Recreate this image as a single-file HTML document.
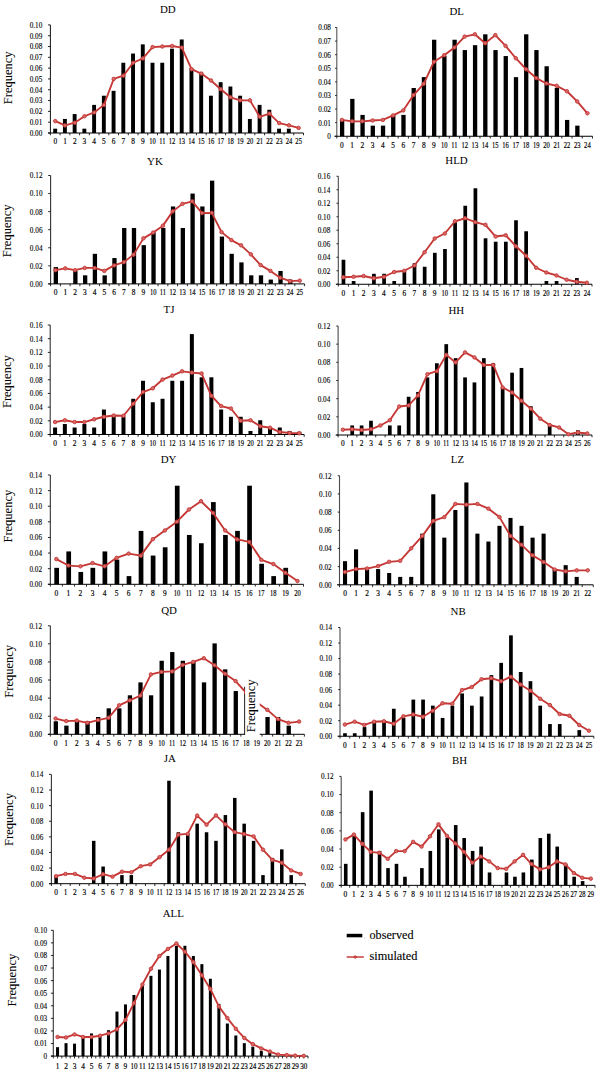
<!DOCTYPE html>
<html><head><meta charset="utf-8"><title>Frequency distributions</title>
<style>
html,body{margin:0;padding:0;background:#fff;}
body{width:600px;height:1074px;overflow:hidden;font-family:"Liberation Serif",serif;}
svg{display:block;font-family:"Liberation Serif",serif;}
</style></head><body>
<svg width="600" height="1074" viewBox="0 0 600 1074">
<rect width="600" height="1074" fill="#fff"/>
<text x="167.75" y="13.2" text-anchor="middle" font-size="10.9" fill="#000">DD</text>
<rect x="53.22" y="128.68" width="3.90" height="4.32" fill="#000"/>
<rect x="62.95" y="118.95" width="3.90" height="14.05" fill="#000"/>
<rect x="72.69" y="114.08" width="3.90" height="18.92" fill="#000"/>
<rect x="82.42" y="128.68" width="3.90" height="4.32" fill="#000"/>
<rect x="92.16" y="104.89" width="3.90" height="28.11" fill="#000"/>
<rect x="101.89" y="95.71" width="3.90" height="37.29" fill="#000"/>
<rect x="111.62" y="90.84" width="3.90" height="42.16" fill="#000"/>
<rect x="121.36" y="62.74" width="3.90" height="70.26" fill="#000"/>
<rect x="131.09" y="53.55" width="3.90" height="79.45" fill="#000"/>
<rect x="140.83" y="44.36" width="3.90" height="88.64" fill="#000"/>
<rect x="150.56" y="62.74" width="3.90" height="70.26" fill="#000"/>
<rect x="160.30" y="62.74" width="3.90" height="70.26" fill="#000"/>
<rect x="170.03" y="48.68" width="3.90" height="84.32" fill="#000"/>
<rect x="179.77" y="39.49" width="3.90" height="93.51" fill="#000"/>
<rect x="189.50" y="68.14" width="3.90" height="64.86" fill="#000"/>
<rect x="199.24" y="72.46" width="3.90" height="60.54" fill="#000"/>
<rect x="208.97" y="95.71" width="3.90" height="37.29" fill="#000"/>
<rect x="218.71" y="82.19" width="3.90" height="50.81" fill="#000"/>
<rect x="228.44" y="86.52" width="3.90" height="46.48" fill="#000"/>
<rect x="238.18" y="95.71" width="3.90" height="37.29" fill="#000"/>
<rect x="247.91" y="118.95" width="3.90" height="14.05" fill="#000"/>
<rect x="257.64" y="104.89" width="3.90" height="28.11" fill="#000"/>
<rect x="267.38" y="109.76" width="3.90" height="23.24" fill="#000"/>
<rect x="277.11" y="128.68" width="3.90" height="4.32" fill="#000"/>
<rect x="286.85" y="128.68" width="3.90" height="4.32" fill="#000"/>
<path d="M50.4 24.9V133" fill="none" stroke="#111" stroke-width="1"/>
<path d="M48.0 133H303.5" fill="none" stroke="#000" stroke-width="1"/>
<path d="M48.0 133.00H50.4" stroke="#111" stroke-width="0.9"/>
<text transform="translate(42.30,135.90) scale(0.88,1)" text-anchor="end" font-size="8.2" fill="#000" stroke="#000" stroke-width="0.12">0.00</text>
<path d="M48.0 122.19H50.4" stroke="#111" stroke-width="0.9"/>
<text transform="translate(42.30,125.09) scale(0.88,1)" text-anchor="end" font-size="8.2" fill="#000" stroke="#000" stroke-width="0.12">0.01</text>
<path d="M48.0 111.38H50.4" stroke="#111" stroke-width="0.9"/>
<text transform="translate(42.30,114.28) scale(0.88,1)" text-anchor="end" font-size="8.2" fill="#000" stroke="#000" stroke-width="0.12">0.02</text>
<path d="M48.0 100.57H50.4" stroke="#111" stroke-width="0.9"/>
<text transform="translate(42.30,103.47) scale(0.88,1)" text-anchor="end" font-size="8.2" fill="#000" stroke="#000" stroke-width="0.12">0.03</text>
<path d="M48.0 89.76H50.4" stroke="#111" stroke-width="0.9"/>
<text transform="translate(42.30,92.66) scale(0.88,1)" text-anchor="end" font-size="8.2" fill="#000" stroke="#000" stroke-width="0.12">0.04</text>
<path d="M48.0 78.95H50.4" stroke="#111" stroke-width="0.9"/>
<text transform="translate(42.30,81.85) scale(0.88,1)" text-anchor="end" font-size="8.2" fill="#000" stroke="#000" stroke-width="0.12">0.05</text>
<path d="M48.0 68.14H50.4" stroke="#111" stroke-width="0.9"/>
<text transform="translate(42.30,71.04) scale(0.88,1)" text-anchor="end" font-size="8.2" fill="#000" stroke="#000" stroke-width="0.12">0.06</text>
<path d="M48.0 57.33H50.4" stroke="#111" stroke-width="0.9"/>
<text transform="translate(42.30,60.23) scale(0.88,1)" text-anchor="end" font-size="8.2" fill="#000" stroke="#000" stroke-width="0.12">0.07</text>
<path d="M48.0 46.52H50.4" stroke="#111" stroke-width="0.9"/>
<text transform="translate(42.30,49.42) scale(0.88,1)" text-anchor="end" font-size="8.2" fill="#000" stroke="#000" stroke-width="0.12">0.08</text>
<path d="M48.0 35.71H50.4" stroke="#111" stroke-width="0.9"/>
<text transform="translate(42.30,38.61) scale(0.88,1)" text-anchor="end" font-size="8.2" fill="#000" stroke="#000" stroke-width="0.12">0.09</text>
<path d="M48.0 24.90H50.4" stroke="#111" stroke-width="0.9"/>
<text transform="translate(42.30,27.80) scale(0.88,1)" text-anchor="end" font-size="8.2" fill="#000" stroke="#000" stroke-width="0.12">0.10</text>
<path d="M50.40 133v2.3" stroke="#111" stroke-width="0.9"/>
<path d="M60.13 133v2.3" stroke="#111" stroke-width="0.9"/>
<path d="M69.87 133v2.3" stroke="#111" stroke-width="0.9"/>
<path d="M79.60 133v2.3" stroke="#111" stroke-width="0.9"/>
<path d="M89.34 133v2.3" stroke="#111" stroke-width="0.9"/>
<path d="M99.07 133v2.3" stroke="#111" stroke-width="0.9"/>
<path d="M108.81 133v2.3" stroke="#111" stroke-width="0.9"/>
<path d="M118.54 133v2.3" stroke="#111" stroke-width="0.9"/>
<path d="M128.28 133v2.3" stroke="#111" stroke-width="0.9"/>
<path d="M138.01 133v2.3" stroke="#111" stroke-width="0.9"/>
<path d="M147.75 133v2.3" stroke="#111" stroke-width="0.9"/>
<path d="M157.48 133v2.3" stroke="#111" stroke-width="0.9"/>
<path d="M167.22 133v2.3" stroke="#111" stroke-width="0.9"/>
<path d="M176.95 133v2.3" stroke="#111" stroke-width="0.9"/>
<path d="M186.68 133v2.3" stroke="#111" stroke-width="0.9"/>
<path d="M196.42 133v2.3" stroke="#111" stroke-width="0.9"/>
<path d="M206.15 133v2.3" stroke="#111" stroke-width="0.9"/>
<path d="M215.89 133v2.3" stroke="#111" stroke-width="0.9"/>
<path d="M225.62 133v2.3" stroke="#111" stroke-width="0.9"/>
<path d="M235.36 133v2.3" stroke="#111" stroke-width="0.9"/>
<path d="M245.09 133v2.3" stroke="#111" stroke-width="0.9"/>
<path d="M254.83 133v2.3" stroke="#111" stroke-width="0.9"/>
<path d="M264.56 133v2.3" stroke="#111" stroke-width="0.9"/>
<path d="M274.30 133v2.3" stroke="#111" stroke-width="0.9"/>
<path d="M284.03 133v2.3" stroke="#111" stroke-width="0.9"/>
<path d="M293.77 133v2.3" stroke="#111" stroke-width="0.9"/>
<path d="M303.50 133v2.3" stroke="#111" stroke-width="0.9"/>
<text transform="translate(55.27,144.30) scale(0.9,1)" text-anchor="middle" font-size="8.2" fill="#000" stroke="#000" stroke-width="0.18">0</text>
<text transform="translate(65.00,144.30) scale(0.9,1)" text-anchor="middle" font-size="8.2" fill="#000" stroke="#000" stroke-width="0.18">1</text>
<text transform="translate(74.74,144.30) scale(0.9,1)" text-anchor="middle" font-size="8.2" fill="#000" stroke="#000" stroke-width="0.18">2</text>
<text transform="translate(84.47,144.30) scale(0.9,1)" text-anchor="middle" font-size="8.2" fill="#000" stroke="#000" stroke-width="0.18">3</text>
<text transform="translate(94.21,144.30) scale(0.9,1)" text-anchor="middle" font-size="8.2" fill="#000" stroke="#000" stroke-width="0.18">4</text>
<text transform="translate(103.94,144.30) scale(0.9,1)" text-anchor="middle" font-size="8.2" fill="#000" stroke="#000" stroke-width="0.18">5</text>
<text transform="translate(113.67,144.30) scale(0.9,1)" text-anchor="middle" font-size="8.2" fill="#000" stroke="#000" stroke-width="0.18">6</text>
<text transform="translate(123.41,144.30) scale(0.9,1)" text-anchor="middle" font-size="8.2" fill="#000" stroke="#000" stroke-width="0.18">7</text>
<text transform="translate(133.14,144.30) scale(0.9,1)" text-anchor="middle" font-size="8.2" fill="#000" stroke="#000" stroke-width="0.18">8</text>
<text transform="translate(142.88,144.30) scale(0.9,1)" text-anchor="middle" font-size="8.2" fill="#000" stroke="#000" stroke-width="0.18">9</text>
<text transform="translate(152.61,144.30) scale(0.8,1)" text-anchor="middle" font-size="8.2" fill="#000" stroke="#000" stroke-width="0.18">10</text>
<text transform="translate(162.35,144.30) scale(0.8,1)" text-anchor="middle" font-size="8.2" fill="#000" stroke="#000" stroke-width="0.18">11</text>
<text transform="translate(172.08,144.30) scale(0.8,1)" text-anchor="middle" font-size="8.2" fill="#000" stroke="#000" stroke-width="0.18">12</text>
<text transform="translate(181.82,144.30) scale(0.8,1)" text-anchor="middle" font-size="8.2" fill="#000" stroke="#000" stroke-width="0.18">13</text>
<text transform="translate(191.55,144.30) scale(0.8,1)" text-anchor="middle" font-size="8.2" fill="#000" stroke="#000" stroke-width="0.18">14</text>
<text transform="translate(201.29,144.30) scale(0.8,1)" text-anchor="middle" font-size="8.2" fill="#000" stroke="#000" stroke-width="0.18">15</text>
<text transform="translate(211.02,144.30) scale(0.8,1)" text-anchor="middle" font-size="8.2" fill="#000" stroke="#000" stroke-width="0.18">16</text>
<text transform="translate(220.76,144.30) scale(0.8,1)" text-anchor="middle" font-size="8.2" fill="#000" stroke="#000" stroke-width="0.18">17</text>
<text transform="translate(230.49,144.30) scale(0.8,1)" text-anchor="middle" font-size="8.2" fill="#000" stroke="#000" stroke-width="0.18">18</text>
<text transform="translate(240.22,144.30) scale(0.8,1)" text-anchor="middle" font-size="8.2" fill="#000" stroke="#000" stroke-width="0.18">19</text>
<text transform="translate(249.96,144.30) scale(0.8,1)" text-anchor="middle" font-size="8.2" fill="#000" stroke="#000" stroke-width="0.18">20</text>
<text transform="translate(259.69,144.30) scale(0.8,1)" text-anchor="middle" font-size="8.2" fill="#000" stroke="#000" stroke-width="0.18">21</text>
<text transform="translate(269.43,144.30) scale(0.8,1)" text-anchor="middle" font-size="8.2" fill="#000" stroke="#000" stroke-width="0.18">22</text>
<text transform="translate(279.16,144.30) scale(0.8,1)" text-anchor="middle" font-size="8.2" fill="#000" stroke="#000" stroke-width="0.18">23</text>
<text transform="translate(288.90,144.30) scale(0.8,1)" text-anchor="middle" font-size="8.2" fill="#000" stroke="#000" stroke-width="0.18">24</text>
<text transform="translate(298.63,144.30) scale(0.8,1)" text-anchor="middle" font-size="8.2" fill="#000" stroke="#000" stroke-width="0.18">25</text>
<text transform="translate(12.399999999999999,77.8) rotate(-90)" text-anchor="middle" font-size="12.5" fill="#000" stroke="#000" stroke-width="0.06">Frequency</text>
<path d="M55.27 121.11 L65.00 125.43 L74.74 122.73 L84.47 116.24 L94.21 112.46 L103.94 104.89 L113.67 78.95 L123.41 75.71 L133.14 62.74 L142.88 58.41 L152.61 47.06 L162.35 46.52 L172.08 45.98 L181.82 47.60 L191.55 69.22 L201.29 73.55 L211.02 80.46 L220.76 89.22 L230.49 97.33 L240.22 100.35 L249.96 100.35 L259.69 116.78 L269.43 113.54 L279.16 123.05 L288.90 125.32 L298.63 127.92" fill="none" stroke="#c43735" stroke-width="1.85" stroke-linejoin="round"/>
<circle cx="55.27" cy="121.11" r="1.75" fill="#d96a68" stroke="#c43735" stroke-width="0.9"/>
<circle cx="65.00" cy="125.43" r="1.75" fill="#d96a68" stroke="#c43735" stroke-width="0.9"/>
<circle cx="74.74" cy="122.73" r="1.75" fill="#d96a68" stroke="#c43735" stroke-width="0.9"/>
<circle cx="84.47" cy="116.24" r="1.75" fill="#d96a68" stroke="#c43735" stroke-width="0.9"/>
<circle cx="94.21" cy="112.46" r="1.75" fill="#d96a68" stroke="#c43735" stroke-width="0.9"/>
<circle cx="103.94" cy="104.89" r="1.75" fill="#d96a68" stroke="#c43735" stroke-width="0.9"/>
<circle cx="113.67" cy="78.95" r="1.75" fill="#d96a68" stroke="#c43735" stroke-width="0.9"/>
<circle cx="123.41" cy="75.71" r="1.75" fill="#d96a68" stroke="#c43735" stroke-width="0.9"/>
<circle cx="133.14" cy="62.74" r="1.75" fill="#d96a68" stroke="#c43735" stroke-width="0.9"/>
<circle cx="142.88" cy="58.41" r="1.75" fill="#d96a68" stroke="#c43735" stroke-width="0.9"/>
<circle cx="152.61" cy="47.06" r="1.75" fill="#d96a68" stroke="#c43735" stroke-width="0.9"/>
<circle cx="162.35" cy="46.52" r="1.75" fill="#d96a68" stroke="#c43735" stroke-width="0.9"/>
<circle cx="172.08" cy="45.98" r="1.75" fill="#d96a68" stroke="#c43735" stroke-width="0.9"/>
<circle cx="181.82" cy="47.60" r="1.75" fill="#d96a68" stroke="#c43735" stroke-width="0.9"/>
<circle cx="191.55" cy="69.22" r="1.75" fill="#d96a68" stroke="#c43735" stroke-width="0.9"/>
<circle cx="201.29" cy="73.55" r="1.75" fill="#d96a68" stroke="#c43735" stroke-width="0.9"/>
<circle cx="211.02" cy="80.46" r="1.75" fill="#d96a68" stroke="#c43735" stroke-width="0.9"/>
<circle cx="220.76" cy="89.22" r="1.75" fill="#d96a68" stroke="#c43735" stroke-width="0.9"/>
<circle cx="230.49" cy="97.33" r="1.75" fill="#d96a68" stroke="#c43735" stroke-width="0.9"/>
<circle cx="240.22" cy="100.35" r="1.75" fill="#d96a68" stroke="#c43735" stroke-width="0.9"/>
<circle cx="249.96" cy="100.35" r="1.75" fill="#d96a68" stroke="#c43735" stroke-width="0.9"/>
<circle cx="259.69" cy="116.78" r="1.75" fill="#d96a68" stroke="#c43735" stroke-width="0.9"/>
<circle cx="269.43" cy="113.54" r="1.75" fill="#d96a68" stroke="#c43735" stroke-width="0.9"/>
<circle cx="279.16" cy="123.05" r="1.75" fill="#d96a68" stroke="#c43735" stroke-width="0.9"/>
<circle cx="288.90" cy="125.32" r="1.75" fill="#d96a68" stroke="#c43735" stroke-width="0.9"/>
<circle cx="298.63" cy="127.92" r="1.75" fill="#d96a68" stroke="#c43735" stroke-width="0.9"/>
<text x="456.75" y="15.1" text-anchor="middle" font-size="10.9" fill="#000">DL</text>
<rect x="339.96" y="119.94" width="4.30" height="16.31" fill="#000"/>
<rect x="350.19" y="98.87" width="4.30" height="37.38" fill="#000"/>
<rect x="360.42" y="114.91" width="4.30" height="21.34" fill="#000"/>
<rect x="370.65" y="125.65" width="4.30" height="10.60" fill="#000"/>
<rect x="380.88" y="125.65" width="4.30" height="10.60" fill="#000"/>
<rect x="391.10" y="114.91" width="4.30" height="21.34" fill="#000"/>
<rect x="401.33" y="114.91" width="4.30" height="21.34" fill="#000"/>
<rect x="411.56" y="87.99" width="4.30" height="48.26" fill="#000"/>
<rect x="421.79" y="77.12" width="4.30" height="59.13" fill="#000"/>
<rect x="432.02" y="39.73" width="4.30" height="96.52" fill="#000"/>
<rect x="442.24" y="56.05" width="4.30" height="80.20" fill="#000"/>
<rect x="452.47" y="39.73" width="4.30" height="96.52" fill="#000"/>
<rect x="462.70" y="50.07" width="4.30" height="86.18" fill="#000"/>
<rect x="472.93" y="45.17" width="4.30" height="91.08" fill="#000"/>
<rect x="483.16" y="34.30" width="4.30" height="101.95" fill="#000"/>
<rect x="493.38" y="50.07" width="4.30" height="86.18" fill="#000"/>
<rect x="503.61" y="56.05" width="4.30" height="80.20" fill="#000"/>
<rect x="513.84" y="77.12" width="4.30" height="59.13" fill="#000"/>
<rect x="524.07" y="34.30" width="4.30" height="101.95" fill="#000"/>
<rect x="534.30" y="50.07" width="4.30" height="86.18" fill="#000"/>
<rect x="544.52" y="66.24" width="4.30" height="70.01" fill="#000"/>
<rect x="554.75" y="87.99" width="4.30" height="48.26" fill="#000"/>
<rect x="564.98" y="119.94" width="4.30" height="16.31" fill="#000"/>
<rect x="575.21" y="125.65" width="4.30" height="10.60" fill="#000"/>
<path d="M336.8 27.5V136.25" fill="none" stroke="#555" stroke-width="1.1"/>
<path d="M334.40000000000003 136.25H592.5" fill="none" stroke="#000" stroke-width="1"/>
<path d="M335.1 136.25H336.8" stroke="#111" stroke-width="0.9"/>
<text transform="translate(330.90,139.15) scale(0.88,1)" text-anchor="end" font-size="8.2" fill="#000" stroke="#000" stroke-width="0.12">0</text>
<path d="M335.1 122.66H336.8" stroke="#111" stroke-width="0.9"/>
<text transform="translate(330.90,125.56) scale(0.88,1)" text-anchor="end" font-size="8.2" fill="#000" stroke="#000" stroke-width="0.12">0.01</text>
<path d="M335.1 109.06H336.8" stroke="#111" stroke-width="0.9"/>
<text transform="translate(330.90,111.96) scale(0.88,1)" text-anchor="end" font-size="8.2" fill="#000" stroke="#000" stroke-width="0.12">0.02</text>
<path d="M335.1 95.47H336.8" stroke="#111" stroke-width="0.9"/>
<text transform="translate(330.90,98.37) scale(0.88,1)" text-anchor="end" font-size="8.2" fill="#000" stroke="#000" stroke-width="0.12">0.03</text>
<path d="M335.1 81.88H336.8" stroke="#111" stroke-width="0.9"/>
<text transform="translate(330.90,84.78) scale(0.88,1)" text-anchor="end" font-size="8.2" fill="#000" stroke="#000" stroke-width="0.12">0.04</text>
<path d="M335.1 68.28H336.8" stroke="#111" stroke-width="0.9"/>
<text transform="translate(330.90,71.18) scale(0.88,1)" text-anchor="end" font-size="8.2" fill="#000" stroke="#000" stroke-width="0.12">0.05</text>
<path d="M335.1 54.69H336.8" stroke="#111" stroke-width="0.9"/>
<text transform="translate(330.90,57.59) scale(0.88,1)" text-anchor="end" font-size="8.2" fill="#000" stroke="#000" stroke-width="0.12">0.06</text>
<path d="M335.1 41.09H336.8" stroke="#111" stroke-width="0.9"/>
<text transform="translate(330.90,43.99) scale(0.88,1)" text-anchor="end" font-size="8.2" fill="#000" stroke="#000" stroke-width="0.12">0.07</text>
<path d="M335.1 27.50H336.8" stroke="#111" stroke-width="0.9"/>
<text transform="translate(330.90,30.40) scale(0.88,1)" text-anchor="end" font-size="8.2" fill="#000" stroke="#000" stroke-width="0.12">0.08</text>
<path d="M336.80 136.25v2.3" stroke="#111" stroke-width="0.9"/>
<path d="M347.03 136.25v2.3" stroke="#111" stroke-width="0.9"/>
<path d="M357.26 136.25v2.3" stroke="#111" stroke-width="0.9"/>
<path d="M367.48 136.25v2.3" stroke="#111" stroke-width="0.9"/>
<path d="M377.71 136.25v2.3" stroke="#111" stroke-width="0.9"/>
<path d="M387.94 136.25v2.3" stroke="#111" stroke-width="0.9"/>
<path d="M398.17 136.25v2.3" stroke="#111" stroke-width="0.9"/>
<path d="M408.40 136.25v2.3" stroke="#111" stroke-width="0.9"/>
<path d="M418.62 136.25v2.3" stroke="#111" stroke-width="0.9"/>
<path d="M428.85 136.25v2.3" stroke="#111" stroke-width="0.9"/>
<path d="M439.08 136.25v2.3" stroke="#111" stroke-width="0.9"/>
<path d="M449.31 136.25v2.3" stroke="#111" stroke-width="0.9"/>
<path d="M459.54 136.25v2.3" stroke="#111" stroke-width="0.9"/>
<path d="M469.76 136.25v2.3" stroke="#111" stroke-width="0.9"/>
<path d="M479.99 136.25v2.3" stroke="#111" stroke-width="0.9"/>
<path d="M490.22 136.25v2.3" stroke="#111" stroke-width="0.9"/>
<path d="M500.45 136.25v2.3" stroke="#111" stroke-width="0.9"/>
<path d="M510.68 136.25v2.3" stroke="#111" stroke-width="0.9"/>
<path d="M520.90 136.25v2.3" stroke="#111" stroke-width="0.9"/>
<path d="M531.13 136.25v2.3" stroke="#111" stroke-width="0.9"/>
<path d="M541.36 136.25v2.3" stroke="#111" stroke-width="0.9"/>
<path d="M551.59 136.25v2.3" stroke="#111" stroke-width="0.9"/>
<path d="M561.82 136.25v2.3" stroke="#111" stroke-width="0.9"/>
<path d="M572.04 136.25v2.3" stroke="#111" stroke-width="0.9"/>
<path d="M582.27 136.25v2.3" stroke="#111" stroke-width="0.9"/>
<path d="M592.50 136.25v2.3" stroke="#111" stroke-width="0.9"/>
<text transform="translate(341.91,147.55) scale(0.9,1)" text-anchor="middle" font-size="8.2" fill="#000" stroke="#000" stroke-width="0.18">0</text>
<text transform="translate(352.14,147.55) scale(0.9,1)" text-anchor="middle" font-size="8.2" fill="#000" stroke="#000" stroke-width="0.18">1</text>
<text transform="translate(362.37,147.55) scale(0.9,1)" text-anchor="middle" font-size="8.2" fill="#000" stroke="#000" stroke-width="0.18">2</text>
<text transform="translate(372.60,147.55) scale(0.9,1)" text-anchor="middle" font-size="8.2" fill="#000" stroke="#000" stroke-width="0.18">3</text>
<text transform="translate(382.83,147.55) scale(0.9,1)" text-anchor="middle" font-size="8.2" fill="#000" stroke="#000" stroke-width="0.18">4</text>
<text transform="translate(393.05,147.55) scale(0.9,1)" text-anchor="middle" font-size="8.2" fill="#000" stroke="#000" stroke-width="0.18">5</text>
<text transform="translate(403.28,147.55) scale(0.9,1)" text-anchor="middle" font-size="8.2" fill="#000" stroke="#000" stroke-width="0.18">6</text>
<text transform="translate(413.51,147.55) scale(0.9,1)" text-anchor="middle" font-size="8.2" fill="#000" stroke="#000" stroke-width="0.18">7</text>
<text transform="translate(423.74,147.55) scale(0.9,1)" text-anchor="middle" font-size="8.2" fill="#000" stroke="#000" stroke-width="0.18">8</text>
<text transform="translate(433.97,147.55) scale(0.9,1)" text-anchor="middle" font-size="8.2" fill="#000" stroke="#000" stroke-width="0.18">9</text>
<text transform="translate(444.19,147.55) scale(0.8,1)" text-anchor="middle" font-size="8.2" fill="#000" stroke="#000" stroke-width="0.18">10</text>
<text transform="translate(454.42,147.55) scale(0.8,1)" text-anchor="middle" font-size="8.2" fill="#000" stroke="#000" stroke-width="0.18">11</text>
<text transform="translate(464.65,147.55) scale(0.8,1)" text-anchor="middle" font-size="8.2" fill="#000" stroke="#000" stroke-width="0.18">12</text>
<text transform="translate(474.88,147.55) scale(0.8,1)" text-anchor="middle" font-size="8.2" fill="#000" stroke="#000" stroke-width="0.18">13</text>
<text transform="translate(485.11,147.55) scale(0.8,1)" text-anchor="middle" font-size="8.2" fill="#000" stroke="#000" stroke-width="0.18">14</text>
<text transform="translate(495.33,147.55) scale(0.8,1)" text-anchor="middle" font-size="8.2" fill="#000" stroke="#000" stroke-width="0.18">15</text>
<text transform="translate(505.56,147.55) scale(0.8,1)" text-anchor="middle" font-size="8.2" fill="#000" stroke="#000" stroke-width="0.18">16</text>
<text transform="translate(515.79,147.55) scale(0.8,1)" text-anchor="middle" font-size="8.2" fill="#000" stroke="#000" stroke-width="0.18">17</text>
<text transform="translate(526.02,147.55) scale(0.8,1)" text-anchor="middle" font-size="8.2" fill="#000" stroke="#000" stroke-width="0.18">18</text>
<text transform="translate(536.25,147.55) scale(0.8,1)" text-anchor="middle" font-size="8.2" fill="#000" stroke="#000" stroke-width="0.18">19</text>
<text transform="translate(546.47,147.55) scale(0.8,1)" text-anchor="middle" font-size="8.2" fill="#000" stroke="#000" stroke-width="0.18">20</text>
<text transform="translate(556.70,147.55) scale(0.8,1)" text-anchor="middle" font-size="8.2" fill="#000" stroke="#000" stroke-width="0.18">21</text>
<text transform="translate(566.93,147.55) scale(0.8,1)" text-anchor="middle" font-size="8.2" fill="#000" stroke="#000" stroke-width="0.18">22</text>
<text transform="translate(577.16,147.55) scale(0.8,1)" text-anchor="middle" font-size="8.2" fill="#000" stroke="#000" stroke-width="0.18">23</text>
<text transform="translate(587.39,147.55) scale(0.8,1)" text-anchor="middle" font-size="8.2" fill="#000" stroke="#000" stroke-width="0.18">24</text>
<path d="M341.91 119.94 L352.14 121.30 L362.37 121.30 L372.60 120.48 L382.83 119.94 L393.05 115.45 L403.28 110.42 L413.51 95.06 L423.74 83.78 L433.97 61.76 L444.19 55.23 L454.42 47.48 L464.65 36.61 L474.88 34.30 L485.11 43.27 L495.33 35.11 L505.56 45.85 L515.79 58.22 L526.02 69.23 L536.25 78.07 L546.47 83.51 L556.70 85.82 L566.93 91.25 L577.16 101.45 L587.39 113.28" fill="none" stroke="#c43735" stroke-width="1.85" stroke-linejoin="round"/>
<circle cx="341.91" cy="119.94" r="1.75" fill="#d96a68" stroke="#c43735" stroke-width="0.9"/>
<circle cx="352.14" cy="121.30" r="1.75" fill="#d96a68" stroke="#c43735" stroke-width="0.9"/>
<circle cx="362.37" cy="121.30" r="1.75" fill="#d96a68" stroke="#c43735" stroke-width="0.9"/>
<circle cx="372.60" cy="120.48" r="1.75" fill="#d96a68" stroke="#c43735" stroke-width="0.9"/>
<circle cx="382.83" cy="119.94" r="1.75" fill="#d96a68" stroke="#c43735" stroke-width="0.9"/>
<circle cx="393.05" cy="115.45" r="1.75" fill="#d96a68" stroke="#c43735" stroke-width="0.9"/>
<circle cx="403.28" cy="110.42" r="1.75" fill="#d96a68" stroke="#c43735" stroke-width="0.9"/>
<circle cx="413.51" cy="95.06" r="1.75" fill="#d96a68" stroke="#c43735" stroke-width="0.9"/>
<circle cx="423.74" cy="83.78" r="1.75" fill="#d96a68" stroke="#c43735" stroke-width="0.9"/>
<circle cx="433.97" cy="61.76" r="1.75" fill="#d96a68" stroke="#c43735" stroke-width="0.9"/>
<circle cx="444.19" cy="55.23" r="1.75" fill="#d96a68" stroke="#c43735" stroke-width="0.9"/>
<circle cx="454.42" cy="47.48" r="1.75" fill="#d96a68" stroke="#c43735" stroke-width="0.9"/>
<circle cx="464.65" cy="36.61" r="1.75" fill="#d96a68" stroke="#c43735" stroke-width="0.9"/>
<circle cx="474.88" cy="34.30" r="1.75" fill="#d96a68" stroke="#c43735" stroke-width="0.9"/>
<circle cx="485.11" cy="43.27" r="1.75" fill="#d96a68" stroke="#c43735" stroke-width="0.9"/>
<circle cx="495.33" cy="35.11" r="1.75" fill="#d96a68" stroke="#c43735" stroke-width="0.9"/>
<circle cx="505.56" cy="45.85" r="1.75" fill="#d96a68" stroke="#c43735" stroke-width="0.9"/>
<circle cx="515.79" cy="58.22" r="1.75" fill="#d96a68" stroke="#c43735" stroke-width="0.9"/>
<circle cx="526.02" cy="69.23" r="1.75" fill="#d96a68" stroke="#c43735" stroke-width="0.9"/>
<circle cx="536.25" cy="78.07" r="1.75" fill="#d96a68" stroke="#c43735" stroke-width="0.9"/>
<circle cx="546.47" cy="83.51" r="1.75" fill="#d96a68" stroke="#c43735" stroke-width="0.9"/>
<circle cx="556.70" cy="85.82" r="1.75" fill="#d96a68" stroke="#c43735" stroke-width="0.9"/>
<circle cx="566.93" cy="91.25" r="1.75" fill="#d96a68" stroke="#c43735" stroke-width="0.9"/>
<circle cx="577.16" cy="101.45" r="1.75" fill="#d96a68" stroke="#c43735" stroke-width="0.9"/>
<circle cx="587.39" cy="113.28" r="1.75" fill="#d96a68" stroke="#c43735" stroke-width="0.9"/>
<text x="154.9" y="164.8" text-anchor="middle" font-size="10.9" fill="#000">YK</text>
<rect x="53.68" y="267.10" width="4.30" height="16.80" fill="#000"/>
<rect x="73.22" y="270.98" width="4.30" height="12.92" fill="#000"/>
<rect x="82.99" y="275.32" width="4.30" height="8.58" fill="#000"/>
<rect x="92.76" y="253.82" width="4.30" height="30.08" fill="#000"/>
<rect x="102.53" y="275.32" width="4.30" height="8.58" fill="#000"/>
<rect x="112.30" y="258.06" width="4.30" height="25.84" fill="#000"/>
<rect x="122.07" y="227.98" width="4.30" height="55.92" fill="#000"/>
<rect x="131.84" y="227.98" width="4.30" height="55.92" fill="#000"/>
<rect x="141.61" y="245.15" width="4.30" height="38.75" fill="#000"/>
<rect x="151.38" y="232.32" width="4.30" height="51.58" fill="#000"/>
<rect x="161.15" y="227.98" width="4.30" height="55.92" fill="#000"/>
<rect x="170.92" y="206.48" width="4.30" height="77.42" fill="#000"/>
<rect x="180.68" y="227.98" width="4.30" height="55.92" fill="#000"/>
<rect x="190.45" y="193.57" width="4.30" height="90.33" fill="#000"/>
<rect x="200.22" y="206.48" width="4.30" height="77.42" fill="#000"/>
<rect x="209.99" y="180.65" width="4.30" height="103.25" fill="#000"/>
<rect x="219.76" y="236.57" width="4.30" height="47.33" fill="#000"/>
<rect x="229.53" y="253.82" width="4.30" height="30.08" fill="#000"/>
<rect x="239.30" y="262.40" width="4.30" height="21.50" fill="#000"/>
<rect x="249.07" y="275.32" width="4.30" height="8.58" fill="#000"/>
<rect x="258.84" y="275.32" width="4.30" height="8.58" fill="#000"/>
<rect x="268.61" y="279.56" width="4.30" height="4.34" fill="#000"/>
<rect x="278.38" y="270.98" width="4.30" height="12.92" fill="#000"/>
<rect x="288.15" y="279.56" width="4.30" height="4.34" fill="#000"/>
<path d="M50.6 175.5V283.9" fill="none" stroke="#333" stroke-width="1.1"/>
<path d="M48.2 283.9H304.6" fill="none" stroke="#000" stroke-width="1"/>
<path d="M48.2 283.90H50.6" stroke="#111" stroke-width="0.9"/>
<text transform="translate(42.50,286.80) scale(0.88,1)" text-anchor="end" font-size="8.2" fill="#000" stroke="#000" stroke-width="0.12">0.00</text>
<path d="M48.2 265.83H50.6" stroke="#111" stroke-width="0.9"/>
<text transform="translate(42.50,268.73) scale(0.88,1)" text-anchor="end" font-size="8.2" fill="#000" stroke="#000" stroke-width="0.12">0.02</text>
<path d="M48.2 247.77H50.6" stroke="#111" stroke-width="0.9"/>
<text transform="translate(42.50,250.67) scale(0.88,1)" text-anchor="end" font-size="8.2" fill="#000" stroke="#000" stroke-width="0.12">0.04</text>
<path d="M48.2 229.70H50.6" stroke="#111" stroke-width="0.9"/>
<text transform="translate(42.50,232.60) scale(0.88,1)" text-anchor="end" font-size="8.2" fill="#000" stroke="#000" stroke-width="0.12">0.06</text>
<path d="M48.2 211.63H50.6" stroke="#111" stroke-width="0.9"/>
<text transform="translate(42.50,214.53) scale(0.88,1)" text-anchor="end" font-size="8.2" fill="#000" stroke="#000" stroke-width="0.12">0.08</text>
<path d="M48.2 193.57H50.6" stroke="#111" stroke-width="0.9"/>
<text transform="translate(42.50,196.47) scale(0.88,1)" text-anchor="end" font-size="8.2" fill="#000" stroke="#000" stroke-width="0.12">0.10</text>
<path d="M48.2 175.50H50.6" stroke="#111" stroke-width="0.9"/>
<text transform="translate(42.50,178.40) scale(0.88,1)" text-anchor="end" font-size="8.2" fill="#000" stroke="#000" stroke-width="0.12">0.12</text>
<path d="M50.60 283.9v2.3" stroke="#111" stroke-width="0.9"/>
<path d="M60.37 283.9v2.3" stroke="#111" stroke-width="0.9"/>
<path d="M70.14 283.9v2.3" stroke="#111" stroke-width="0.9"/>
<path d="M79.91 283.9v2.3" stroke="#111" stroke-width="0.9"/>
<path d="M89.68 283.9v2.3" stroke="#111" stroke-width="0.9"/>
<path d="M99.45 283.9v2.3" stroke="#111" stroke-width="0.9"/>
<path d="M109.22 283.9v2.3" stroke="#111" stroke-width="0.9"/>
<path d="M118.98 283.9v2.3" stroke="#111" stroke-width="0.9"/>
<path d="M128.75 283.9v2.3" stroke="#111" stroke-width="0.9"/>
<path d="M138.52 283.9v2.3" stroke="#111" stroke-width="0.9"/>
<path d="M148.29 283.9v2.3" stroke="#111" stroke-width="0.9"/>
<path d="M158.06 283.9v2.3" stroke="#111" stroke-width="0.9"/>
<path d="M167.83 283.9v2.3" stroke="#111" stroke-width="0.9"/>
<path d="M177.60 283.9v2.3" stroke="#111" stroke-width="0.9"/>
<path d="M187.37 283.9v2.3" stroke="#111" stroke-width="0.9"/>
<path d="M197.14 283.9v2.3" stroke="#111" stroke-width="0.9"/>
<path d="M206.91 283.9v2.3" stroke="#111" stroke-width="0.9"/>
<path d="M216.68 283.9v2.3" stroke="#111" stroke-width="0.9"/>
<path d="M226.45 283.9v2.3" stroke="#111" stroke-width="0.9"/>
<path d="M236.22 283.9v2.3" stroke="#111" stroke-width="0.9"/>
<path d="M245.98 283.9v2.3" stroke="#111" stroke-width="0.9"/>
<path d="M255.75 283.9v2.3" stroke="#111" stroke-width="0.9"/>
<path d="M265.52 283.9v2.3" stroke="#111" stroke-width="0.9"/>
<path d="M275.29 283.9v2.3" stroke="#111" stroke-width="0.9"/>
<path d="M285.06 283.9v2.3" stroke="#111" stroke-width="0.9"/>
<path d="M294.83 283.9v2.3" stroke="#111" stroke-width="0.9"/>
<path d="M304.60 283.9v2.3" stroke="#111" stroke-width="0.9"/>
<text transform="translate(55.48,295.20) scale(0.9,1)" text-anchor="middle" font-size="8.2" fill="#000" stroke="#000" stroke-width="0.18">0</text>
<text transform="translate(65.25,295.20) scale(0.9,1)" text-anchor="middle" font-size="8.2" fill="#000" stroke="#000" stroke-width="0.18">1</text>
<text transform="translate(75.02,295.20) scale(0.9,1)" text-anchor="middle" font-size="8.2" fill="#000" stroke="#000" stroke-width="0.18">2</text>
<text transform="translate(84.79,295.20) scale(0.9,1)" text-anchor="middle" font-size="8.2" fill="#000" stroke="#000" stroke-width="0.18">3</text>
<text transform="translate(94.56,295.20) scale(0.9,1)" text-anchor="middle" font-size="8.2" fill="#000" stroke="#000" stroke-width="0.18">4</text>
<text transform="translate(104.33,295.20) scale(0.9,1)" text-anchor="middle" font-size="8.2" fill="#000" stroke="#000" stroke-width="0.18">5</text>
<text transform="translate(114.10,295.20) scale(0.9,1)" text-anchor="middle" font-size="8.2" fill="#000" stroke="#000" stroke-width="0.18">6</text>
<text transform="translate(123.87,295.20) scale(0.9,1)" text-anchor="middle" font-size="8.2" fill="#000" stroke="#000" stroke-width="0.18">7</text>
<text transform="translate(133.64,295.20) scale(0.9,1)" text-anchor="middle" font-size="8.2" fill="#000" stroke="#000" stroke-width="0.18">8</text>
<text transform="translate(143.41,295.20) scale(0.9,1)" text-anchor="middle" font-size="8.2" fill="#000" stroke="#000" stroke-width="0.18">9</text>
<text transform="translate(153.18,295.20) scale(0.8,1)" text-anchor="middle" font-size="8.2" fill="#000" stroke="#000" stroke-width="0.18">10</text>
<text transform="translate(162.95,295.20) scale(0.8,1)" text-anchor="middle" font-size="8.2" fill="#000" stroke="#000" stroke-width="0.18">11</text>
<text transform="translate(172.72,295.20) scale(0.8,1)" text-anchor="middle" font-size="8.2" fill="#000" stroke="#000" stroke-width="0.18">12</text>
<text transform="translate(182.48,295.20) scale(0.8,1)" text-anchor="middle" font-size="8.2" fill="#000" stroke="#000" stroke-width="0.18">13</text>
<text transform="translate(192.25,295.20) scale(0.8,1)" text-anchor="middle" font-size="8.2" fill="#000" stroke="#000" stroke-width="0.18">14</text>
<text transform="translate(202.02,295.20) scale(0.8,1)" text-anchor="middle" font-size="8.2" fill="#000" stroke="#000" stroke-width="0.18">15</text>
<text transform="translate(211.79,295.20) scale(0.8,1)" text-anchor="middle" font-size="8.2" fill="#000" stroke="#000" stroke-width="0.18">16</text>
<text transform="translate(221.56,295.20) scale(0.8,1)" text-anchor="middle" font-size="8.2" fill="#000" stroke="#000" stroke-width="0.18">17</text>
<text transform="translate(231.33,295.20) scale(0.8,1)" text-anchor="middle" font-size="8.2" fill="#000" stroke="#000" stroke-width="0.18">18</text>
<text transform="translate(241.10,295.20) scale(0.8,1)" text-anchor="middle" font-size="8.2" fill="#000" stroke="#000" stroke-width="0.18">19</text>
<text transform="translate(250.87,295.20) scale(0.8,1)" text-anchor="middle" font-size="8.2" fill="#000" stroke="#000" stroke-width="0.18">20</text>
<text transform="translate(260.64,295.20) scale(0.8,1)" text-anchor="middle" font-size="8.2" fill="#000" stroke="#000" stroke-width="0.18">21</text>
<text transform="translate(270.41,295.20) scale(0.8,1)" text-anchor="middle" font-size="8.2" fill="#000" stroke="#000" stroke-width="0.18">22</text>
<text transform="translate(280.18,295.20) scale(0.8,1)" text-anchor="middle" font-size="8.2" fill="#000" stroke="#000" stroke-width="0.18">23</text>
<text transform="translate(289.95,295.20) scale(0.8,1)" text-anchor="middle" font-size="8.2" fill="#000" stroke="#000" stroke-width="0.18">24</text>
<text transform="translate(299.72,295.20) scale(0.8,1)" text-anchor="middle" font-size="8.2" fill="#000" stroke="#000" stroke-width="0.18">25</text>
<text transform="translate(11.1,230.9) rotate(-90)" text-anchor="middle" font-size="12.5" fill="#000" stroke="#000" stroke-width="0.06">Frequency</text>
<path d="M55.48 270.17 L65.25 268.36 L75.02 270.17 L84.79 267.91 L94.56 267.91 L104.33 270.89 L114.10 265.38 L123.87 262.13 L133.64 254.63 L143.41 238.37 L153.18 232.59 L162.95 225.63 L172.72 211.36 L182.48 203.86 L192.25 201.34 L202.02 213.08 L211.79 212.81 L221.56 232.14 L231.33 240.09 L241.10 245.33 L250.87 254.36 L260.64 265.11 L270.41 270.89 L280.18 277.67 L289.95 281.19 L299.72 280.65" fill="none" stroke="#c43735" stroke-width="1.85" stroke-linejoin="round"/>
<circle cx="55.48" cy="270.17" r="1.75" fill="#d96a68" stroke="#c43735" stroke-width="0.9"/>
<circle cx="65.25" cy="268.36" r="1.75" fill="#d96a68" stroke="#c43735" stroke-width="0.9"/>
<circle cx="75.02" cy="270.17" r="1.75" fill="#d96a68" stroke="#c43735" stroke-width="0.9"/>
<circle cx="84.79" cy="267.91" r="1.75" fill="#d96a68" stroke="#c43735" stroke-width="0.9"/>
<circle cx="94.56" cy="267.91" r="1.75" fill="#d96a68" stroke="#c43735" stroke-width="0.9"/>
<circle cx="104.33" cy="270.89" r="1.75" fill="#d96a68" stroke="#c43735" stroke-width="0.9"/>
<circle cx="114.10" cy="265.38" r="1.75" fill="#d96a68" stroke="#c43735" stroke-width="0.9"/>
<circle cx="123.87" cy="262.13" r="1.75" fill="#d96a68" stroke="#c43735" stroke-width="0.9"/>
<circle cx="133.64" cy="254.63" r="1.75" fill="#d96a68" stroke="#c43735" stroke-width="0.9"/>
<circle cx="143.41" cy="238.37" r="1.75" fill="#d96a68" stroke="#c43735" stroke-width="0.9"/>
<circle cx="153.18" cy="232.59" r="1.75" fill="#d96a68" stroke="#c43735" stroke-width="0.9"/>
<circle cx="162.95" cy="225.63" r="1.75" fill="#d96a68" stroke="#c43735" stroke-width="0.9"/>
<circle cx="172.72" cy="211.36" r="1.75" fill="#d96a68" stroke="#c43735" stroke-width="0.9"/>
<circle cx="182.48" cy="203.86" r="1.75" fill="#d96a68" stroke="#c43735" stroke-width="0.9"/>
<circle cx="192.25" cy="201.34" r="1.75" fill="#d96a68" stroke="#c43735" stroke-width="0.9"/>
<circle cx="202.02" cy="213.08" r="1.75" fill="#d96a68" stroke="#c43735" stroke-width="0.9"/>
<circle cx="211.79" cy="212.81" r="1.75" fill="#d96a68" stroke="#c43735" stroke-width="0.9"/>
<circle cx="221.56" cy="232.14" r="1.75" fill="#d96a68" stroke="#c43735" stroke-width="0.9"/>
<circle cx="231.33" cy="240.09" r="1.75" fill="#d96a68" stroke="#c43735" stroke-width="0.9"/>
<circle cx="241.10" cy="245.33" r="1.75" fill="#d96a68" stroke="#c43735" stroke-width="0.9"/>
<circle cx="250.87" cy="254.36" r="1.75" fill="#d96a68" stroke="#c43735" stroke-width="0.9"/>
<circle cx="260.64" cy="265.11" r="1.75" fill="#d96a68" stroke="#c43735" stroke-width="0.9"/>
<circle cx="270.41" cy="270.89" r="1.75" fill="#d96a68" stroke="#c43735" stroke-width="0.9"/>
<circle cx="280.18" cy="277.67" r="1.75" fill="#d96a68" stroke="#c43735" stroke-width="0.9"/>
<circle cx="289.95" cy="281.19" r="1.75" fill="#d96a68" stroke="#c43735" stroke-width="0.9"/>
<circle cx="299.72" cy="280.65" r="1.75" fill="#d96a68" stroke="#c43735" stroke-width="0.9"/>
<text x="456.5" y="163.5" text-anchor="middle" font-size="10.9" fill="#000">HLD</text>
<rect x="341.62" y="259.75" width="3.70" height="24.50" fill="#000"/>
<rect x="351.77" y="281.01" width="3.70" height="3.24" fill="#000"/>
<rect x="372.07" y="273.79" width="3.70" height="10.46" fill="#000"/>
<rect x="382.22" y="273.79" width="3.70" height="10.46" fill="#000"/>
<rect x="392.36" y="281.01" width="3.70" height="3.24" fill="#000"/>
<rect x="402.51" y="271.43" width="3.70" height="12.82" fill="#000"/>
<rect x="412.66" y="263.26" width="3.70" height="20.99" fill="#000"/>
<rect x="422.81" y="266.77" width="3.70" height="17.48" fill="#000"/>
<rect x="432.96" y="252.79" width="3.70" height="31.46" fill="#000"/>
<rect x="443.10" y="249.01" width="3.70" height="35.23" fill="#000"/>
<rect x="453.25" y="222.15" width="3.70" height="62.10" fill="#000"/>
<rect x="463.40" y="205.75" width="3.70" height="78.50" fill="#000"/>
<rect x="473.55" y="188.26" width="3.70" height="95.98" fill="#000"/>
<rect x="483.70" y="238.28" width="3.70" height="45.97" fill="#000"/>
<rect x="493.84" y="241.72" width="3.70" height="42.52" fill="#000"/>
<rect x="503.99" y="241.72" width="3.70" height="42.52" fill="#000"/>
<rect x="514.14" y="220.26" width="3.70" height="63.99" fill="#000"/>
<rect x="524.29" y="231.26" width="3.70" height="52.99" fill="#000"/>
<rect x="544.58" y="281.01" width="3.70" height="3.24" fill="#000"/>
<rect x="554.73" y="281.01" width="3.70" height="3.24" fill="#000"/>
<rect x="575.03" y="278.04" width="3.70" height="6.21" fill="#000"/>
<path d="M338.3 176.25V284.25" fill="none" stroke="#4a4a4a" stroke-width="1.1"/>
<path d="M335.90000000000003 284.25H592" fill="none" stroke="#000" stroke-width="1"/>
<path d="M336.5 284.25H338.3" stroke="#111" stroke-width="0.9"/>
<text transform="translate(330.30,287.15) scale(0.88,1)" text-anchor="end" font-size="8.2" fill="#000" stroke="#000" stroke-width="0.12">0.00</text>
<path d="M336.5 270.75H338.3" stroke="#111" stroke-width="0.9"/>
<text transform="translate(330.30,273.65) scale(0.88,1)" text-anchor="end" font-size="8.2" fill="#000" stroke="#000" stroke-width="0.12">0.02</text>
<path d="M336.5 257.25H338.3" stroke="#111" stroke-width="0.9"/>
<text transform="translate(330.30,260.15) scale(0.88,1)" text-anchor="end" font-size="8.2" fill="#000" stroke="#000" stroke-width="0.12">0.04</text>
<path d="M336.5 243.75H338.3" stroke="#111" stroke-width="0.9"/>
<text transform="translate(330.30,246.65) scale(0.88,1)" text-anchor="end" font-size="8.2" fill="#000" stroke="#000" stroke-width="0.12">0.06</text>
<path d="M336.5 230.25H338.3" stroke="#111" stroke-width="0.9"/>
<text transform="translate(330.30,233.15) scale(0.88,1)" text-anchor="end" font-size="8.2" fill="#000" stroke="#000" stroke-width="0.12">0.08</text>
<path d="M336.5 216.75H338.3" stroke="#111" stroke-width="0.9"/>
<text transform="translate(330.30,219.65) scale(0.88,1)" text-anchor="end" font-size="8.2" fill="#000" stroke="#000" stroke-width="0.12">0.10</text>
<path d="M336.5 203.25H338.3" stroke="#111" stroke-width="0.9"/>
<text transform="translate(330.30,206.15) scale(0.88,1)" text-anchor="end" font-size="8.2" fill="#000" stroke="#000" stroke-width="0.12">0.12</text>
<path d="M336.5 189.75H338.3" stroke="#111" stroke-width="0.9"/>
<text transform="translate(330.30,192.65) scale(0.88,1)" text-anchor="end" font-size="8.2" fill="#000" stroke="#000" stroke-width="0.12">0.14</text>
<path d="M336.5 176.25H338.3" stroke="#111" stroke-width="0.9"/>
<text transform="translate(330.30,179.15) scale(0.88,1)" text-anchor="end" font-size="8.2" fill="#000" stroke="#000" stroke-width="0.12">0.16</text>
<path d="M338.30 284.25v2.3" stroke="#111" stroke-width="0.9"/>
<path d="M348.45 284.25v2.3" stroke="#111" stroke-width="0.9"/>
<path d="M358.60 284.25v2.3" stroke="#111" stroke-width="0.9"/>
<path d="M368.74 284.25v2.3" stroke="#111" stroke-width="0.9"/>
<path d="M378.89 284.25v2.3" stroke="#111" stroke-width="0.9"/>
<path d="M389.04 284.25v2.3" stroke="#111" stroke-width="0.9"/>
<path d="M399.19 284.25v2.3" stroke="#111" stroke-width="0.9"/>
<path d="M409.34 284.25v2.3" stroke="#111" stroke-width="0.9"/>
<path d="M419.48 284.25v2.3" stroke="#111" stroke-width="0.9"/>
<path d="M429.63 284.25v2.3" stroke="#111" stroke-width="0.9"/>
<path d="M439.78 284.25v2.3" stroke="#111" stroke-width="0.9"/>
<path d="M449.93 284.25v2.3" stroke="#111" stroke-width="0.9"/>
<path d="M460.08 284.25v2.3" stroke="#111" stroke-width="0.9"/>
<path d="M470.22 284.25v2.3" stroke="#111" stroke-width="0.9"/>
<path d="M480.37 284.25v2.3" stroke="#111" stroke-width="0.9"/>
<path d="M490.52 284.25v2.3" stroke="#111" stroke-width="0.9"/>
<path d="M500.67 284.25v2.3" stroke="#111" stroke-width="0.9"/>
<path d="M510.82 284.25v2.3" stroke="#111" stroke-width="0.9"/>
<path d="M520.96 284.25v2.3" stroke="#111" stroke-width="0.9"/>
<path d="M531.11 284.25v2.3" stroke="#111" stroke-width="0.9"/>
<path d="M541.26 284.25v2.3" stroke="#111" stroke-width="0.9"/>
<path d="M551.41 284.25v2.3" stroke="#111" stroke-width="0.9"/>
<path d="M561.56 284.25v2.3" stroke="#111" stroke-width="0.9"/>
<path d="M571.70 284.25v2.3" stroke="#111" stroke-width="0.9"/>
<path d="M581.85 284.25v2.3" stroke="#111" stroke-width="0.9"/>
<path d="M592.00 284.25v2.3" stroke="#111" stroke-width="0.9"/>
<text transform="translate(343.37,295.55) scale(0.9,1)" text-anchor="middle" font-size="8.2" fill="#000" stroke="#000" stroke-width="0.18">0</text>
<text transform="translate(353.52,295.55) scale(0.9,1)" text-anchor="middle" font-size="8.2" fill="#000" stroke="#000" stroke-width="0.18">1</text>
<text transform="translate(363.67,295.55) scale(0.9,1)" text-anchor="middle" font-size="8.2" fill="#000" stroke="#000" stroke-width="0.18">2</text>
<text transform="translate(373.82,295.55) scale(0.9,1)" text-anchor="middle" font-size="8.2" fill="#000" stroke="#000" stroke-width="0.18">3</text>
<text transform="translate(383.97,295.55) scale(0.9,1)" text-anchor="middle" font-size="8.2" fill="#000" stroke="#000" stroke-width="0.18">4</text>
<text transform="translate(394.11,295.55) scale(0.9,1)" text-anchor="middle" font-size="8.2" fill="#000" stroke="#000" stroke-width="0.18">5</text>
<text transform="translate(404.26,295.55) scale(0.9,1)" text-anchor="middle" font-size="8.2" fill="#000" stroke="#000" stroke-width="0.18">6</text>
<text transform="translate(414.41,295.55) scale(0.9,1)" text-anchor="middle" font-size="8.2" fill="#000" stroke="#000" stroke-width="0.18">7</text>
<text transform="translate(424.56,295.55) scale(0.9,1)" text-anchor="middle" font-size="8.2" fill="#000" stroke="#000" stroke-width="0.18">8</text>
<text transform="translate(434.71,295.55) scale(0.9,1)" text-anchor="middle" font-size="8.2" fill="#000" stroke="#000" stroke-width="0.18">9</text>
<text transform="translate(444.85,295.55) scale(0.8,1)" text-anchor="middle" font-size="8.2" fill="#000" stroke="#000" stroke-width="0.18">10</text>
<text transform="translate(455.00,295.55) scale(0.8,1)" text-anchor="middle" font-size="8.2" fill="#000" stroke="#000" stroke-width="0.18">11</text>
<text transform="translate(465.15,295.55) scale(0.8,1)" text-anchor="middle" font-size="8.2" fill="#000" stroke="#000" stroke-width="0.18">12</text>
<text transform="translate(475.30,295.55) scale(0.8,1)" text-anchor="middle" font-size="8.2" fill="#000" stroke="#000" stroke-width="0.18">13</text>
<text transform="translate(485.45,295.55) scale(0.8,1)" text-anchor="middle" font-size="8.2" fill="#000" stroke="#000" stroke-width="0.18">14</text>
<text transform="translate(495.59,295.55) scale(0.8,1)" text-anchor="middle" font-size="8.2" fill="#000" stroke="#000" stroke-width="0.18">15</text>
<text transform="translate(505.74,295.55) scale(0.8,1)" text-anchor="middle" font-size="8.2" fill="#000" stroke="#000" stroke-width="0.18">16</text>
<text transform="translate(515.89,295.55) scale(0.8,1)" text-anchor="middle" font-size="8.2" fill="#000" stroke="#000" stroke-width="0.18">17</text>
<text transform="translate(526.04,295.55) scale(0.8,1)" text-anchor="middle" font-size="8.2" fill="#000" stroke="#000" stroke-width="0.18">18</text>
<text transform="translate(536.19,295.55) scale(0.8,1)" text-anchor="middle" font-size="8.2" fill="#000" stroke="#000" stroke-width="0.18">19</text>
<text transform="translate(546.33,295.55) scale(0.8,1)" text-anchor="middle" font-size="8.2" fill="#000" stroke="#000" stroke-width="0.18">20</text>
<text transform="translate(556.48,295.55) scale(0.8,1)" text-anchor="middle" font-size="8.2" fill="#000" stroke="#000" stroke-width="0.18">21</text>
<text transform="translate(566.63,295.55) scale(0.8,1)" text-anchor="middle" font-size="8.2" fill="#000" stroke="#000" stroke-width="0.18">22</text>
<text transform="translate(576.78,295.55) scale(0.8,1)" text-anchor="middle" font-size="8.2" fill="#000" stroke="#000" stroke-width="0.18">23</text>
<text transform="translate(586.93,295.55) scale(0.8,1)" text-anchor="middle" font-size="8.2" fill="#000" stroke="#000" stroke-width="0.18">24</text>
<path d="M343.37 277.23 L353.52 276.76 L363.67 276.01 L373.82 278.24 L383.97 276.76 L394.11 272.03 L404.26 270.75 L414.41 265.49 L424.56 252.25 L434.71 238.49 L444.85 233.49 L455.00 221.27 L465.15 218.24 L475.30 222.22 L485.45 224.78 L495.59 236.53 L505.74 235.25 L515.89 246.25 L526.04 255.76 L536.19 267.78 L546.33 272.50 L556.48 275.48 L566.63 279.73 L576.78 281.75 L586.93 282.76" fill="none" stroke="#c43735" stroke-width="1.85" stroke-linejoin="round"/>
<circle cx="343.37" cy="277.23" r="1.75" fill="#d96a68" stroke="#c43735" stroke-width="0.9"/>
<circle cx="353.52" cy="276.76" r="1.75" fill="#d96a68" stroke="#c43735" stroke-width="0.9"/>
<circle cx="363.67" cy="276.01" r="1.75" fill="#d96a68" stroke="#c43735" stroke-width="0.9"/>
<circle cx="373.82" cy="278.24" r="1.75" fill="#d96a68" stroke="#c43735" stroke-width="0.9"/>
<circle cx="383.97" cy="276.76" r="1.75" fill="#d96a68" stroke="#c43735" stroke-width="0.9"/>
<circle cx="394.11" cy="272.03" r="1.75" fill="#d96a68" stroke="#c43735" stroke-width="0.9"/>
<circle cx="404.26" cy="270.75" r="1.75" fill="#d96a68" stroke="#c43735" stroke-width="0.9"/>
<circle cx="414.41" cy="265.49" r="1.75" fill="#d96a68" stroke="#c43735" stroke-width="0.9"/>
<circle cx="424.56" cy="252.25" r="1.75" fill="#d96a68" stroke="#c43735" stroke-width="0.9"/>
<circle cx="434.71" cy="238.49" r="1.75" fill="#d96a68" stroke="#c43735" stroke-width="0.9"/>
<circle cx="444.85" cy="233.49" r="1.75" fill="#d96a68" stroke="#c43735" stroke-width="0.9"/>
<circle cx="455.00" cy="221.27" r="1.75" fill="#d96a68" stroke="#c43735" stroke-width="0.9"/>
<circle cx="465.15" cy="218.24" r="1.75" fill="#d96a68" stroke="#c43735" stroke-width="0.9"/>
<circle cx="475.30" cy="222.22" r="1.75" fill="#d96a68" stroke="#c43735" stroke-width="0.9"/>
<circle cx="485.45" cy="224.78" r="1.75" fill="#d96a68" stroke="#c43735" stroke-width="0.9"/>
<circle cx="495.59" cy="236.53" r="1.75" fill="#d96a68" stroke="#c43735" stroke-width="0.9"/>
<circle cx="505.74" cy="235.25" r="1.75" fill="#d96a68" stroke="#c43735" stroke-width="0.9"/>
<circle cx="515.89" cy="246.25" r="1.75" fill="#d96a68" stroke="#c43735" stroke-width="0.9"/>
<circle cx="526.04" cy="255.76" r="1.75" fill="#d96a68" stroke="#c43735" stroke-width="0.9"/>
<circle cx="536.19" cy="267.78" r="1.75" fill="#d96a68" stroke="#c43735" stroke-width="0.9"/>
<circle cx="546.33" cy="272.50" r="1.75" fill="#d96a68" stroke="#c43735" stroke-width="0.9"/>
<circle cx="556.48" cy="275.48" r="1.75" fill="#d96a68" stroke="#c43735" stroke-width="0.9"/>
<circle cx="566.63" cy="279.73" r="1.75" fill="#d96a68" stroke="#c43735" stroke-width="0.9"/>
<circle cx="576.78" cy="281.75" r="1.75" fill="#d96a68" stroke="#c43735" stroke-width="0.9"/>
<circle cx="586.93" cy="282.76" r="1.75" fill="#d96a68" stroke="#c43735" stroke-width="0.9"/>
<text x="169" y="313" text-anchor="middle" font-size="10.9" fill="#000">TJ</text>
<rect x="53.08" y="427.52" width="4.00" height="6.98" fill="#000"/>
<rect x="62.85" y="424.03" width="4.00" height="10.47" fill="#000"/>
<rect x="72.62" y="427.52" width="4.00" height="6.98" fill="#000"/>
<rect x="82.39" y="424.03" width="4.00" height="10.47" fill="#000"/>
<rect x="92.16" y="427.52" width="4.00" height="6.98" fill="#000"/>
<rect x="101.93" y="409.52" width="4.00" height="24.98" fill="#000"/>
<rect x="111.70" y="416.77" width="4.00" height="17.73" fill="#000"/>
<rect x="121.47" y="416.77" width="4.00" height="17.73" fill="#000"/>
<rect x="131.24" y="398.78" width="4.00" height="35.72" fill="#000"/>
<rect x="141.01" y="380.78" width="4.00" height="53.72" fill="#000"/>
<rect x="150.78" y="402.27" width="4.00" height="32.23" fill="#000"/>
<rect x="160.55" y="398.78" width="4.00" height="35.72" fill="#000"/>
<rect x="170.32" y="380.78" width="4.00" height="53.72" fill="#000"/>
<rect x="180.08" y="380.78" width="4.00" height="53.72" fill="#000"/>
<rect x="189.85" y="334.10" width="4.00" height="100.40" fill="#000"/>
<rect x="199.62" y="377.29" width="4.00" height="57.21" fill="#000"/>
<rect x="209.39" y="377.29" width="4.00" height="57.21" fill="#000"/>
<rect x="219.16" y="409.52" width="4.00" height="24.98" fill="#000"/>
<rect x="228.93" y="416.77" width="4.00" height="17.73" fill="#000"/>
<rect x="238.70" y="416.77" width="4.00" height="17.73" fill="#000"/>
<rect x="248.47" y="431.01" width="4.00" height="3.49" fill="#000"/>
<rect x="258.24" y="420.26" width="4.00" height="14.23" fill="#000"/>
<rect x="268.01" y="427.52" width="4.00" height="6.98" fill="#000"/>
<rect x="277.78" y="427.52" width="4.00" height="6.98" fill="#000"/>
<rect x="287.55" y="431.01" width="4.00" height="3.49" fill="#000"/>
<rect x="297.32" y="431.76" width="4.00" height="2.74" fill="#000"/>
<path d="M50.2 325V434.5" fill="none" stroke="#333" stroke-width="1.1"/>
<path d="M47.800000000000004 434.5H304.2" fill="none" stroke="#000" stroke-width="1"/>
<path d="M47.800000000000004 434.50H50.2" stroke="#111" stroke-width="0.9"/>
<text transform="translate(42.50,437.40) scale(0.88,1)" text-anchor="end" font-size="8.2" fill="#000" stroke="#000" stroke-width="0.12">0.00</text>
<path d="M47.800000000000004 420.81H50.2" stroke="#111" stroke-width="0.9"/>
<text transform="translate(42.50,423.71) scale(0.88,1)" text-anchor="end" font-size="8.2" fill="#000" stroke="#000" stroke-width="0.12">0.02</text>
<path d="M47.800000000000004 407.12H50.2" stroke="#111" stroke-width="0.9"/>
<text transform="translate(42.50,410.02) scale(0.88,1)" text-anchor="end" font-size="8.2" fill="#000" stroke="#000" stroke-width="0.12">0.04</text>
<path d="M47.800000000000004 393.44H50.2" stroke="#111" stroke-width="0.9"/>
<text transform="translate(42.50,396.34) scale(0.88,1)" text-anchor="end" font-size="8.2" fill="#000" stroke="#000" stroke-width="0.12">0.06</text>
<path d="M47.800000000000004 379.75H50.2" stroke="#111" stroke-width="0.9"/>
<text transform="translate(42.50,382.65) scale(0.88,1)" text-anchor="end" font-size="8.2" fill="#000" stroke="#000" stroke-width="0.12">0.08</text>
<path d="M47.800000000000004 366.06H50.2" stroke="#111" stroke-width="0.9"/>
<text transform="translate(42.50,368.96) scale(0.88,1)" text-anchor="end" font-size="8.2" fill="#000" stroke="#000" stroke-width="0.12">0.10</text>
<path d="M47.800000000000004 352.38H50.2" stroke="#111" stroke-width="0.9"/>
<text transform="translate(42.50,355.27) scale(0.88,1)" text-anchor="end" font-size="8.2" fill="#000" stroke="#000" stroke-width="0.12">0.12</text>
<path d="M47.800000000000004 338.69H50.2" stroke="#111" stroke-width="0.9"/>
<text transform="translate(42.50,341.59) scale(0.88,1)" text-anchor="end" font-size="8.2" fill="#000" stroke="#000" stroke-width="0.12">0.14</text>
<path d="M47.800000000000004 325.00H50.2" stroke="#111" stroke-width="0.9"/>
<text transform="translate(42.50,327.90) scale(0.88,1)" text-anchor="end" font-size="8.2" fill="#000" stroke="#000" stroke-width="0.12">0.16</text>
<path d="M50.20 434.5v2.3" stroke="#111" stroke-width="0.9"/>
<path d="M59.97 434.5v2.3" stroke="#111" stroke-width="0.9"/>
<path d="M69.74 434.5v2.3" stroke="#111" stroke-width="0.9"/>
<path d="M79.51 434.5v2.3" stroke="#111" stroke-width="0.9"/>
<path d="M89.28 434.5v2.3" stroke="#111" stroke-width="0.9"/>
<path d="M99.05 434.5v2.3" stroke="#111" stroke-width="0.9"/>
<path d="M108.82 434.5v2.3" stroke="#111" stroke-width="0.9"/>
<path d="M118.58 434.5v2.3" stroke="#111" stroke-width="0.9"/>
<path d="M128.35 434.5v2.3" stroke="#111" stroke-width="0.9"/>
<path d="M138.12 434.5v2.3" stroke="#111" stroke-width="0.9"/>
<path d="M147.89 434.5v2.3" stroke="#111" stroke-width="0.9"/>
<path d="M157.66 434.5v2.3" stroke="#111" stroke-width="0.9"/>
<path d="M167.43 434.5v2.3" stroke="#111" stroke-width="0.9"/>
<path d="M177.20 434.5v2.3" stroke="#111" stroke-width="0.9"/>
<path d="M186.97 434.5v2.3" stroke="#111" stroke-width="0.9"/>
<path d="M196.74 434.5v2.3" stroke="#111" stroke-width="0.9"/>
<path d="M206.51 434.5v2.3" stroke="#111" stroke-width="0.9"/>
<path d="M216.28 434.5v2.3" stroke="#111" stroke-width="0.9"/>
<path d="M226.05 434.5v2.3" stroke="#111" stroke-width="0.9"/>
<path d="M235.82 434.5v2.3" stroke="#111" stroke-width="0.9"/>
<path d="M245.58 434.5v2.3" stroke="#111" stroke-width="0.9"/>
<path d="M255.35 434.5v2.3" stroke="#111" stroke-width="0.9"/>
<path d="M265.12 434.5v2.3" stroke="#111" stroke-width="0.9"/>
<path d="M274.89 434.5v2.3" stroke="#111" stroke-width="0.9"/>
<path d="M284.66 434.5v2.3" stroke="#111" stroke-width="0.9"/>
<path d="M294.43 434.5v2.3" stroke="#111" stroke-width="0.9"/>
<path d="M304.20 434.5v2.3" stroke="#111" stroke-width="0.9"/>
<text transform="translate(55.08,445.80) scale(0.9,1)" text-anchor="middle" font-size="8.2" fill="#000" stroke="#000" stroke-width="0.18">0</text>
<text transform="translate(64.85,445.80) scale(0.9,1)" text-anchor="middle" font-size="8.2" fill="#000" stroke="#000" stroke-width="0.18">1</text>
<text transform="translate(74.62,445.80) scale(0.9,1)" text-anchor="middle" font-size="8.2" fill="#000" stroke="#000" stroke-width="0.18">2</text>
<text transform="translate(84.39,445.80) scale(0.9,1)" text-anchor="middle" font-size="8.2" fill="#000" stroke="#000" stroke-width="0.18">3</text>
<text transform="translate(94.16,445.80) scale(0.9,1)" text-anchor="middle" font-size="8.2" fill="#000" stroke="#000" stroke-width="0.18">4</text>
<text transform="translate(103.93,445.80) scale(0.9,1)" text-anchor="middle" font-size="8.2" fill="#000" stroke="#000" stroke-width="0.18">5</text>
<text transform="translate(113.70,445.80) scale(0.9,1)" text-anchor="middle" font-size="8.2" fill="#000" stroke="#000" stroke-width="0.18">6</text>
<text transform="translate(123.47,445.80) scale(0.9,1)" text-anchor="middle" font-size="8.2" fill="#000" stroke="#000" stroke-width="0.18">7</text>
<text transform="translate(133.24,445.80) scale(0.9,1)" text-anchor="middle" font-size="8.2" fill="#000" stroke="#000" stroke-width="0.18">8</text>
<text transform="translate(143.01,445.80) scale(0.9,1)" text-anchor="middle" font-size="8.2" fill="#000" stroke="#000" stroke-width="0.18">9</text>
<text transform="translate(152.78,445.80) scale(0.8,1)" text-anchor="middle" font-size="8.2" fill="#000" stroke="#000" stroke-width="0.18">10</text>
<text transform="translate(162.55,445.80) scale(0.8,1)" text-anchor="middle" font-size="8.2" fill="#000" stroke="#000" stroke-width="0.18">11</text>
<text transform="translate(172.32,445.80) scale(0.8,1)" text-anchor="middle" font-size="8.2" fill="#000" stroke="#000" stroke-width="0.18">12</text>
<text transform="translate(182.08,445.80) scale(0.8,1)" text-anchor="middle" font-size="8.2" fill="#000" stroke="#000" stroke-width="0.18">13</text>
<text transform="translate(191.85,445.80) scale(0.8,1)" text-anchor="middle" font-size="8.2" fill="#000" stroke="#000" stroke-width="0.18">14</text>
<text transform="translate(201.62,445.80) scale(0.8,1)" text-anchor="middle" font-size="8.2" fill="#000" stroke="#000" stroke-width="0.18">15</text>
<text transform="translate(211.39,445.80) scale(0.8,1)" text-anchor="middle" font-size="8.2" fill="#000" stroke="#000" stroke-width="0.18">16</text>
<text transform="translate(221.16,445.80) scale(0.8,1)" text-anchor="middle" font-size="8.2" fill="#000" stroke="#000" stroke-width="0.18">17</text>
<text transform="translate(230.93,445.80) scale(0.8,1)" text-anchor="middle" font-size="8.2" fill="#000" stroke="#000" stroke-width="0.18">18</text>
<text transform="translate(240.70,445.80) scale(0.8,1)" text-anchor="middle" font-size="8.2" fill="#000" stroke="#000" stroke-width="0.18">19</text>
<text transform="translate(250.47,445.80) scale(0.8,1)" text-anchor="middle" font-size="8.2" fill="#000" stroke="#000" stroke-width="0.18">20</text>
<text transform="translate(260.24,445.80) scale(0.8,1)" text-anchor="middle" font-size="8.2" fill="#000" stroke="#000" stroke-width="0.18">21</text>
<text transform="translate(270.01,445.80) scale(0.8,1)" text-anchor="middle" font-size="8.2" fill="#000" stroke="#000" stroke-width="0.18">22</text>
<text transform="translate(279.78,445.80) scale(0.8,1)" text-anchor="middle" font-size="8.2" fill="#000" stroke="#000" stroke-width="0.18">23</text>
<text transform="translate(289.55,445.80) scale(0.8,1)" text-anchor="middle" font-size="8.2" fill="#000" stroke="#000" stroke-width="0.18">24</text>
<text transform="translate(299.32,445.80) scale(0.8,1)" text-anchor="middle" font-size="8.2" fill="#000" stroke="#000" stroke-width="0.18">25</text>
<text transform="translate(11.1,381.7) rotate(-90)" text-anchor="middle" font-size="12.5" fill="#000" stroke="#000" stroke-width="0.06">Frequency</text>
<path d="M55.08 422.04 L64.85 420.26 L74.62 422.04 L84.39 422.04 L94.16 419.24 L103.93 416.77 L113.70 415.54 L123.47 415.75 L133.24 403.77 L143.01 392.07 L152.78 388.30 L162.55 379.54 L172.32 375.58 L182.08 371.33 L191.85 372.56 L201.62 373.52 L211.39 395.76 L221.16 406.03 L230.93 408.49 L240.70 420.74 L250.47 420.26 L260.24 426.29 L270.01 427.72 L279.78 432.04 L289.55 432.99 L299.32 433.27" fill="none" stroke="#c43735" stroke-width="1.85" stroke-linejoin="round"/>
<circle cx="55.08" cy="422.04" r="1.75" fill="#d96a68" stroke="#c43735" stroke-width="0.9"/>
<circle cx="64.85" cy="420.26" r="1.75" fill="#d96a68" stroke="#c43735" stroke-width="0.9"/>
<circle cx="74.62" cy="422.04" r="1.75" fill="#d96a68" stroke="#c43735" stroke-width="0.9"/>
<circle cx="84.39" cy="422.04" r="1.75" fill="#d96a68" stroke="#c43735" stroke-width="0.9"/>
<circle cx="94.16" cy="419.24" r="1.75" fill="#d96a68" stroke="#c43735" stroke-width="0.9"/>
<circle cx="103.93" cy="416.77" r="1.75" fill="#d96a68" stroke="#c43735" stroke-width="0.9"/>
<circle cx="113.70" cy="415.54" r="1.75" fill="#d96a68" stroke="#c43735" stroke-width="0.9"/>
<circle cx="123.47" cy="415.75" r="1.75" fill="#d96a68" stroke="#c43735" stroke-width="0.9"/>
<circle cx="133.24" cy="403.77" r="1.75" fill="#d96a68" stroke="#c43735" stroke-width="0.9"/>
<circle cx="143.01" cy="392.07" r="1.75" fill="#d96a68" stroke="#c43735" stroke-width="0.9"/>
<circle cx="152.78" cy="388.30" r="1.75" fill="#d96a68" stroke="#c43735" stroke-width="0.9"/>
<circle cx="162.55" cy="379.54" r="1.75" fill="#d96a68" stroke="#c43735" stroke-width="0.9"/>
<circle cx="172.32" cy="375.58" r="1.75" fill="#d96a68" stroke="#c43735" stroke-width="0.9"/>
<circle cx="182.08" cy="371.33" r="1.75" fill="#d96a68" stroke="#c43735" stroke-width="0.9"/>
<circle cx="191.85" cy="372.56" r="1.75" fill="#d96a68" stroke="#c43735" stroke-width="0.9"/>
<circle cx="201.62" cy="373.52" r="1.75" fill="#d96a68" stroke="#c43735" stroke-width="0.9"/>
<circle cx="211.39" cy="395.76" r="1.75" fill="#d96a68" stroke="#c43735" stroke-width="0.9"/>
<circle cx="221.16" cy="406.03" r="1.75" fill="#d96a68" stroke="#c43735" stroke-width="0.9"/>
<circle cx="230.93" cy="408.49" r="1.75" fill="#d96a68" stroke="#c43735" stroke-width="0.9"/>
<circle cx="240.70" cy="420.74" r="1.75" fill="#d96a68" stroke="#c43735" stroke-width="0.9"/>
<circle cx="250.47" cy="420.26" r="1.75" fill="#d96a68" stroke="#c43735" stroke-width="0.9"/>
<circle cx="260.24" cy="426.29" r="1.75" fill="#d96a68" stroke="#c43735" stroke-width="0.9"/>
<circle cx="270.01" cy="427.72" r="1.75" fill="#d96a68" stroke="#c43735" stroke-width="0.9"/>
<circle cx="279.78" cy="432.04" r="1.75" fill="#d96a68" stroke="#c43735" stroke-width="0.9"/>
<circle cx="289.55" cy="432.99" r="1.75" fill="#d96a68" stroke="#c43735" stroke-width="0.9"/>
<circle cx="299.32" cy="433.27" r="1.75" fill="#d96a68" stroke="#c43735" stroke-width="0.9"/>
<text x="456.25" y="313.5" text-anchor="middle" font-size="10.9" fill="#000">HH</text>
<rect x="350.36" y="425.46" width="3.70" height="9.54" fill="#000"/>
<rect x="359.76" y="425.46" width="3.70" height="9.54" fill="#000"/>
<rect x="369.16" y="420.74" width="3.70" height="14.26" fill="#000"/>
<rect x="387.97" y="425.46" width="3.70" height="9.54" fill="#000"/>
<rect x="397.37" y="425.46" width="3.70" height="9.54" fill="#000"/>
<rect x="406.78" y="396.76" width="3.70" height="38.24" fill="#000"/>
<rect x="416.18" y="391.94" width="3.70" height="43.05" fill="#000"/>
<rect x="425.59" y="377.41" width="3.70" height="57.59" fill="#000"/>
<rect x="434.99" y="363.24" width="3.70" height="71.76" fill="#000"/>
<rect x="444.39" y="344.17" width="3.70" height="90.83" fill="#000"/>
<rect x="453.80" y="358.15" width="3.70" height="76.84" fill="#000"/>
<rect x="463.20" y="377.41" width="3.70" height="57.59" fill="#000"/>
<rect x="472.60" y="382.41" width="3.70" height="52.59" fill="#000"/>
<rect x="482.01" y="358.15" width="3.70" height="76.84" fill="#000"/>
<rect x="491.41" y="363.24" width="3.70" height="71.76" fill="#000"/>
<rect x="500.81" y="387.49" width="3.70" height="47.51" fill="#000"/>
<rect x="510.22" y="372.69" width="3.70" height="62.31" fill="#000"/>
<rect x="519.62" y="367.96" width="3.70" height="67.04" fill="#000"/>
<rect x="529.03" y="406.21" width="3.70" height="28.79" fill="#000"/>
<rect x="547.83" y="425.46" width="3.70" height="9.54" fill="#000"/>
<rect x="576.04" y="430.28" width="3.70" height="4.72" fill="#000"/>
<path d="M338.1 326V435" fill="none" stroke="#4a4a4a" stroke-width="1.1"/>
<path d="M335.70000000000005 435H592" fill="none" stroke="#000" stroke-width="1"/>
<path d="M336.3 435.00H338.1" stroke="#111" stroke-width="0.9"/>
<text transform="translate(330.30,437.90) scale(0.88,1)" text-anchor="end" font-size="8.2" fill="#000" stroke="#000" stroke-width="0.12">0.00</text>
<path d="M336.3 416.83H338.1" stroke="#111" stroke-width="0.9"/>
<text transform="translate(330.30,419.73) scale(0.88,1)" text-anchor="end" font-size="8.2" fill="#000" stroke="#000" stroke-width="0.12">0.02</text>
<path d="M336.3 398.67H338.1" stroke="#111" stroke-width="0.9"/>
<text transform="translate(330.30,401.57) scale(0.88,1)" text-anchor="end" font-size="8.2" fill="#000" stroke="#000" stroke-width="0.12">0.04</text>
<path d="M336.3 380.50H338.1" stroke="#111" stroke-width="0.9"/>
<text transform="translate(330.30,383.40) scale(0.88,1)" text-anchor="end" font-size="8.2" fill="#000" stroke="#000" stroke-width="0.12">0.06</text>
<path d="M336.3 362.33H338.1" stroke="#111" stroke-width="0.9"/>
<text transform="translate(330.30,365.23) scale(0.88,1)" text-anchor="end" font-size="8.2" fill="#000" stroke="#000" stroke-width="0.12">0.08</text>
<path d="M336.3 344.17H338.1" stroke="#111" stroke-width="0.9"/>
<text transform="translate(330.30,347.07) scale(0.88,1)" text-anchor="end" font-size="8.2" fill="#000" stroke="#000" stroke-width="0.12">0.10</text>
<path d="M336.3 326.00H338.1" stroke="#111" stroke-width="0.9"/>
<text transform="translate(330.30,328.90) scale(0.88,1)" text-anchor="end" font-size="8.2" fill="#000" stroke="#000" stroke-width="0.12">0.12</text>
<path d="M338.10 435v2.3" stroke="#111" stroke-width="0.9"/>
<path d="M347.50 435v2.3" stroke="#111" stroke-width="0.9"/>
<path d="M356.91 435v2.3" stroke="#111" stroke-width="0.9"/>
<path d="M366.31 435v2.3" stroke="#111" stroke-width="0.9"/>
<path d="M375.71 435v2.3" stroke="#111" stroke-width="0.9"/>
<path d="M385.12 435v2.3" stroke="#111" stroke-width="0.9"/>
<path d="M394.52 435v2.3" stroke="#111" stroke-width="0.9"/>
<path d="M403.93 435v2.3" stroke="#111" stroke-width="0.9"/>
<path d="M413.33 435v2.3" stroke="#111" stroke-width="0.9"/>
<path d="M422.73 435v2.3" stroke="#111" stroke-width="0.9"/>
<path d="M432.14 435v2.3" stroke="#111" stroke-width="0.9"/>
<path d="M441.54 435v2.3" stroke="#111" stroke-width="0.9"/>
<path d="M450.94 435v2.3" stroke="#111" stroke-width="0.9"/>
<path d="M460.35 435v2.3" stroke="#111" stroke-width="0.9"/>
<path d="M469.75 435v2.3" stroke="#111" stroke-width="0.9"/>
<path d="M479.16 435v2.3" stroke="#111" stroke-width="0.9"/>
<path d="M488.56 435v2.3" stroke="#111" stroke-width="0.9"/>
<path d="M497.96 435v2.3" stroke="#111" stroke-width="0.9"/>
<path d="M507.37 435v2.3" stroke="#111" stroke-width="0.9"/>
<path d="M516.77 435v2.3" stroke="#111" stroke-width="0.9"/>
<path d="M526.17 435v2.3" stroke="#111" stroke-width="0.9"/>
<path d="M535.58 435v2.3" stroke="#111" stroke-width="0.9"/>
<path d="M544.98 435v2.3" stroke="#111" stroke-width="0.9"/>
<path d="M554.39 435v2.3" stroke="#111" stroke-width="0.9"/>
<path d="M563.79 435v2.3" stroke="#111" stroke-width="0.9"/>
<path d="M573.19 435v2.3" stroke="#111" stroke-width="0.9"/>
<path d="M582.60 435v2.3" stroke="#111" stroke-width="0.9"/>
<path d="M592.00 435v2.3" stroke="#111" stroke-width="0.9"/>
<text transform="translate(342.80,446.30) scale(0.9,1)" text-anchor="middle" font-size="8.2" fill="#000" stroke="#000" stroke-width="0.18">0</text>
<text transform="translate(352.21,446.30) scale(0.9,1)" text-anchor="middle" font-size="8.2" fill="#000" stroke="#000" stroke-width="0.18">1</text>
<text transform="translate(361.61,446.30) scale(0.9,1)" text-anchor="middle" font-size="8.2" fill="#000" stroke="#000" stroke-width="0.18">2</text>
<text transform="translate(371.01,446.30) scale(0.9,1)" text-anchor="middle" font-size="8.2" fill="#000" stroke="#000" stroke-width="0.18">3</text>
<text transform="translate(380.42,446.30) scale(0.9,1)" text-anchor="middle" font-size="8.2" fill="#000" stroke="#000" stroke-width="0.18">4</text>
<text transform="translate(389.82,446.30) scale(0.9,1)" text-anchor="middle" font-size="8.2" fill="#000" stroke="#000" stroke-width="0.18">5</text>
<text transform="translate(399.22,446.30) scale(0.9,1)" text-anchor="middle" font-size="8.2" fill="#000" stroke="#000" stroke-width="0.18">6</text>
<text transform="translate(408.63,446.30) scale(0.9,1)" text-anchor="middle" font-size="8.2" fill="#000" stroke="#000" stroke-width="0.18">7</text>
<text transform="translate(418.03,446.30) scale(0.9,1)" text-anchor="middle" font-size="8.2" fill="#000" stroke="#000" stroke-width="0.18">8</text>
<text transform="translate(427.44,446.30) scale(0.9,1)" text-anchor="middle" font-size="8.2" fill="#000" stroke="#000" stroke-width="0.18">9</text>
<text transform="translate(436.84,446.30) scale(0.8,1)" text-anchor="middle" font-size="8.2" fill="#000" stroke="#000" stroke-width="0.18">10</text>
<text transform="translate(446.24,446.30) scale(0.8,1)" text-anchor="middle" font-size="8.2" fill="#000" stroke="#000" stroke-width="0.18">11</text>
<text transform="translate(455.65,446.30) scale(0.8,1)" text-anchor="middle" font-size="8.2" fill="#000" stroke="#000" stroke-width="0.18">12</text>
<text transform="translate(465.05,446.30) scale(0.8,1)" text-anchor="middle" font-size="8.2" fill="#000" stroke="#000" stroke-width="0.18">13</text>
<text transform="translate(474.45,446.30) scale(0.8,1)" text-anchor="middle" font-size="8.2" fill="#000" stroke="#000" stroke-width="0.18">14</text>
<text transform="translate(483.86,446.30) scale(0.8,1)" text-anchor="middle" font-size="8.2" fill="#000" stroke="#000" stroke-width="0.18">15</text>
<text transform="translate(493.26,446.30) scale(0.8,1)" text-anchor="middle" font-size="8.2" fill="#000" stroke="#000" stroke-width="0.18">16</text>
<text transform="translate(502.66,446.30) scale(0.8,1)" text-anchor="middle" font-size="8.2" fill="#000" stroke="#000" stroke-width="0.18">17</text>
<text transform="translate(512.07,446.30) scale(0.8,1)" text-anchor="middle" font-size="8.2" fill="#000" stroke="#000" stroke-width="0.18">18</text>
<text transform="translate(521.47,446.30) scale(0.8,1)" text-anchor="middle" font-size="8.2" fill="#000" stroke="#000" stroke-width="0.18">19</text>
<text transform="translate(530.88,446.30) scale(0.8,1)" text-anchor="middle" font-size="8.2" fill="#000" stroke="#000" stroke-width="0.18">20</text>
<text transform="translate(540.28,446.30) scale(0.8,1)" text-anchor="middle" font-size="8.2" fill="#000" stroke="#000" stroke-width="0.18">21</text>
<text transform="translate(549.68,446.30) scale(0.8,1)" text-anchor="middle" font-size="8.2" fill="#000" stroke="#000" stroke-width="0.18">22</text>
<text transform="translate(559.09,446.30) scale(0.8,1)" text-anchor="middle" font-size="8.2" fill="#000" stroke="#000" stroke-width="0.18">23</text>
<text transform="translate(568.49,446.30) scale(0.8,1)" text-anchor="middle" font-size="8.2" fill="#000" stroke="#000" stroke-width="0.18">24</text>
<text transform="translate(577.89,446.30) scale(0.8,1)" text-anchor="middle" font-size="8.2" fill="#000" stroke="#000" stroke-width="0.18">25</text>
<text transform="translate(587.30,446.30) scale(0.8,1)" text-anchor="middle" font-size="8.2" fill="#000" stroke="#000" stroke-width="0.18">26</text>
<path d="M342.80 429.73 L352.21 429.28 L361.61 430.00 L371.01 429.28 L380.42 425.46 L389.82 420.19 L399.22 406.48 L408.63 405.48 L418.03 395.49 L427.44 374.23 L436.84 371.24 L446.24 354.88 L455.65 362.42 L465.05 352.43 L474.45 357.43 L483.86 364.97 L493.26 364.97 L502.66 387.49 L512.07 392.49 L521.47 400.76 L530.88 408.75 L540.28 418.74 L549.68 425.01 L559.09 427.46 L568.49 434.27 L577.89 432.46 L587.30 433.46" fill="none" stroke="#c43735" stroke-width="1.85" stroke-linejoin="round"/>
<circle cx="342.80" cy="429.73" r="1.75" fill="#d96a68" stroke="#c43735" stroke-width="0.9"/>
<circle cx="352.21" cy="429.28" r="1.75" fill="#d96a68" stroke="#c43735" stroke-width="0.9"/>
<circle cx="361.61" cy="430.00" r="1.75" fill="#d96a68" stroke="#c43735" stroke-width="0.9"/>
<circle cx="371.01" cy="429.28" r="1.75" fill="#d96a68" stroke="#c43735" stroke-width="0.9"/>
<circle cx="380.42" cy="425.46" r="1.75" fill="#d96a68" stroke="#c43735" stroke-width="0.9"/>
<circle cx="389.82" cy="420.19" r="1.75" fill="#d96a68" stroke="#c43735" stroke-width="0.9"/>
<circle cx="399.22" cy="406.48" r="1.75" fill="#d96a68" stroke="#c43735" stroke-width="0.9"/>
<circle cx="408.63" cy="405.48" r="1.75" fill="#d96a68" stroke="#c43735" stroke-width="0.9"/>
<circle cx="418.03" cy="395.49" r="1.75" fill="#d96a68" stroke="#c43735" stroke-width="0.9"/>
<circle cx="427.44" cy="374.23" r="1.75" fill="#d96a68" stroke="#c43735" stroke-width="0.9"/>
<circle cx="436.84" cy="371.24" r="1.75" fill="#d96a68" stroke="#c43735" stroke-width="0.9"/>
<circle cx="446.24" cy="354.88" r="1.75" fill="#d96a68" stroke="#c43735" stroke-width="0.9"/>
<circle cx="455.65" cy="362.42" r="1.75" fill="#d96a68" stroke="#c43735" stroke-width="0.9"/>
<circle cx="465.05" cy="352.43" r="1.75" fill="#d96a68" stroke="#c43735" stroke-width="0.9"/>
<circle cx="474.45" cy="357.43" r="1.75" fill="#d96a68" stroke="#c43735" stroke-width="0.9"/>
<circle cx="483.86" cy="364.97" r="1.75" fill="#d96a68" stroke="#c43735" stroke-width="0.9"/>
<circle cx="493.26" cy="364.97" r="1.75" fill="#d96a68" stroke="#c43735" stroke-width="0.9"/>
<circle cx="502.66" cy="387.49" r="1.75" fill="#d96a68" stroke="#c43735" stroke-width="0.9"/>
<circle cx="512.07" cy="392.49" r="1.75" fill="#d96a68" stroke="#c43735" stroke-width="0.9"/>
<circle cx="521.47" cy="400.76" r="1.75" fill="#d96a68" stroke="#c43735" stroke-width="0.9"/>
<circle cx="530.88" cy="408.75" r="1.75" fill="#d96a68" stroke="#c43735" stroke-width="0.9"/>
<circle cx="540.28" cy="418.74" r="1.75" fill="#d96a68" stroke="#c43735" stroke-width="0.9"/>
<circle cx="549.68" cy="425.01" r="1.75" fill="#d96a68" stroke="#c43735" stroke-width="0.9"/>
<circle cx="559.09" cy="427.46" r="1.75" fill="#d96a68" stroke="#c43735" stroke-width="0.9"/>
<circle cx="568.49" cy="434.27" r="1.75" fill="#d96a68" stroke="#c43735" stroke-width="0.9"/>
<circle cx="577.89" cy="432.46" r="1.75" fill="#d96a68" stroke="#c43735" stroke-width="0.9"/>
<circle cx="587.30" cy="433.46" r="1.75" fill="#d96a68" stroke="#c43735" stroke-width="0.9"/>
<text x="168.5" y="462.8" text-anchor="middle" font-size="10.9" fill="#000">DY</text>
<rect x="54.31" y="567.83" width="4.70" height="16.47" fill="#000"/>
<rect x="66.36" y="551.43" width="4.70" height="32.87" fill="#000"/>
<rect x="78.42" y="571.96" width="4.70" height="12.34" fill="#000"/>
<rect x="90.48" y="567.83" width="4.70" height="16.47" fill="#000"/>
<rect x="102.53" y="551.43" width="4.70" height="32.87" fill="#000"/>
<rect x="114.59" y="559.63" width="4.70" height="24.67" fill="#000"/>
<rect x="126.64" y="576.10" width="4.70" height="8.20" fill="#000"/>
<rect x="138.70" y="530.90" width="4.70" height="53.40" fill="#000"/>
<rect x="150.75" y="555.57" width="4.70" height="28.73" fill="#000"/>
<rect x="162.81" y="547.29" width="4.70" height="37.01" fill="#000"/>
<rect x="174.87" y="485.70" width="4.70" height="98.60" fill="#000"/>
<rect x="186.92" y="534.96" width="4.70" height="49.34" fill="#000"/>
<rect x="198.98" y="543.23" width="4.70" height="41.07" fill="#000"/>
<rect x="211.03" y="502.09" width="4.70" height="82.21" fill="#000"/>
<rect x="223.09" y="534.96" width="4.70" height="49.34" fill="#000"/>
<rect x="235.14" y="530.90" width="4.70" height="53.40" fill="#000"/>
<rect x="247.20" y="485.70" width="4.70" height="98.60" fill="#000"/>
<rect x="259.25" y="563.77" width="4.70" height="20.53" fill="#000"/>
<rect x="271.31" y="576.10" width="4.70" height="8.20" fill="#000"/>
<rect x="283.37" y="567.83" width="4.70" height="16.47" fill="#000"/>
<path d="M50.33 475V584.3" fill="none" stroke="#333" stroke-width="1.1"/>
<path d="M47.93 584.3H303.5" fill="none" stroke="#000" stroke-width="1"/>
<path d="M47.93 584.30H50.33" stroke="#111" stroke-width="0.9"/>
<text transform="translate(42.03,587.20) scale(0.88,1)" text-anchor="end" font-size="8.2" fill="#000" stroke="#000" stroke-width="0.12">0.00</text>
<path d="M47.93 568.69H50.33" stroke="#111" stroke-width="0.9"/>
<text transform="translate(42.03,571.59) scale(0.88,1)" text-anchor="end" font-size="8.2" fill="#000" stroke="#000" stroke-width="0.12">0.02</text>
<path d="M47.93 553.07H50.33" stroke="#111" stroke-width="0.9"/>
<text transform="translate(42.03,555.97) scale(0.88,1)" text-anchor="end" font-size="8.2" fill="#000" stroke="#000" stroke-width="0.12">0.04</text>
<path d="M47.93 537.46H50.33" stroke="#111" stroke-width="0.9"/>
<text transform="translate(42.03,540.36) scale(0.88,1)" text-anchor="end" font-size="8.2" fill="#000" stroke="#000" stroke-width="0.12">0.06</text>
<path d="M47.93 521.84H50.33" stroke="#111" stroke-width="0.9"/>
<text transform="translate(42.03,524.74) scale(0.88,1)" text-anchor="end" font-size="8.2" fill="#000" stroke="#000" stroke-width="0.12">0.08</text>
<path d="M47.93 506.23H50.33" stroke="#111" stroke-width="0.9"/>
<text transform="translate(42.03,509.13) scale(0.88,1)" text-anchor="end" font-size="8.2" fill="#000" stroke="#000" stroke-width="0.12">0.10</text>
<path d="M47.93 490.61H50.33" stroke="#111" stroke-width="0.9"/>
<text transform="translate(42.03,493.51) scale(0.88,1)" text-anchor="end" font-size="8.2" fill="#000" stroke="#000" stroke-width="0.12">0.12</text>
<path d="M47.93 475.00H50.33" stroke="#111" stroke-width="0.9"/>
<text transform="translate(42.03,477.90) scale(0.88,1)" text-anchor="end" font-size="8.2" fill="#000" stroke="#000" stroke-width="0.12">0.14</text>
<path d="M50.33 584.3v2.3" stroke="#111" stroke-width="0.9"/>
<path d="M62.39 584.3v2.3" stroke="#111" stroke-width="0.9"/>
<path d="M74.44 584.3v2.3" stroke="#111" stroke-width="0.9"/>
<path d="M86.50 584.3v2.3" stroke="#111" stroke-width="0.9"/>
<path d="M98.55 584.3v2.3" stroke="#111" stroke-width="0.9"/>
<path d="M110.61 584.3v2.3" stroke="#111" stroke-width="0.9"/>
<path d="M122.66 584.3v2.3" stroke="#111" stroke-width="0.9"/>
<path d="M134.72 584.3v2.3" stroke="#111" stroke-width="0.9"/>
<path d="M146.78 584.3v2.3" stroke="#111" stroke-width="0.9"/>
<path d="M158.83 584.3v2.3" stroke="#111" stroke-width="0.9"/>
<path d="M170.89 584.3v2.3" stroke="#111" stroke-width="0.9"/>
<path d="M182.94 584.3v2.3" stroke="#111" stroke-width="0.9"/>
<path d="M195.00 584.3v2.3" stroke="#111" stroke-width="0.9"/>
<path d="M207.05 584.3v2.3" stroke="#111" stroke-width="0.9"/>
<path d="M219.11 584.3v2.3" stroke="#111" stroke-width="0.9"/>
<path d="M231.17 584.3v2.3" stroke="#111" stroke-width="0.9"/>
<path d="M243.22 584.3v2.3" stroke="#111" stroke-width="0.9"/>
<path d="M255.28 584.3v2.3" stroke="#111" stroke-width="0.9"/>
<path d="M267.33 584.3v2.3" stroke="#111" stroke-width="0.9"/>
<path d="M279.39 584.3v2.3" stroke="#111" stroke-width="0.9"/>
<path d="M291.44 584.3v2.3" stroke="#111" stroke-width="0.9"/>
<path d="M303.50 584.3v2.3" stroke="#111" stroke-width="0.9"/>
<text transform="translate(56.36,595.60) scale(0.9,1)" text-anchor="middle" font-size="8.2" fill="#000" stroke="#000" stroke-width="0.18">0</text>
<text transform="translate(68.41,595.60) scale(0.9,1)" text-anchor="middle" font-size="8.2" fill="#000" stroke="#000" stroke-width="0.18">1</text>
<text transform="translate(80.47,595.60) scale(0.9,1)" text-anchor="middle" font-size="8.2" fill="#000" stroke="#000" stroke-width="0.18">2</text>
<text transform="translate(92.53,595.60) scale(0.9,1)" text-anchor="middle" font-size="8.2" fill="#000" stroke="#000" stroke-width="0.18">3</text>
<text transform="translate(104.58,595.60) scale(0.9,1)" text-anchor="middle" font-size="8.2" fill="#000" stroke="#000" stroke-width="0.18">4</text>
<text transform="translate(116.64,595.60) scale(0.9,1)" text-anchor="middle" font-size="8.2" fill="#000" stroke="#000" stroke-width="0.18">5</text>
<text transform="translate(128.69,595.60) scale(0.9,1)" text-anchor="middle" font-size="8.2" fill="#000" stroke="#000" stroke-width="0.18">6</text>
<text transform="translate(140.75,595.60) scale(0.9,1)" text-anchor="middle" font-size="8.2" fill="#000" stroke="#000" stroke-width="0.18">7</text>
<text transform="translate(152.80,595.60) scale(0.9,1)" text-anchor="middle" font-size="8.2" fill="#000" stroke="#000" stroke-width="0.18">8</text>
<text transform="translate(164.86,595.60) scale(0.9,1)" text-anchor="middle" font-size="8.2" fill="#000" stroke="#000" stroke-width="0.18">9</text>
<text transform="translate(176.92,595.60) scale(0.8,1)" text-anchor="middle" font-size="8.2" fill="#000" stroke="#000" stroke-width="0.18">10</text>
<text transform="translate(188.97,595.60) scale(0.8,1)" text-anchor="middle" font-size="8.2" fill="#000" stroke="#000" stroke-width="0.18">11</text>
<text transform="translate(201.03,595.60) scale(0.8,1)" text-anchor="middle" font-size="8.2" fill="#000" stroke="#000" stroke-width="0.18">12</text>
<text transform="translate(213.08,595.60) scale(0.8,1)" text-anchor="middle" font-size="8.2" fill="#000" stroke="#000" stroke-width="0.18">13</text>
<text transform="translate(225.14,595.60) scale(0.8,1)" text-anchor="middle" font-size="8.2" fill="#000" stroke="#000" stroke-width="0.18">14</text>
<text transform="translate(237.19,595.60) scale(0.8,1)" text-anchor="middle" font-size="8.2" fill="#000" stroke="#000" stroke-width="0.18">15</text>
<text transform="translate(249.25,595.60) scale(0.8,1)" text-anchor="middle" font-size="8.2" fill="#000" stroke="#000" stroke-width="0.18">16</text>
<text transform="translate(261.31,595.60) scale(0.8,1)" text-anchor="middle" font-size="8.2" fill="#000" stroke="#000" stroke-width="0.18">17</text>
<text transform="translate(273.36,595.60) scale(0.8,1)" text-anchor="middle" font-size="8.2" fill="#000" stroke="#000" stroke-width="0.18">18</text>
<text transform="translate(285.42,595.60) scale(0.8,1)" text-anchor="middle" font-size="8.2" fill="#000" stroke="#000" stroke-width="0.18">19</text>
<text transform="translate(297.47,595.60) scale(0.8,1)" text-anchor="middle" font-size="8.2" fill="#000" stroke="#000" stroke-width="0.18">20</text>
<text transform="translate(12.0,516.2) rotate(-90)" text-anchor="middle" font-size="12.5" fill="#000" stroke="#000" stroke-width="0.06">Frequency</text>
<path d="M56.36 559.08 L68.41 565.56 L80.47 566.34 L92.53 563.06 L104.58 566.34 L116.64 557.83 L128.69 553.62 L140.75 555.65 L152.80 539.17 L164.86 530.43 L176.92 521.69 L188.97 509.51 L201.03 501.23 L213.08 512.94 L225.14 530.43 L237.19 539.41 L249.25 541.91 L261.31 559.86 L273.36 564.08 L285.42 572.82 L297.47 581.02" fill="none" stroke="#c43735" stroke-width="1.85" stroke-linejoin="round"/>
<circle cx="56.36" cy="559.08" r="1.75" fill="#d96a68" stroke="#c43735" stroke-width="0.9"/>
<circle cx="68.41" cy="565.56" r="1.75" fill="#d96a68" stroke="#c43735" stroke-width="0.9"/>
<circle cx="80.47" cy="566.34" r="1.75" fill="#d96a68" stroke="#c43735" stroke-width="0.9"/>
<circle cx="92.53" cy="563.06" r="1.75" fill="#d96a68" stroke="#c43735" stroke-width="0.9"/>
<circle cx="104.58" cy="566.34" r="1.75" fill="#d96a68" stroke="#c43735" stroke-width="0.9"/>
<circle cx="116.64" cy="557.83" r="1.75" fill="#d96a68" stroke="#c43735" stroke-width="0.9"/>
<circle cx="128.69" cy="553.62" r="1.75" fill="#d96a68" stroke="#c43735" stroke-width="0.9"/>
<circle cx="140.75" cy="555.65" r="1.75" fill="#d96a68" stroke="#c43735" stroke-width="0.9"/>
<circle cx="152.80" cy="539.17" r="1.75" fill="#d96a68" stroke="#c43735" stroke-width="0.9"/>
<circle cx="164.86" cy="530.43" r="1.75" fill="#d96a68" stroke="#c43735" stroke-width="0.9"/>
<circle cx="176.92" cy="521.69" r="1.75" fill="#d96a68" stroke="#c43735" stroke-width="0.9"/>
<circle cx="188.97" cy="509.51" r="1.75" fill="#d96a68" stroke="#c43735" stroke-width="0.9"/>
<circle cx="201.03" cy="501.23" r="1.75" fill="#d96a68" stroke="#c43735" stroke-width="0.9"/>
<circle cx="213.08" cy="512.94" r="1.75" fill="#d96a68" stroke="#c43735" stroke-width="0.9"/>
<circle cx="225.14" cy="530.43" r="1.75" fill="#d96a68" stroke="#c43735" stroke-width="0.9"/>
<circle cx="237.19" cy="539.41" r="1.75" fill="#d96a68" stroke="#c43735" stroke-width="0.9"/>
<circle cx="249.25" cy="541.91" r="1.75" fill="#d96a68" stroke="#c43735" stroke-width="0.9"/>
<circle cx="261.31" cy="559.86" r="1.75" fill="#d96a68" stroke="#c43735" stroke-width="0.9"/>
<circle cx="273.36" cy="564.08" r="1.75" fill="#d96a68" stroke="#c43735" stroke-width="0.9"/>
<circle cx="285.42" cy="572.82" r="1.75" fill="#d96a68" stroke="#c43735" stroke-width="0.9"/>
<circle cx="297.47" cy="581.02" r="1.75" fill="#d96a68" stroke="#c43735" stroke-width="0.9"/>
<text x="457.5" y="463.2" text-anchor="middle" font-size="10.9" fill="#000">LZ</text>
<rect x="342.97" y="561.17" width="4.10" height="23.63" fill="#000"/>
<rect x="354.00" y="549.36" width="4.10" height="35.44" fill="#000"/>
<rect x="365.03" y="569.08" width="4.10" height="15.72" fill="#000"/>
<rect x="376.06" y="569.08" width="4.10" height="15.72" fill="#000"/>
<rect x="387.10" y="572.99" width="4.10" height="11.81" fill="#000"/>
<rect x="398.13" y="576.89" width="4.10" height="7.91" fill="#000"/>
<rect x="409.16" y="576.89" width="4.10" height="7.91" fill="#000"/>
<rect x="420.19" y="533.64" width="4.10" height="51.16" fill="#000"/>
<rect x="431.23" y="494.29" width="4.10" height="90.51" fill="#000"/>
<rect x="442.26" y="537.64" width="4.10" height="47.16" fill="#000"/>
<rect x="453.29" y="510.01" width="4.10" height="74.79" fill="#000"/>
<rect x="464.32" y="482.47" width="4.10" height="102.33" fill="#000"/>
<rect x="475.36" y="533.64" width="4.10" height="51.16" fill="#000"/>
<rect x="486.39" y="541.54" width="4.10" height="43.26" fill="#000"/>
<rect x="497.42" y="525.82" width="4.10" height="58.98" fill="#000"/>
<rect x="508.46" y="517.92" width="4.10" height="66.88" fill="#000"/>
<rect x="519.49" y="525.82" width="4.10" height="58.98" fill="#000"/>
<rect x="530.52" y="537.64" width="4.10" height="47.16" fill="#000"/>
<rect x="541.55" y="533.64" width="4.10" height="51.16" fill="#000"/>
<rect x="552.59" y="569.08" width="4.10" height="15.72" fill="#000"/>
<rect x="563.62" y="565.17" width="4.10" height="19.63" fill="#000"/>
<rect x="574.65" y="576.89" width="4.10" height="7.91" fill="#000"/>
<path d="M339.5 475.75V584.8" fill="none" stroke="#4a4a4a" stroke-width="1.1"/>
<path d="M337.1 584.8H593.25" fill="none" stroke="#000" stroke-width="1"/>
<path d="M337.7 584.80H339.5" stroke="#111" stroke-width="0.9"/>
<text transform="translate(331.70,587.70) scale(0.88,1)" text-anchor="end" font-size="8.2" fill="#000" stroke="#000" stroke-width="0.12">0.00</text>
<path d="M337.7 566.62H339.5" stroke="#111" stroke-width="0.9"/>
<text transform="translate(331.70,569.52) scale(0.88,1)" text-anchor="end" font-size="8.2" fill="#000" stroke="#000" stroke-width="0.12">0.02</text>
<path d="M337.7 548.45H339.5" stroke="#111" stroke-width="0.9"/>
<text transform="translate(331.70,551.35) scale(0.88,1)" text-anchor="end" font-size="8.2" fill="#000" stroke="#000" stroke-width="0.12">0.04</text>
<path d="M337.7 530.27H339.5" stroke="#111" stroke-width="0.9"/>
<text transform="translate(331.70,533.17) scale(0.88,1)" text-anchor="end" font-size="8.2" fill="#000" stroke="#000" stroke-width="0.12">0.06</text>
<path d="M337.7 512.10H339.5" stroke="#111" stroke-width="0.9"/>
<text transform="translate(331.70,515.00) scale(0.88,1)" text-anchor="end" font-size="8.2" fill="#000" stroke="#000" stroke-width="0.12">0.08</text>
<path d="M337.7 493.92H339.5" stroke="#111" stroke-width="0.9"/>
<text transform="translate(331.70,496.82) scale(0.88,1)" text-anchor="end" font-size="8.2" fill="#000" stroke="#000" stroke-width="0.12">0.10</text>
<path d="M337.7 475.75H339.5" stroke="#111" stroke-width="0.9"/>
<text transform="translate(331.70,478.65) scale(0.88,1)" text-anchor="end" font-size="8.2" fill="#000" stroke="#000" stroke-width="0.12">0.12</text>
<path d="M339.50 584.8v2.3" stroke="#111" stroke-width="0.9"/>
<path d="M350.53 584.8v2.3" stroke="#111" stroke-width="0.9"/>
<path d="M361.57 584.8v2.3" stroke="#111" stroke-width="0.9"/>
<path d="M372.60 584.8v2.3" stroke="#111" stroke-width="0.9"/>
<path d="M383.63 584.8v2.3" stroke="#111" stroke-width="0.9"/>
<path d="M394.66 584.8v2.3" stroke="#111" stroke-width="0.9"/>
<path d="M405.70 584.8v2.3" stroke="#111" stroke-width="0.9"/>
<path d="M416.73 584.8v2.3" stroke="#111" stroke-width="0.9"/>
<path d="M427.76 584.8v2.3" stroke="#111" stroke-width="0.9"/>
<path d="M438.79 584.8v2.3" stroke="#111" stroke-width="0.9"/>
<path d="M449.83 584.8v2.3" stroke="#111" stroke-width="0.9"/>
<path d="M460.86 584.8v2.3" stroke="#111" stroke-width="0.9"/>
<path d="M471.89 584.8v2.3" stroke="#111" stroke-width="0.9"/>
<path d="M482.92 584.8v2.3" stroke="#111" stroke-width="0.9"/>
<path d="M493.96 584.8v2.3" stroke="#111" stroke-width="0.9"/>
<path d="M504.99 584.8v2.3" stroke="#111" stroke-width="0.9"/>
<path d="M516.02 584.8v2.3" stroke="#111" stroke-width="0.9"/>
<path d="M527.05 584.8v2.3" stroke="#111" stroke-width="0.9"/>
<path d="M538.09 584.8v2.3" stroke="#111" stroke-width="0.9"/>
<path d="M549.12 584.8v2.3" stroke="#111" stroke-width="0.9"/>
<path d="M560.15 584.8v2.3" stroke="#111" stroke-width="0.9"/>
<path d="M571.18 584.8v2.3" stroke="#111" stroke-width="0.9"/>
<path d="M582.22 584.8v2.3" stroke="#111" stroke-width="0.9"/>
<path d="M593.25 584.8v2.3" stroke="#111" stroke-width="0.9"/>
<text transform="translate(345.02,596.10) scale(0.9,1)" text-anchor="middle" font-size="8.2" fill="#000" stroke="#000" stroke-width="0.18">0</text>
<text transform="translate(356.05,596.10) scale(0.9,1)" text-anchor="middle" font-size="8.2" fill="#000" stroke="#000" stroke-width="0.18">1</text>
<text transform="translate(367.08,596.10) scale(0.9,1)" text-anchor="middle" font-size="8.2" fill="#000" stroke="#000" stroke-width="0.18">2</text>
<text transform="translate(378.11,596.10) scale(0.9,1)" text-anchor="middle" font-size="8.2" fill="#000" stroke="#000" stroke-width="0.18">3</text>
<text transform="translate(389.15,596.10) scale(0.9,1)" text-anchor="middle" font-size="8.2" fill="#000" stroke="#000" stroke-width="0.18">4</text>
<text transform="translate(400.18,596.10) scale(0.9,1)" text-anchor="middle" font-size="8.2" fill="#000" stroke="#000" stroke-width="0.18">5</text>
<text transform="translate(411.21,596.10) scale(0.9,1)" text-anchor="middle" font-size="8.2" fill="#000" stroke="#000" stroke-width="0.18">6</text>
<text transform="translate(422.24,596.10) scale(0.9,1)" text-anchor="middle" font-size="8.2" fill="#000" stroke="#000" stroke-width="0.18">7</text>
<text transform="translate(433.28,596.10) scale(0.9,1)" text-anchor="middle" font-size="8.2" fill="#000" stroke="#000" stroke-width="0.18">8</text>
<text transform="translate(444.31,596.10) scale(0.9,1)" text-anchor="middle" font-size="8.2" fill="#000" stroke="#000" stroke-width="0.18">9</text>
<text transform="translate(455.34,596.10) scale(0.8,1)" text-anchor="middle" font-size="8.2" fill="#000" stroke="#000" stroke-width="0.18">10</text>
<text transform="translate(466.38,596.10) scale(0.8,1)" text-anchor="middle" font-size="8.2" fill="#000" stroke="#000" stroke-width="0.18">11</text>
<text transform="translate(477.41,596.10) scale(0.8,1)" text-anchor="middle" font-size="8.2" fill="#000" stroke="#000" stroke-width="0.18">12</text>
<text transform="translate(488.44,596.10) scale(0.8,1)" text-anchor="middle" font-size="8.2" fill="#000" stroke="#000" stroke-width="0.18">13</text>
<text transform="translate(499.47,596.10) scale(0.8,1)" text-anchor="middle" font-size="8.2" fill="#000" stroke="#000" stroke-width="0.18">14</text>
<text transform="translate(510.51,596.10) scale(0.8,1)" text-anchor="middle" font-size="8.2" fill="#000" stroke="#000" stroke-width="0.18">15</text>
<text transform="translate(521.54,596.10) scale(0.8,1)" text-anchor="middle" font-size="8.2" fill="#000" stroke="#000" stroke-width="0.18">16</text>
<text transform="translate(532.57,596.10) scale(0.8,1)" text-anchor="middle" font-size="8.2" fill="#000" stroke="#000" stroke-width="0.18">17</text>
<text transform="translate(543.60,596.10) scale(0.8,1)" text-anchor="middle" font-size="8.2" fill="#000" stroke="#000" stroke-width="0.18">18</text>
<text transform="translate(554.64,596.10) scale(0.8,1)" text-anchor="middle" font-size="8.2" fill="#000" stroke="#000" stroke-width="0.18">19</text>
<text transform="translate(565.67,596.10) scale(0.8,1)" text-anchor="middle" font-size="8.2" fill="#000" stroke="#000" stroke-width="0.18">20</text>
<text transform="translate(576.70,596.10) scale(0.8,1)" text-anchor="middle" font-size="8.2" fill="#000" stroke="#000" stroke-width="0.18">21</text>
<text transform="translate(587.73,596.10) scale(0.8,1)" text-anchor="middle" font-size="8.2" fill="#000" stroke="#000" stroke-width="0.18">22</text>
<path d="M345.02 572.08 L356.05 569.08 L367.08 568.53 L378.11 566.08 L389.15 561.81 L400.18 560.81 L411.21 548.36 L422.24 536.09 L433.28 520.91 L444.31 517.10 L455.34 503.92 L466.38 504.65 L477.41 503.92 L488.44 508.65 L499.47 517.10 L510.51 536.09 L521.54 544.81 L532.57 555.36 L543.60 562.08 L554.64 569.53 L565.67 571.35 L576.70 570.35 L587.73 570.35" fill="none" stroke="#c43735" stroke-width="1.85" stroke-linejoin="round"/>
<circle cx="345.02" cy="572.08" r="1.75" fill="#d96a68" stroke="#c43735" stroke-width="0.9"/>
<circle cx="356.05" cy="569.08" r="1.75" fill="#d96a68" stroke="#c43735" stroke-width="0.9"/>
<circle cx="367.08" cy="568.53" r="1.75" fill="#d96a68" stroke="#c43735" stroke-width="0.9"/>
<circle cx="378.11" cy="566.08" r="1.75" fill="#d96a68" stroke="#c43735" stroke-width="0.9"/>
<circle cx="389.15" cy="561.81" r="1.75" fill="#d96a68" stroke="#c43735" stroke-width="0.9"/>
<circle cx="400.18" cy="560.81" r="1.75" fill="#d96a68" stroke="#c43735" stroke-width="0.9"/>
<circle cx="411.21" cy="548.36" r="1.75" fill="#d96a68" stroke="#c43735" stroke-width="0.9"/>
<circle cx="422.24" cy="536.09" r="1.75" fill="#d96a68" stroke="#c43735" stroke-width="0.9"/>
<circle cx="433.28" cy="520.91" r="1.75" fill="#d96a68" stroke="#c43735" stroke-width="0.9"/>
<circle cx="444.31" cy="517.10" r="1.75" fill="#d96a68" stroke="#c43735" stroke-width="0.9"/>
<circle cx="455.34" cy="503.92" r="1.75" fill="#d96a68" stroke="#c43735" stroke-width="0.9"/>
<circle cx="466.38" cy="504.65" r="1.75" fill="#d96a68" stroke="#c43735" stroke-width="0.9"/>
<circle cx="477.41" cy="503.92" r="1.75" fill="#d96a68" stroke="#c43735" stroke-width="0.9"/>
<circle cx="488.44" cy="508.65" r="1.75" fill="#d96a68" stroke="#c43735" stroke-width="0.9"/>
<circle cx="499.47" cy="517.10" r="1.75" fill="#d96a68" stroke="#c43735" stroke-width="0.9"/>
<circle cx="510.51" cy="536.09" r="1.75" fill="#d96a68" stroke="#c43735" stroke-width="0.9"/>
<circle cx="521.54" cy="544.81" r="1.75" fill="#d96a68" stroke="#c43735" stroke-width="0.9"/>
<circle cx="532.57" cy="555.36" r="1.75" fill="#d96a68" stroke="#c43735" stroke-width="0.9"/>
<circle cx="543.60" cy="562.08" r="1.75" fill="#d96a68" stroke="#c43735" stroke-width="0.9"/>
<circle cx="554.64" cy="569.53" r="1.75" fill="#d96a68" stroke="#c43735" stroke-width="0.9"/>
<circle cx="565.67" cy="571.35" r="1.75" fill="#d96a68" stroke="#c43735" stroke-width="0.9"/>
<circle cx="576.70" cy="570.35" r="1.75" fill="#d96a68" stroke="#c43735" stroke-width="0.9"/>
<circle cx="587.73" cy="570.35" r="1.75" fill="#d96a68" stroke="#c43735" stroke-width="0.9"/>
<text x="169" y="613.8" text-anchor="middle" font-size="10.9" fill="#000">QD</text>
<rect x="53.67" y="721.27" width="4.30" height="13.03" fill="#000"/>
<rect x="64.26" y="725.62" width="4.30" height="8.68" fill="#000"/>
<rect x="74.85" y="721.27" width="4.30" height="13.03" fill="#000"/>
<rect x="85.43" y="721.27" width="4.30" height="13.03" fill="#000"/>
<rect x="96.02" y="717.02" width="4.30" height="17.28" fill="#000"/>
<rect x="106.60" y="708.34" width="4.30" height="25.96" fill="#000"/>
<rect x="117.19" y="708.34" width="4.30" height="25.96" fill="#000"/>
<rect x="127.78" y="695.31" width="4.30" height="38.99" fill="#000"/>
<rect x="138.36" y="682.38" width="4.30" height="51.92" fill="#000"/>
<rect x="148.95" y="695.31" width="4.30" height="38.99" fill="#000"/>
<rect x="159.54" y="660.76" width="4.30" height="73.54" fill="#000"/>
<rect x="170.12" y="652.07" width="4.30" height="82.23" fill="#000"/>
<rect x="180.71" y="660.76" width="4.30" height="73.54" fill="#000"/>
<rect x="191.29" y="661.93" width="4.30" height="72.37" fill="#000"/>
<rect x="201.88" y="682.38" width="4.30" height="51.92" fill="#000"/>
<rect x="212.47" y="643.39" width="4.30" height="90.91" fill="#000"/>
<rect x="223.05" y="669.35" width="4.30" height="64.95" fill="#000"/>
<rect x="233.64" y="691.06" width="4.30" height="43.24" fill="#000"/>
<rect x="244.23" y="686.72" width="4.30" height="47.58" fill="#000"/>
<rect x="265.40" y="717.02" width="4.30" height="17.28" fill="#000"/>
<rect x="275.98" y="717.02" width="4.30" height="17.28" fill="#000"/>
<rect x="286.57" y="725.62" width="4.30" height="8.68" fill="#000"/>
<path d="M50.33 625.75V734.3" fill="none" stroke="#333" stroke-width="1.1"/>
<path d="M47.93 734.3H304.4" fill="none" stroke="#000" stroke-width="1"/>
<path d="M47.93 734.30H50.33" stroke="#111" stroke-width="0.9"/>
<text transform="translate(42.03,737.20) scale(0.88,1)" text-anchor="end" font-size="8.2" fill="#000" stroke="#000" stroke-width="0.12">0.00</text>
<path d="M47.93 716.21H50.33" stroke="#111" stroke-width="0.9"/>
<text transform="translate(42.03,719.11) scale(0.88,1)" text-anchor="end" font-size="8.2" fill="#000" stroke="#000" stroke-width="0.12">0.02</text>
<path d="M47.93 698.12H50.33" stroke="#111" stroke-width="0.9"/>
<text transform="translate(42.03,701.02) scale(0.88,1)" text-anchor="end" font-size="8.2" fill="#000" stroke="#000" stroke-width="0.12">0.04</text>
<path d="M47.93 680.02H50.33" stroke="#111" stroke-width="0.9"/>
<text transform="translate(42.03,682.92) scale(0.88,1)" text-anchor="end" font-size="8.2" fill="#000" stroke="#000" stroke-width="0.12">0.06</text>
<path d="M47.93 661.93H50.33" stroke="#111" stroke-width="0.9"/>
<text transform="translate(42.03,664.83) scale(0.88,1)" text-anchor="end" font-size="8.2" fill="#000" stroke="#000" stroke-width="0.12">0.08</text>
<path d="M47.93 643.84H50.33" stroke="#111" stroke-width="0.9"/>
<text transform="translate(42.03,646.74) scale(0.88,1)" text-anchor="end" font-size="8.2" fill="#000" stroke="#000" stroke-width="0.12">0.10</text>
<path d="M47.93 625.75H50.33" stroke="#111" stroke-width="0.9"/>
<text transform="translate(42.03,628.65) scale(0.88,1)" text-anchor="end" font-size="8.2" fill="#000" stroke="#000" stroke-width="0.12">0.12</text>
<path d="M50.33 734.3v2.3" stroke="#111" stroke-width="0.9"/>
<path d="M60.92 734.3v2.3" stroke="#111" stroke-width="0.9"/>
<path d="M71.50 734.3v2.3" stroke="#111" stroke-width="0.9"/>
<path d="M82.09 734.3v2.3" stroke="#111" stroke-width="0.9"/>
<path d="M92.67 734.3v2.3" stroke="#111" stroke-width="0.9"/>
<path d="M103.26 734.3v2.3" stroke="#111" stroke-width="0.9"/>
<path d="M113.85 734.3v2.3" stroke="#111" stroke-width="0.9"/>
<path d="M124.43 734.3v2.3" stroke="#111" stroke-width="0.9"/>
<path d="M135.02 734.3v2.3" stroke="#111" stroke-width="0.9"/>
<path d="M145.61 734.3v2.3" stroke="#111" stroke-width="0.9"/>
<path d="M156.19 734.3v2.3" stroke="#111" stroke-width="0.9"/>
<path d="M166.78 734.3v2.3" stroke="#111" stroke-width="0.9"/>
<path d="M177.37 734.3v2.3" stroke="#111" stroke-width="0.9"/>
<path d="M187.95 734.3v2.3" stroke="#111" stroke-width="0.9"/>
<path d="M198.54 734.3v2.3" stroke="#111" stroke-width="0.9"/>
<path d="M209.12 734.3v2.3" stroke="#111" stroke-width="0.9"/>
<path d="M219.71 734.3v2.3" stroke="#111" stroke-width="0.9"/>
<path d="M230.30 734.3v2.3" stroke="#111" stroke-width="0.9"/>
<path d="M240.88 734.3v2.3" stroke="#111" stroke-width="0.9"/>
<path d="M251.47 734.3v2.3" stroke="#111" stroke-width="0.9"/>
<path d="M262.06 734.3v2.3" stroke="#111" stroke-width="0.9"/>
<path d="M272.64 734.3v2.3" stroke="#111" stroke-width="0.9"/>
<path d="M283.23 734.3v2.3" stroke="#111" stroke-width="0.9"/>
<path d="M293.81 734.3v2.3" stroke="#111" stroke-width="0.9"/>
<path d="M304.40 734.3v2.3" stroke="#111" stroke-width="0.9"/>
<text transform="translate(55.62,745.60) scale(0.9,1)" text-anchor="middle" font-size="8.2" fill="#000" stroke="#000" stroke-width="0.18">0</text>
<text transform="translate(66.21,745.60) scale(0.9,1)" text-anchor="middle" font-size="8.2" fill="#000" stroke="#000" stroke-width="0.18">1</text>
<text transform="translate(76.80,745.60) scale(0.9,1)" text-anchor="middle" font-size="8.2" fill="#000" stroke="#000" stroke-width="0.18">2</text>
<text transform="translate(87.38,745.60) scale(0.9,1)" text-anchor="middle" font-size="8.2" fill="#000" stroke="#000" stroke-width="0.18">3</text>
<text transform="translate(97.97,745.60) scale(0.9,1)" text-anchor="middle" font-size="8.2" fill="#000" stroke="#000" stroke-width="0.18">4</text>
<text transform="translate(108.55,745.60) scale(0.9,1)" text-anchor="middle" font-size="8.2" fill="#000" stroke="#000" stroke-width="0.18">5</text>
<text transform="translate(119.14,745.60) scale(0.9,1)" text-anchor="middle" font-size="8.2" fill="#000" stroke="#000" stroke-width="0.18">6</text>
<text transform="translate(129.73,745.60) scale(0.9,1)" text-anchor="middle" font-size="8.2" fill="#000" stroke="#000" stroke-width="0.18">7</text>
<text transform="translate(140.31,745.60) scale(0.9,1)" text-anchor="middle" font-size="8.2" fill="#000" stroke="#000" stroke-width="0.18">8</text>
<text transform="translate(150.90,745.60) scale(0.9,1)" text-anchor="middle" font-size="8.2" fill="#000" stroke="#000" stroke-width="0.18">9</text>
<text transform="translate(161.49,745.60) scale(0.8,1)" text-anchor="middle" font-size="8.2" fill="#000" stroke="#000" stroke-width="0.18">10</text>
<text transform="translate(172.07,745.60) scale(0.8,1)" text-anchor="middle" font-size="8.2" fill="#000" stroke="#000" stroke-width="0.18">11</text>
<text transform="translate(182.66,745.60) scale(0.8,1)" text-anchor="middle" font-size="8.2" fill="#000" stroke="#000" stroke-width="0.18">12</text>
<text transform="translate(193.24,745.60) scale(0.8,1)" text-anchor="middle" font-size="8.2" fill="#000" stroke="#000" stroke-width="0.18">13</text>
<text transform="translate(203.83,745.60) scale(0.8,1)" text-anchor="middle" font-size="8.2" fill="#000" stroke="#000" stroke-width="0.18">14</text>
<text transform="translate(214.42,745.60) scale(0.8,1)" text-anchor="middle" font-size="8.2" fill="#000" stroke="#000" stroke-width="0.18">15</text>
<text transform="translate(225.00,745.60) scale(0.8,1)" text-anchor="middle" font-size="8.2" fill="#000" stroke="#000" stroke-width="0.18">16</text>
<text transform="translate(235.59,745.60) scale(0.8,1)" text-anchor="middle" font-size="8.2" fill="#000" stroke="#000" stroke-width="0.18">17</text>
<text transform="translate(246.18,745.60) scale(0.8,1)" text-anchor="middle" font-size="8.2" fill="#000" stroke="#000" stroke-width="0.18">18</text>
<text transform="translate(256.76,745.60) scale(0.8,1)" text-anchor="middle" font-size="8.2" fill="#000" stroke="#000" stroke-width="0.18">19</text>
<text transform="translate(267.35,745.60) scale(0.8,1)" text-anchor="middle" font-size="8.2" fill="#000" stroke="#000" stroke-width="0.18">20</text>
<text transform="translate(277.93,745.60) scale(0.8,1)" text-anchor="middle" font-size="8.2" fill="#000" stroke="#000" stroke-width="0.18">21</text>
<text transform="translate(288.52,745.60) scale(0.8,1)" text-anchor="middle" font-size="8.2" fill="#000" stroke="#000" stroke-width="0.18">22</text>
<text transform="translate(299.11,745.60) scale(0.8,1)" text-anchor="middle" font-size="8.2" fill="#000" stroke="#000" stroke-width="0.18">23</text>
<text transform="translate(13.3,671.3) rotate(-90)" text-anchor="middle" font-size="12.5" fill="#000" stroke="#000" stroke-width="0.06">Frequency</text>
<path d="M55.62 718.56 L66.21 721.09 L76.80 720.55 L87.38 722.81 L97.97 720.10 L108.55 717.84 L119.14 705.35 L129.73 700.38 L140.31 695.58 L150.90 674.42 L161.49 671.88 L172.07 671.43 L182.66 664.92 L193.24 661.93 L203.83 658.22 L214.42 665.19 L225.00 673.69 L235.59 681.11 L246.18 692.87 L256.76 702.37 L267.35 709.88 L277.93 719.10 L288.52 722.81 L299.11 721.55" fill="none" stroke="#c43735" stroke-width="1.85" stroke-linejoin="round"/>
<circle cx="55.62" cy="718.56" r="1.75" fill="#d96a68" stroke="#c43735" stroke-width="0.9"/>
<circle cx="66.21" cy="721.09" r="1.75" fill="#d96a68" stroke="#c43735" stroke-width="0.9"/>
<circle cx="76.80" cy="720.55" r="1.75" fill="#d96a68" stroke="#c43735" stroke-width="0.9"/>
<circle cx="87.38" cy="722.81" r="1.75" fill="#d96a68" stroke="#c43735" stroke-width="0.9"/>
<circle cx="97.97" cy="720.10" r="1.75" fill="#d96a68" stroke="#c43735" stroke-width="0.9"/>
<circle cx="108.55" cy="717.84" r="1.75" fill="#d96a68" stroke="#c43735" stroke-width="0.9"/>
<circle cx="119.14" cy="705.35" r="1.75" fill="#d96a68" stroke="#c43735" stroke-width="0.9"/>
<circle cx="129.73" cy="700.38" r="1.75" fill="#d96a68" stroke="#c43735" stroke-width="0.9"/>
<circle cx="140.31" cy="695.58" r="1.75" fill="#d96a68" stroke="#c43735" stroke-width="0.9"/>
<circle cx="150.90" cy="674.42" r="1.75" fill="#d96a68" stroke="#c43735" stroke-width="0.9"/>
<circle cx="161.49" cy="671.88" r="1.75" fill="#d96a68" stroke="#c43735" stroke-width="0.9"/>
<circle cx="172.07" cy="671.43" r="1.75" fill="#d96a68" stroke="#c43735" stroke-width="0.9"/>
<circle cx="182.66" cy="664.92" r="1.75" fill="#d96a68" stroke="#c43735" stroke-width="0.9"/>
<circle cx="193.24" cy="661.93" r="1.75" fill="#d96a68" stroke="#c43735" stroke-width="0.9"/>
<circle cx="203.83" cy="658.22" r="1.75" fill="#d96a68" stroke="#c43735" stroke-width="0.9"/>
<circle cx="214.42" cy="665.19" r="1.75" fill="#d96a68" stroke="#c43735" stroke-width="0.9"/>
<circle cx="225.00" cy="673.69" r="1.75" fill="#d96a68" stroke="#c43735" stroke-width="0.9"/>
<circle cx="235.59" cy="681.11" r="1.75" fill="#d96a68" stroke="#c43735" stroke-width="0.9"/>
<circle cx="246.18" cy="692.87" r="1.75" fill="#d96a68" stroke="#c43735" stroke-width="0.9"/>
<circle cx="256.76" cy="702.37" r="1.75" fill="#d96a68" stroke="#c43735" stroke-width="0.9"/>
<circle cx="267.35" cy="709.88" r="1.75" fill="#d96a68" stroke="#c43735" stroke-width="0.9"/>
<circle cx="277.93" cy="719.10" r="1.75" fill="#d96a68" stroke="#c43735" stroke-width="0.9"/>
<circle cx="288.52" cy="722.81" r="1.75" fill="#d96a68" stroke="#c43735" stroke-width="0.9"/>
<circle cx="299.11" cy="721.55" r="1.75" fill="#d96a68" stroke="#c43735" stroke-width="0.9"/>
<text x="458.15" y="615" text-anchor="middle" font-size="10.9" fill="#000">NB</text>
<rect x="343.13" y="733.22" width="3.70" height="3.03" fill="#000"/>
<rect x="352.89" y="733.22" width="3.70" height="3.03" fill="#000"/>
<rect x="362.65" y="727.08" width="3.70" height="9.17" fill="#000"/>
<rect x="372.42" y="720.95" width="3.70" height="15.30" fill="#000"/>
<rect x="382.18" y="720.95" width="3.70" height="15.30" fill="#000"/>
<rect x="391.94" y="708.75" width="3.70" height="27.50" fill="#000"/>
<rect x="401.70" y="717.92" width="3.70" height="18.33" fill="#000"/>
<rect x="411.46" y="699.59" width="3.70" height="36.66" fill="#000"/>
<rect x="421.22" y="699.59" width="3.70" height="36.66" fill="#000"/>
<rect x="430.98" y="705.64" width="3.70" height="30.61" fill="#000"/>
<rect x="440.75" y="717.92" width="3.70" height="18.33" fill="#000"/>
<rect x="450.51" y="705.64" width="3.70" height="30.61" fill="#000"/>
<rect x="460.27" y="693.45" width="3.70" height="42.80" fill="#000"/>
<rect x="470.03" y="705.64" width="3.70" height="30.61" fill="#000"/>
<rect x="479.79" y="696.48" width="3.70" height="39.77" fill="#000"/>
<rect x="489.55" y="675.12" width="3.70" height="61.13" fill="#000"/>
<rect x="499.32" y="662.84" width="3.70" height="73.41" fill="#000"/>
<rect x="509.08" y="635.35" width="3.70" height="100.90" fill="#000"/>
<rect x="518.84" y="672.01" width="3.70" height="64.24" fill="#000"/>
<rect x="528.60" y="681.18" width="3.70" height="55.07" fill="#000"/>
<rect x="538.36" y="705.64" width="3.70" height="30.61" fill="#000"/>
<rect x="548.12" y="724.05" width="3.70" height="12.20" fill="#000"/>
<rect x="557.88" y="724.05" width="3.70" height="12.20" fill="#000"/>
<rect x="577.41" y="730.11" width="3.70" height="6.14" fill="#000"/>
<path d="M340 627.5V736.25" fill="none" stroke="#4a4a4a" stroke-width="1.1"/>
<path d="M337.6 736.25H593.8" fill="none" stroke="#000" stroke-width="1"/>
<path d="M338.2 736.25H340" stroke="#111" stroke-width="0.9"/>
<text transform="translate(332.10,739.15) scale(0.88,1)" text-anchor="end" font-size="8.2" fill="#000" stroke="#000" stroke-width="0.12">0.00</text>
<path d="M338.2 720.71H340" stroke="#111" stroke-width="0.9"/>
<text transform="translate(332.10,723.61) scale(0.88,1)" text-anchor="end" font-size="8.2" fill="#000" stroke="#000" stroke-width="0.12">0.02</text>
<path d="M338.2 705.18H340" stroke="#111" stroke-width="0.9"/>
<text transform="translate(332.10,708.08) scale(0.88,1)" text-anchor="end" font-size="8.2" fill="#000" stroke="#000" stroke-width="0.12">0.04</text>
<path d="M338.2 689.64H340" stroke="#111" stroke-width="0.9"/>
<text transform="translate(332.10,692.54) scale(0.88,1)" text-anchor="end" font-size="8.2" fill="#000" stroke="#000" stroke-width="0.12">0.06</text>
<path d="M338.2 674.11H340" stroke="#111" stroke-width="0.9"/>
<text transform="translate(332.10,677.01) scale(0.88,1)" text-anchor="end" font-size="8.2" fill="#000" stroke="#000" stroke-width="0.12">0.08</text>
<path d="M338.2 658.57H340" stroke="#111" stroke-width="0.9"/>
<text transform="translate(332.10,661.47) scale(0.88,1)" text-anchor="end" font-size="8.2" fill="#000" stroke="#000" stroke-width="0.12">0.10</text>
<path d="M338.2 643.04H340" stroke="#111" stroke-width="0.9"/>
<text transform="translate(332.10,645.94) scale(0.88,1)" text-anchor="end" font-size="8.2" fill="#000" stroke="#000" stroke-width="0.12">0.12</text>
<path d="M338.2 627.50H340" stroke="#111" stroke-width="0.9"/>
<text transform="translate(332.10,630.40) scale(0.88,1)" text-anchor="end" font-size="8.2" fill="#000" stroke="#000" stroke-width="0.12">0.14</text>
<path d="M340.00 736.25v2.3" stroke="#111" stroke-width="0.9"/>
<path d="M349.76 736.25v2.3" stroke="#111" stroke-width="0.9"/>
<path d="M359.52 736.25v2.3" stroke="#111" stroke-width="0.9"/>
<path d="M369.28 736.25v2.3" stroke="#111" stroke-width="0.9"/>
<path d="M379.05 736.25v2.3" stroke="#111" stroke-width="0.9"/>
<path d="M388.81 736.25v2.3" stroke="#111" stroke-width="0.9"/>
<path d="M398.57 736.25v2.3" stroke="#111" stroke-width="0.9"/>
<path d="M408.33 736.25v2.3" stroke="#111" stroke-width="0.9"/>
<path d="M418.09 736.25v2.3" stroke="#111" stroke-width="0.9"/>
<path d="M427.85 736.25v2.3" stroke="#111" stroke-width="0.9"/>
<path d="M437.62 736.25v2.3" stroke="#111" stroke-width="0.9"/>
<path d="M447.38 736.25v2.3" stroke="#111" stroke-width="0.9"/>
<path d="M457.14 736.25v2.3" stroke="#111" stroke-width="0.9"/>
<path d="M466.90 736.25v2.3" stroke="#111" stroke-width="0.9"/>
<path d="M476.66 736.25v2.3" stroke="#111" stroke-width="0.9"/>
<path d="M486.42 736.25v2.3" stroke="#111" stroke-width="0.9"/>
<path d="M496.18 736.25v2.3" stroke="#111" stroke-width="0.9"/>
<path d="M505.95 736.25v2.3" stroke="#111" stroke-width="0.9"/>
<path d="M515.71 736.25v2.3" stroke="#111" stroke-width="0.9"/>
<path d="M525.47 736.25v2.3" stroke="#111" stroke-width="0.9"/>
<path d="M535.23 736.25v2.3" stroke="#111" stroke-width="0.9"/>
<path d="M544.99 736.25v2.3" stroke="#111" stroke-width="0.9"/>
<path d="M554.75 736.25v2.3" stroke="#111" stroke-width="0.9"/>
<path d="M564.52 736.25v2.3" stroke="#111" stroke-width="0.9"/>
<path d="M574.28 736.25v2.3" stroke="#111" stroke-width="0.9"/>
<path d="M584.04 736.25v2.3" stroke="#111" stroke-width="0.9"/>
<path d="M593.80 736.25v2.3" stroke="#111" stroke-width="0.9"/>
<text transform="translate(344.88,747.55) scale(0.9,1)" text-anchor="middle" font-size="8.2" fill="#000" stroke="#000" stroke-width="0.18">0</text>
<text transform="translate(354.64,747.55) scale(0.9,1)" text-anchor="middle" font-size="8.2" fill="#000" stroke="#000" stroke-width="0.18">1</text>
<text transform="translate(364.40,747.55) scale(0.9,1)" text-anchor="middle" font-size="8.2" fill="#000" stroke="#000" stroke-width="0.18">2</text>
<text transform="translate(374.17,747.55) scale(0.9,1)" text-anchor="middle" font-size="8.2" fill="#000" stroke="#000" stroke-width="0.18">3</text>
<text transform="translate(383.93,747.55) scale(0.9,1)" text-anchor="middle" font-size="8.2" fill="#000" stroke="#000" stroke-width="0.18">4</text>
<text transform="translate(393.69,747.55) scale(0.9,1)" text-anchor="middle" font-size="8.2" fill="#000" stroke="#000" stroke-width="0.18">5</text>
<text transform="translate(403.45,747.55) scale(0.9,1)" text-anchor="middle" font-size="8.2" fill="#000" stroke="#000" stroke-width="0.18">6</text>
<text transform="translate(413.21,747.55) scale(0.9,1)" text-anchor="middle" font-size="8.2" fill="#000" stroke="#000" stroke-width="0.18">7</text>
<text transform="translate(422.97,747.55) scale(0.9,1)" text-anchor="middle" font-size="8.2" fill="#000" stroke="#000" stroke-width="0.18">8</text>
<text transform="translate(432.73,747.55) scale(0.9,1)" text-anchor="middle" font-size="8.2" fill="#000" stroke="#000" stroke-width="0.18">9</text>
<text transform="translate(442.50,747.55) scale(0.8,1)" text-anchor="middle" font-size="8.2" fill="#000" stroke="#000" stroke-width="0.18">10</text>
<text transform="translate(452.26,747.55) scale(0.8,1)" text-anchor="middle" font-size="8.2" fill="#000" stroke="#000" stroke-width="0.18">11</text>
<text transform="translate(462.02,747.55) scale(0.8,1)" text-anchor="middle" font-size="8.2" fill="#000" stroke="#000" stroke-width="0.18">12</text>
<text transform="translate(471.78,747.55) scale(0.8,1)" text-anchor="middle" font-size="8.2" fill="#000" stroke="#000" stroke-width="0.18">13</text>
<text transform="translate(481.54,747.55) scale(0.8,1)" text-anchor="middle" font-size="8.2" fill="#000" stroke="#000" stroke-width="0.18">14</text>
<text transform="translate(491.30,747.55) scale(0.8,1)" text-anchor="middle" font-size="8.2" fill="#000" stroke="#000" stroke-width="0.18">15</text>
<text transform="translate(501.07,747.55) scale(0.8,1)" text-anchor="middle" font-size="8.2" fill="#000" stroke="#000" stroke-width="0.18">16</text>
<text transform="translate(510.83,747.55) scale(0.8,1)" text-anchor="middle" font-size="8.2" fill="#000" stroke="#000" stroke-width="0.18">17</text>
<text transform="translate(520.59,747.55) scale(0.8,1)" text-anchor="middle" font-size="8.2" fill="#000" stroke="#000" stroke-width="0.18">18</text>
<text transform="translate(530.35,747.55) scale(0.8,1)" text-anchor="middle" font-size="8.2" fill="#000" stroke="#000" stroke-width="0.18">19</text>
<text transform="translate(540.11,747.55) scale(0.8,1)" text-anchor="middle" font-size="8.2" fill="#000" stroke="#000" stroke-width="0.18">20</text>
<text transform="translate(549.87,747.55) scale(0.8,1)" text-anchor="middle" font-size="8.2" fill="#000" stroke="#000" stroke-width="0.18">21</text>
<text transform="translate(559.63,747.55) scale(0.8,1)" text-anchor="middle" font-size="8.2" fill="#000" stroke="#000" stroke-width="0.18">22</text>
<text transform="translate(569.40,747.55) scale(0.8,1)" text-anchor="middle" font-size="8.2" fill="#000" stroke="#000" stroke-width="0.18">23</text>
<text transform="translate(579.16,747.55) scale(0.8,1)" text-anchor="middle" font-size="8.2" fill="#000" stroke="#000" stroke-width="0.18">24</text>
<text transform="translate(588.92,747.55) scale(0.8,1)" text-anchor="middle" font-size="8.2" fill="#000" stroke="#000" stroke-width="0.18">25</text>
<path d="M344.88 724.52 L354.64 721.72 L364.40 724.99 L374.17 721.72 L383.93 721.26 L393.69 723.74 L403.45 716.29 L413.21 714.50 L422.97 716.75 L432.73 710.77 L442.50 703.24 L452.26 703.78 L462.02 690.03 L471.78 687.00 L481.54 679.23 L491.30 678.22 L501.07 681.25 L510.83 676.75 L520.59 684.52 L530.35 690.73 L540.11 698.73 L549.87 705.02 L559.63 714.03 L569.40 715.74 L579.16 724.99 L588.92 730.73" fill="none" stroke="#c43735" stroke-width="1.85" stroke-linejoin="round"/>
<circle cx="344.88" cy="724.52" r="1.75" fill="#d96a68" stroke="#c43735" stroke-width="0.9"/>
<circle cx="354.64" cy="721.72" r="1.75" fill="#d96a68" stroke="#c43735" stroke-width="0.9"/>
<circle cx="364.40" cy="724.99" r="1.75" fill="#d96a68" stroke="#c43735" stroke-width="0.9"/>
<circle cx="374.17" cy="721.72" r="1.75" fill="#d96a68" stroke="#c43735" stroke-width="0.9"/>
<circle cx="383.93" cy="721.26" r="1.75" fill="#d96a68" stroke="#c43735" stroke-width="0.9"/>
<circle cx="393.69" cy="723.74" r="1.75" fill="#d96a68" stroke="#c43735" stroke-width="0.9"/>
<circle cx="403.45" cy="716.29" r="1.75" fill="#d96a68" stroke="#c43735" stroke-width="0.9"/>
<circle cx="413.21" cy="714.50" r="1.75" fill="#d96a68" stroke="#c43735" stroke-width="0.9"/>
<circle cx="422.97" cy="716.75" r="1.75" fill="#d96a68" stroke="#c43735" stroke-width="0.9"/>
<circle cx="432.73" cy="710.77" r="1.75" fill="#d96a68" stroke="#c43735" stroke-width="0.9"/>
<circle cx="442.50" cy="703.24" r="1.75" fill="#d96a68" stroke="#c43735" stroke-width="0.9"/>
<circle cx="452.26" cy="703.78" r="1.75" fill="#d96a68" stroke="#c43735" stroke-width="0.9"/>
<circle cx="462.02" cy="690.03" r="1.75" fill="#d96a68" stroke="#c43735" stroke-width="0.9"/>
<circle cx="471.78" cy="687.00" r="1.75" fill="#d96a68" stroke="#c43735" stroke-width="0.9"/>
<circle cx="481.54" cy="679.23" r="1.75" fill="#d96a68" stroke="#c43735" stroke-width="0.9"/>
<circle cx="491.30" cy="678.22" r="1.75" fill="#d96a68" stroke="#c43735" stroke-width="0.9"/>
<circle cx="501.07" cy="681.25" r="1.75" fill="#d96a68" stroke="#c43735" stroke-width="0.9"/>
<circle cx="510.83" cy="676.75" r="1.75" fill="#d96a68" stroke="#c43735" stroke-width="0.9"/>
<circle cx="520.59" cy="684.52" r="1.75" fill="#d96a68" stroke="#c43735" stroke-width="0.9"/>
<circle cx="530.35" cy="690.73" r="1.75" fill="#d96a68" stroke="#c43735" stroke-width="0.9"/>
<circle cx="540.11" cy="698.73" r="1.75" fill="#d96a68" stroke="#c43735" stroke-width="0.9"/>
<circle cx="549.87" cy="705.02" r="1.75" fill="#d96a68" stroke="#c43735" stroke-width="0.9"/>
<circle cx="559.63" cy="714.03" r="1.75" fill="#d96a68" stroke="#c43735" stroke-width="0.9"/>
<circle cx="569.40" cy="715.74" r="1.75" fill="#d96a68" stroke="#c43735" stroke-width="0.9"/>
<circle cx="579.16" cy="724.99" r="1.75" fill="#d96a68" stroke="#c43735" stroke-width="0.9"/>
<circle cx="588.92" cy="730.73" r="1.75" fill="#d96a68" stroke="#c43735" stroke-width="0.9"/>
<text x="169.75" y="761.5" text-anchor="middle" font-size="10.9" fill="#000">JA</text>
<rect x="54.35" y="875.11" width="3.50" height="8.59" fill="#000"/>
<rect x="91.97" y="840.84" width="3.50" height="42.86" fill="#000"/>
<rect x="101.37" y="866.52" width="3.50" height="17.18" fill="#000"/>
<rect x="120.18" y="875.11" width="3.50" height="8.59" fill="#000"/>
<rect x="129.58" y="875.11" width="3.50" height="8.59" fill="#000"/>
<rect x="167.20" y="780.72" width="3.50" height="102.98" fill="#000"/>
<rect x="176.60" y="832.25" width="3.50" height="51.45" fill="#000"/>
<rect x="186.00" y="833.73" width="3.50" height="49.97" fill="#000"/>
<rect x="195.41" y="823.66" width="3.50" height="60.04" fill="#000"/>
<rect x="204.81" y="832.25" width="3.50" height="51.45" fill="#000"/>
<rect x="214.21" y="840.84" width="3.50" height="42.86" fill="#000"/>
<rect x="223.62" y="815.08" width="3.50" height="68.62" fill="#000"/>
<rect x="233.02" y="797.90" width="3.50" height="85.80" fill="#000"/>
<rect x="242.43" y="823.66" width="3.50" height="60.04" fill="#000"/>
<rect x="251.83" y="840.84" width="3.50" height="42.86" fill="#000"/>
<rect x="261.23" y="875.11" width="3.50" height="8.59" fill="#000"/>
<rect x="270.64" y="857.94" width="3.50" height="25.76" fill="#000"/>
<rect x="280.04" y="849.35" width="3.50" height="34.35" fill="#000"/>
<rect x="289.44" y="875.11" width="3.50" height="8.59" fill="#000"/>
<path d="M51.4 774.4V883.7" fill="none" stroke="#333" stroke-width="1.1"/>
<path d="M49.0 883.7H305.3" fill="none" stroke="#000" stroke-width="1"/>
<path d="M49.0 883.70H51.4" stroke="#111" stroke-width="0.9"/>
<text transform="translate(43.30,886.60) scale(0.88,1)" text-anchor="end" font-size="8.2" fill="#000" stroke="#000" stroke-width="0.12">0.00</text>
<path d="M49.0 868.09H51.4" stroke="#111" stroke-width="0.9"/>
<text transform="translate(43.30,870.99) scale(0.88,1)" text-anchor="end" font-size="8.2" fill="#000" stroke="#000" stroke-width="0.12">0.02</text>
<path d="M49.0 852.47H51.4" stroke="#111" stroke-width="0.9"/>
<text transform="translate(43.30,855.37) scale(0.88,1)" text-anchor="end" font-size="8.2" fill="#000" stroke="#000" stroke-width="0.12">0.04</text>
<path d="M49.0 836.86H51.4" stroke="#111" stroke-width="0.9"/>
<text transform="translate(43.30,839.76) scale(0.88,1)" text-anchor="end" font-size="8.2" fill="#000" stroke="#000" stroke-width="0.12">0.06</text>
<path d="M49.0 821.24H51.4" stroke="#111" stroke-width="0.9"/>
<text transform="translate(43.30,824.14) scale(0.88,1)" text-anchor="end" font-size="8.2" fill="#000" stroke="#000" stroke-width="0.12">0.08</text>
<path d="M49.0 805.63H51.4" stroke="#111" stroke-width="0.9"/>
<text transform="translate(43.30,808.53) scale(0.88,1)" text-anchor="end" font-size="8.2" fill="#000" stroke="#000" stroke-width="0.12">0.10</text>
<path d="M49.0 790.01H51.4" stroke="#111" stroke-width="0.9"/>
<text transform="translate(43.30,792.91) scale(0.88,1)" text-anchor="end" font-size="8.2" fill="#000" stroke="#000" stroke-width="0.12">0.12</text>
<path d="M49.0 774.40H51.4" stroke="#111" stroke-width="0.9"/>
<text transform="translate(43.30,777.30) scale(0.88,1)" text-anchor="end" font-size="8.2" fill="#000" stroke="#000" stroke-width="0.12">0.14</text>
<path d="M51.40 883.7v2.3" stroke="#111" stroke-width="0.9"/>
<path d="M60.80 883.7v2.3" stroke="#111" stroke-width="0.9"/>
<path d="M70.21 883.7v2.3" stroke="#111" stroke-width="0.9"/>
<path d="M79.61 883.7v2.3" stroke="#111" stroke-width="0.9"/>
<path d="M89.01 883.7v2.3" stroke="#111" stroke-width="0.9"/>
<path d="M98.42 883.7v2.3" stroke="#111" stroke-width="0.9"/>
<path d="M107.82 883.7v2.3" stroke="#111" stroke-width="0.9"/>
<path d="M117.23 883.7v2.3" stroke="#111" stroke-width="0.9"/>
<path d="M126.63 883.7v2.3" stroke="#111" stroke-width="0.9"/>
<path d="M136.03 883.7v2.3" stroke="#111" stroke-width="0.9"/>
<path d="M145.44 883.7v2.3" stroke="#111" stroke-width="0.9"/>
<path d="M154.84 883.7v2.3" stroke="#111" stroke-width="0.9"/>
<path d="M164.24 883.7v2.3" stroke="#111" stroke-width="0.9"/>
<path d="M173.65 883.7v2.3" stroke="#111" stroke-width="0.9"/>
<path d="M183.05 883.7v2.3" stroke="#111" stroke-width="0.9"/>
<path d="M192.46 883.7v2.3" stroke="#111" stroke-width="0.9"/>
<path d="M201.86 883.7v2.3" stroke="#111" stroke-width="0.9"/>
<path d="M211.26 883.7v2.3" stroke="#111" stroke-width="0.9"/>
<path d="M220.67 883.7v2.3" stroke="#111" stroke-width="0.9"/>
<path d="M230.07 883.7v2.3" stroke="#111" stroke-width="0.9"/>
<path d="M239.47 883.7v2.3" stroke="#111" stroke-width="0.9"/>
<path d="M248.88 883.7v2.3" stroke="#111" stroke-width="0.9"/>
<path d="M258.28 883.7v2.3" stroke="#111" stroke-width="0.9"/>
<path d="M267.69 883.7v2.3" stroke="#111" stroke-width="0.9"/>
<path d="M277.09 883.7v2.3" stroke="#111" stroke-width="0.9"/>
<path d="M286.49 883.7v2.3" stroke="#111" stroke-width="0.9"/>
<path d="M295.90 883.7v2.3" stroke="#111" stroke-width="0.9"/>
<path d="M305.30 883.7v2.3" stroke="#111" stroke-width="0.9"/>
<text transform="translate(56.10,895.00) scale(0.9,1)" text-anchor="middle" font-size="8.2" fill="#000" stroke="#000" stroke-width="0.18">0</text>
<text transform="translate(65.51,895.00) scale(0.9,1)" text-anchor="middle" font-size="8.2" fill="#000" stroke="#000" stroke-width="0.18">1</text>
<text transform="translate(74.91,895.00) scale(0.9,1)" text-anchor="middle" font-size="8.2" fill="#000" stroke="#000" stroke-width="0.18">2</text>
<text transform="translate(84.31,895.00) scale(0.9,1)" text-anchor="middle" font-size="8.2" fill="#000" stroke="#000" stroke-width="0.18">3</text>
<text transform="translate(93.72,895.00) scale(0.9,1)" text-anchor="middle" font-size="8.2" fill="#000" stroke="#000" stroke-width="0.18">4</text>
<text transform="translate(103.12,895.00) scale(0.9,1)" text-anchor="middle" font-size="8.2" fill="#000" stroke="#000" stroke-width="0.18">5</text>
<text transform="translate(112.52,895.00) scale(0.9,1)" text-anchor="middle" font-size="8.2" fill="#000" stroke="#000" stroke-width="0.18">6</text>
<text transform="translate(121.93,895.00) scale(0.9,1)" text-anchor="middle" font-size="8.2" fill="#000" stroke="#000" stroke-width="0.18">7</text>
<text transform="translate(131.33,895.00) scale(0.9,1)" text-anchor="middle" font-size="8.2" fill="#000" stroke="#000" stroke-width="0.18">8</text>
<text transform="translate(140.74,895.00) scale(0.9,1)" text-anchor="middle" font-size="8.2" fill="#000" stroke="#000" stroke-width="0.18">9</text>
<text transform="translate(150.14,895.00) scale(0.8,1)" text-anchor="middle" font-size="8.2" fill="#000" stroke="#000" stroke-width="0.18">10</text>
<text transform="translate(159.54,895.00) scale(0.8,1)" text-anchor="middle" font-size="8.2" fill="#000" stroke="#000" stroke-width="0.18">11</text>
<text transform="translate(168.95,895.00) scale(0.8,1)" text-anchor="middle" font-size="8.2" fill="#000" stroke="#000" stroke-width="0.18">12</text>
<text transform="translate(178.35,895.00) scale(0.8,1)" text-anchor="middle" font-size="8.2" fill="#000" stroke="#000" stroke-width="0.18">13</text>
<text transform="translate(187.75,895.00) scale(0.8,1)" text-anchor="middle" font-size="8.2" fill="#000" stroke="#000" stroke-width="0.18">14</text>
<text transform="translate(197.16,895.00) scale(0.8,1)" text-anchor="middle" font-size="8.2" fill="#000" stroke="#000" stroke-width="0.18">15</text>
<text transform="translate(206.56,895.00) scale(0.8,1)" text-anchor="middle" font-size="8.2" fill="#000" stroke="#000" stroke-width="0.18">16</text>
<text transform="translate(215.96,895.00) scale(0.8,1)" text-anchor="middle" font-size="8.2" fill="#000" stroke="#000" stroke-width="0.18">17</text>
<text transform="translate(225.37,895.00) scale(0.8,1)" text-anchor="middle" font-size="8.2" fill="#000" stroke="#000" stroke-width="0.18">18</text>
<text transform="translate(234.77,895.00) scale(0.8,1)" text-anchor="middle" font-size="8.2" fill="#000" stroke="#000" stroke-width="0.18">19</text>
<text transform="translate(244.18,895.00) scale(0.8,1)" text-anchor="middle" font-size="8.2" fill="#000" stroke="#000" stroke-width="0.18">20</text>
<text transform="translate(253.58,895.00) scale(0.8,1)" text-anchor="middle" font-size="8.2" fill="#000" stroke="#000" stroke-width="0.18">21</text>
<text transform="translate(262.98,895.00) scale(0.8,1)" text-anchor="middle" font-size="8.2" fill="#000" stroke="#000" stroke-width="0.18">22</text>
<text transform="translate(272.39,895.00) scale(0.8,1)" text-anchor="middle" font-size="8.2" fill="#000" stroke="#000" stroke-width="0.18">23</text>
<text transform="translate(281.79,895.00) scale(0.8,1)" text-anchor="middle" font-size="8.2" fill="#000" stroke="#000" stroke-width="0.18">24</text>
<text transform="translate(291.19,895.00) scale(0.8,1)" text-anchor="middle" font-size="8.2" fill="#000" stroke="#000" stroke-width="0.18">25</text>
<text transform="translate(300.60,895.00) scale(0.8,1)" text-anchor="middle" font-size="8.2" fill="#000" stroke="#000" stroke-width="0.18">26</text>
<text transform="translate(13.1,819.5) rotate(-90)" text-anchor="middle" font-size="12.5" fill="#000" stroke="#000" stroke-width="0.06">Frequency</text>
<path d="M56.10 876.21 L65.51 873.94 L74.91 873.94 L84.31 877.69 L93.72 878.47 L103.12 874.18 L112.52 876.67 L121.93 871.68 L131.33 872.22 L140.74 866.21 L150.14 864.42 L159.54 857.16 L168.95 849.66 L178.35 834.67 L187.75 833.89 L197.16 815.62 L206.56 824.68 L215.96 815.39 L225.37 824.37 L234.77 832.17 L244.18 834.12 L253.58 836.39 L262.98 849.66 L272.39 859.97 L281.79 862.70 L291.19 870.43 L300.60 873.94" fill="none" stroke="#c43735" stroke-width="1.85" stroke-linejoin="round"/>
<circle cx="56.10" cy="876.21" r="1.75" fill="#d96a68" stroke="#c43735" stroke-width="0.9"/>
<circle cx="65.51" cy="873.94" r="1.75" fill="#d96a68" stroke="#c43735" stroke-width="0.9"/>
<circle cx="74.91" cy="873.94" r="1.75" fill="#d96a68" stroke="#c43735" stroke-width="0.9"/>
<circle cx="84.31" cy="877.69" r="1.75" fill="#d96a68" stroke="#c43735" stroke-width="0.9"/>
<circle cx="93.72" cy="878.47" r="1.75" fill="#d96a68" stroke="#c43735" stroke-width="0.9"/>
<circle cx="103.12" cy="874.18" r="1.75" fill="#d96a68" stroke="#c43735" stroke-width="0.9"/>
<circle cx="112.52" cy="876.67" r="1.75" fill="#d96a68" stroke="#c43735" stroke-width="0.9"/>
<circle cx="121.93" cy="871.68" r="1.75" fill="#d96a68" stroke="#c43735" stroke-width="0.9"/>
<circle cx="131.33" cy="872.22" r="1.75" fill="#d96a68" stroke="#c43735" stroke-width="0.9"/>
<circle cx="140.74" cy="866.21" r="1.75" fill="#d96a68" stroke="#c43735" stroke-width="0.9"/>
<circle cx="150.14" cy="864.42" r="1.75" fill="#d96a68" stroke="#c43735" stroke-width="0.9"/>
<circle cx="159.54" cy="857.16" r="1.75" fill="#d96a68" stroke="#c43735" stroke-width="0.9"/>
<circle cx="168.95" cy="849.66" r="1.75" fill="#d96a68" stroke="#c43735" stroke-width="0.9"/>
<circle cx="178.35" cy="834.67" r="1.75" fill="#d96a68" stroke="#c43735" stroke-width="0.9"/>
<circle cx="187.75" cy="833.89" r="1.75" fill="#d96a68" stroke="#c43735" stroke-width="0.9"/>
<circle cx="197.16" cy="815.62" r="1.75" fill="#d96a68" stroke="#c43735" stroke-width="0.9"/>
<circle cx="206.56" cy="824.68" r="1.75" fill="#d96a68" stroke="#c43735" stroke-width="0.9"/>
<circle cx="215.96" cy="815.39" r="1.75" fill="#d96a68" stroke="#c43735" stroke-width="0.9"/>
<circle cx="225.37" cy="824.37" r="1.75" fill="#d96a68" stroke="#c43735" stroke-width="0.9"/>
<circle cx="234.77" cy="832.17" r="1.75" fill="#d96a68" stroke="#c43735" stroke-width="0.9"/>
<circle cx="244.18" cy="834.12" r="1.75" fill="#d96a68" stroke="#c43735" stroke-width="0.9"/>
<circle cx="253.58" cy="836.39" r="1.75" fill="#d96a68" stroke="#c43735" stroke-width="0.9"/>
<circle cx="262.98" cy="849.66" r="1.75" fill="#d96a68" stroke="#c43735" stroke-width="0.9"/>
<circle cx="272.39" cy="859.97" r="1.75" fill="#d96a68" stroke="#c43735" stroke-width="0.9"/>
<circle cx="281.79" cy="862.70" r="1.75" fill="#d96a68" stroke="#c43735" stroke-width="0.9"/>
<circle cx="291.19" cy="870.43" r="1.75" fill="#d96a68" stroke="#c43735" stroke-width="0.9"/>
<circle cx="300.60" cy="873.94" r="1.75" fill="#d96a68" stroke="#c43735" stroke-width="0.9"/>
<text x="459.5" y="763.5" text-anchor="middle" font-size="10.9" fill="#000">BH</text>
<rect x="343.93" y="863.83" width="3.60" height="21.52" fill="#000"/>
<rect x="352.39" y="835.87" width="3.60" height="49.48" fill="#000"/>
<rect x="360.85" y="812.17" width="3.60" height="73.18" fill="#000"/>
<rect x="369.31" y="790.65" width="3.60" height="94.70" fill="#000"/>
<rect x="377.77" y="850.94" width="3.60" height="34.41" fill="#000"/>
<rect x="386.23" y="868.10" width="3.60" height="17.25" fill="#000"/>
<rect x="394.69" y="863.83" width="3.60" height="21.52" fill="#000"/>
<rect x="403.15" y="876.72" width="3.60" height="8.63" fill="#000"/>
<rect x="420.07" y="868.10" width="3.60" height="17.25" fill="#000"/>
<rect x="428.53" y="850.94" width="3.60" height="34.41" fill="#000"/>
<rect x="436.99" y="829.42" width="3.60" height="55.93" fill="#000"/>
<rect x="445.45" y="838.05" width="3.60" height="47.30" fill="#000"/>
<rect x="453.91" y="825.06" width="3.60" height="60.29" fill="#000"/>
<rect x="462.37" y="838.05" width="3.60" height="47.30" fill="#000"/>
<rect x="470.83" y="850.94" width="3.60" height="34.41" fill="#000"/>
<rect x="479.29" y="846.58" width="3.60" height="38.77" fill="#000"/>
<rect x="487.75" y="872.46" width="3.60" height="12.89" fill="#000"/>
<rect x="504.67" y="872.46" width="3.60" height="12.89" fill="#000"/>
<rect x="513.13" y="876.72" width="3.60" height="8.63" fill="#000"/>
<rect x="521.59" y="872.46" width="3.60" height="12.89" fill="#000"/>
<rect x="530.05" y="859.57" width="3.60" height="25.78" fill="#000"/>
<rect x="538.51" y="838.05" width="3.60" height="47.30" fill="#000"/>
<rect x="546.97" y="833.69" width="3.60" height="51.66" fill="#000"/>
<rect x="555.43" y="846.58" width="3.60" height="38.77" fill="#000"/>
<rect x="563.89" y="863.83" width="3.60" height="21.52" fill="#000"/>
<rect x="572.35" y="876.72" width="3.60" height="8.63" fill="#000"/>
<rect x="580.81" y="881.08" width="3.60" height="4.27" fill="#000"/>
<path d="M341.2 776.4V885.35" fill="none" stroke="#4a4a4a" stroke-width="1.1"/>
<path d="M338.8 885.35H595" fill="none" stroke="#000" stroke-width="1"/>
<path d="M339.4 885.35H341.2" stroke="#111" stroke-width="0.9"/>
<text transform="translate(333.70,888.25) scale(0.88,1)" text-anchor="end" font-size="8.2" fill="#000" stroke="#000" stroke-width="0.12">0.00</text>
<path d="M339.4 867.19H341.2" stroke="#111" stroke-width="0.9"/>
<text transform="translate(333.70,870.09) scale(0.88,1)" text-anchor="end" font-size="8.2" fill="#000" stroke="#000" stroke-width="0.12">0.02</text>
<path d="M339.4 849.03H341.2" stroke="#111" stroke-width="0.9"/>
<text transform="translate(333.70,851.93) scale(0.88,1)" text-anchor="end" font-size="8.2" fill="#000" stroke="#000" stroke-width="0.12">0.04</text>
<path d="M339.4 830.88H341.2" stroke="#111" stroke-width="0.9"/>
<text transform="translate(333.70,833.77) scale(0.88,1)" text-anchor="end" font-size="8.2" fill="#000" stroke="#000" stroke-width="0.12">0.06</text>
<path d="M339.4 812.72H341.2" stroke="#111" stroke-width="0.9"/>
<text transform="translate(333.70,815.62) scale(0.88,1)" text-anchor="end" font-size="8.2" fill="#000" stroke="#000" stroke-width="0.12">0.08</text>
<path d="M339.4 794.56H341.2" stroke="#111" stroke-width="0.9"/>
<text transform="translate(333.70,797.46) scale(0.88,1)" text-anchor="end" font-size="8.2" fill="#000" stroke="#000" stroke-width="0.12">0.10</text>
<path d="M339.4 776.40H341.2" stroke="#111" stroke-width="0.9"/>
<text transform="translate(333.70,779.30) scale(0.88,1)" text-anchor="end" font-size="8.2" fill="#000" stroke="#000" stroke-width="0.12">0.12</text>
<path d="M341.20 885.35v2.3" stroke="#111" stroke-width="0.9"/>
<path d="M349.66 885.35v2.3" stroke="#111" stroke-width="0.9"/>
<path d="M358.12 885.35v2.3" stroke="#111" stroke-width="0.9"/>
<path d="M366.58 885.35v2.3" stroke="#111" stroke-width="0.9"/>
<path d="M375.04 885.35v2.3" stroke="#111" stroke-width="0.9"/>
<path d="M383.50 885.35v2.3" stroke="#111" stroke-width="0.9"/>
<path d="M391.96 885.35v2.3" stroke="#111" stroke-width="0.9"/>
<path d="M400.42 885.35v2.3" stroke="#111" stroke-width="0.9"/>
<path d="M408.88 885.35v2.3" stroke="#111" stroke-width="0.9"/>
<path d="M417.34 885.35v2.3" stroke="#111" stroke-width="0.9"/>
<path d="M425.80 885.35v2.3" stroke="#111" stroke-width="0.9"/>
<path d="M434.26 885.35v2.3" stroke="#111" stroke-width="0.9"/>
<path d="M442.72 885.35v2.3" stroke="#111" stroke-width="0.9"/>
<path d="M451.18 885.35v2.3" stroke="#111" stroke-width="0.9"/>
<path d="M459.64 885.35v2.3" stroke="#111" stroke-width="0.9"/>
<path d="M468.10 885.35v2.3" stroke="#111" stroke-width="0.9"/>
<path d="M476.56 885.35v2.3" stroke="#111" stroke-width="0.9"/>
<path d="M485.02 885.35v2.3" stroke="#111" stroke-width="0.9"/>
<path d="M493.48 885.35v2.3" stroke="#111" stroke-width="0.9"/>
<path d="M501.94 885.35v2.3" stroke="#111" stroke-width="0.9"/>
<path d="M510.40 885.35v2.3" stroke="#111" stroke-width="0.9"/>
<path d="M518.86 885.35v2.3" stroke="#111" stroke-width="0.9"/>
<path d="M527.32 885.35v2.3" stroke="#111" stroke-width="0.9"/>
<path d="M535.78 885.35v2.3" stroke="#111" stroke-width="0.9"/>
<path d="M544.24 885.35v2.3" stroke="#111" stroke-width="0.9"/>
<path d="M552.70 885.35v2.3" stroke="#111" stroke-width="0.9"/>
<path d="M561.16 885.35v2.3" stroke="#111" stroke-width="0.9"/>
<path d="M569.62 885.35v2.3" stroke="#111" stroke-width="0.9"/>
<path d="M578.08 885.35v2.3" stroke="#111" stroke-width="0.9"/>
<path d="M586.54 885.35v2.3" stroke="#111" stroke-width="0.9"/>
<path d="M595.00 885.35v2.3" stroke="#111" stroke-width="0.9"/>
<text transform="translate(345.43,896.65) scale(0.9,1)" text-anchor="middle" font-size="8.2" fill="#000" stroke="#000" stroke-width="0.18">0</text>
<text transform="translate(353.89,896.65) scale(0.9,1)" text-anchor="middle" font-size="8.2" fill="#000" stroke="#000" stroke-width="0.18">1</text>
<text transform="translate(362.35,896.65) scale(0.9,1)" text-anchor="middle" font-size="8.2" fill="#000" stroke="#000" stroke-width="0.18">2</text>
<text transform="translate(370.81,896.65) scale(0.9,1)" text-anchor="middle" font-size="8.2" fill="#000" stroke="#000" stroke-width="0.18">3</text>
<text transform="translate(379.27,896.65) scale(0.9,1)" text-anchor="middle" font-size="8.2" fill="#000" stroke="#000" stroke-width="0.18">4</text>
<text transform="translate(387.73,896.65) scale(0.9,1)" text-anchor="middle" font-size="8.2" fill="#000" stroke="#000" stroke-width="0.18">5</text>
<text transform="translate(396.19,896.65) scale(0.9,1)" text-anchor="middle" font-size="8.2" fill="#000" stroke="#000" stroke-width="0.18">6</text>
<text transform="translate(404.65,896.65) scale(0.9,1)" text-anchor="middle" font-size="8.2" fill="#000" stroke="#000" stroke-width="0.18">7</text>
<text transform="translate(413.11,896.65) scale(0.9,1)" text-anchor="middle" font-size="8.2" fill="#000" stroke="#000" stroke-width="0.18">8</text>
<text transform="translate(421.57,896.65) scale(0.9,1)" text-anchor="middle" font-size="8.2" fill="#000" stroke="#000" stroke-width="0.18">9</text>
<text transform="translate(430.03,896.65) scale(0.8,1)" text-anchor="middle" font-size="8.2" fill="#000" stroke="#000" stroke-width="0.18">10</text>
<text transform="translate(438.49,896.65) scale(0.8,1)" text-anchor="middle" font-size="8.2" fill="#000" stroke="#000" stroke-width="0.18">11</text>
<text transform="translate(446.95,896.65) scale(0.8,1)" text-anchor="middle" font-size="8.2" fill="#000" stroke="#000" stroke-width="0.18">12</text>
<text transform="translate(455.41,896.65) scale(0.8,1)" text-anchor="middle" font-size="8.2" fill="#000" stroke="#000" stroke-width="0.18">13</text>
<text transform="translate(463.87,896.65) scale(0.8,1)" text-anchor="middle" font-size="8.2" fill="#000" stroke="#000" stroke-width="0.18">14</text>
<text transform="translate(472.33,896.65) scale(0.8,1)" text-anchor="middle" font-size="8.2" fill="#000" stroke="#000" stroke-width="0.18">15</text>
<text transform="translate(480.79,896.65) scale(0.8,1)" text-anchor="middle" font-size="8.2" fill="#000" stroke="#000" stroke-width="0.18">16</text>
<text transform="translate(489.25,896.65) scale(0.8,1)" text-anchor="middle" font-size="8.2" fill="#000" stroke="#000" stroke-width="0.18">17</text>
<text transform="translate(497.71,896.65) scale(0.8,1)" text-anchor="middle" font-size="8.2" fill="#000" stroke="#000" stroke-width="0.18">18</text>
<text transform="translate(506.17,896.65) scale(0.8,1)" text-anchor="middle" font-size="8.2" fill="#000" stroke="#000" stroke-width="0.18">19</text>
<text transform="translate(514.63,896.65) scale(0.8,1)" text-anchor="middle" font-size="8.2" fill="#000" stroke="#000" stroke-width="0.18">20</text>
<text transform="translate(523.09,896.65) scale(0.8,1)" text-anchor="middle" font-size="8.2" fill="#000" stroke="#000" stroke-width="0.18">21</text>
<text transform="translate(531.55,896.65) scale(0.8,1)" text-anchor="middle" font-size="8.2" fill="#000" stroke="#000" stroke-width="0.18">22</text>
<text transform="translate(540.01,896.65) scale(0.8,1)" text-anchor="middle" font-size="8.2" fill="#000" stroke="#000" stroke-width="0.18">23</text>
<text transform="translate(548.47,896.65) scale(0.8,1)" text-anchor="middle" font-size="8.2" fill="#000" stroke="#000" stroke-width="0.18">24</text>
<text transform="translate(556.93,896.65) scale(0.8,1)" text-anchor="middle" font-size="8.2" fill="#000" stroke="#000" stroke-width="0.18">25</text>
<text transform="translate(565.39,896.65) scale(0.8,1)" text-anchor="middle" font-size="8.2" fill="#000" stroke="#000" stroke-width="0.18">26</text>
<text transform="translate(573.85,896.65) scale(0.8,1)" text-anchor="middle" font-size="8.2" fill="#000" stroke="#000" stroke-width="0.18">27</text>
<text transform="translate(582.31,896.65) scale(0.8,1)" text-anchor="middle" font-size="8.2" fill="#000" stroke="#000" stroke-width="0.18">28</text>
<text transform="translate(590.77,896.65) scale(0.8,1)" text-anchor="middle" font-size="8.2" fill="#000" stroke="#000" stroke-width="0.18">29</text>
<path d="M345.43 839.41 L353.89 834.60 L362.35 843.86 L370.81 851.85 L379.27 852.85 L387.73 858.84 L396.19 851.12 L404.65 851.12 L413.11 841.86 L421.57 846.58 L430.03 836.32 L438.49 824.34 L446.95 835.87 L455.41 843.40 L463.87 851.85 L472.33 862.65 L480.79 856.57 L489.25 861.38 L497.71 868.10 L506.17 868.83 L514.63 861.38 L523.09 854.84 L531.55 864.10 L540.01 869.37 L548.47 867.37 L556.93 861.38 L565.39 864.38 L573.85 873.09 L582.31 877.81 L590.77 878.63" fill="none" stroke="#c43735" stroke-width="1.85" stroke-linejoin="round"/>
<circle cx="345.43" cy="839.41" r="1.75" fill="#d96a68" stroke="#c43735" stroke-width="0.9"/>
<circle cx="353.89" cy="834.60" r="1.75" fill="#d96a68" stroke="#c43735" stroke-width="0.9"/>
<circle cx="362.35" cy="843.86" r="1.75" fill="#d96a68" stroke="#c43735" stroke-width="0.9"/>
<circle cx="370.81" cy="851.85" r="1.75" fill="#d96a68" stroke="#c43735" stroke-width="0.9"/>
<circle cx="379.27" cy="852.85" r="1.75" fill="#d96a68" stroke="#c43735" stroke-width="0.9"/>
<circle cx="387.73" cy="858.84" r="1.75" fill="#d96a68" stroke="#c43735" stroke-width="0.9"/>
<circle cx="396.19" cy="851.12" r="1.75" fill="#d96a68" stroke="#c43735" stroke-width="0.9"/>
<circle cx="404.65" cy="851.12" r="1.75" fill="#d96a68" stroke="#c43735" stroke-width="0.9"/>
<circle cx="413.11" cy="841.86" r="1.75" fill="#d96a68" stroke="#c43735" stroke-width="0.9"/>
<circle cx="421.57" cy="846.58" r="1.75" fill="#d96a68" stroke="#c43735" stroke-width="0.9"/>
<circle cx="430.03" cy="836.32" r="1.75" fill="#d96a68" stroke="#c43735" stroke-width="0.9"/>
<circle cx="438.49" cy="824.34" r="1.75" fill="#d96a68" stroke="#c43735" stroke-width="0.9"/>
<circle cx="446.95" cy="835.87" r="1.75" fill="#d96a68" stroke="#c43735" stroke-width="0.9"/>
<circle cx="455.41" cy="843.40" r="1.75" fill="#d96a68" stroke="#c43735" stroke-width="0.9"/>
<circle cx="463.87" cy="851.85" r="1.75" fill="#d96a68" stroke="#c43735" stroke-width="0.9"/>
<circle cx="472.33" cy="862.65" r="1.75" fill="#d96a68" stroke="#c43735" stroke-width="0.9"/>
<circle cx="480.79" cy="856.57" r="1.75" fill="#d96a68" stroke="#c43735" stroke-width="0.9"/>
<circle cx="489.25" cy="861.38" r="1.75" fill="#d96a68" stroke="#c43735" stroke-width="0.9"/>
<circle cx="497.71" cy="868.10" r="1.75" fill="#d96a68" stroke="#c43735" stroke-width="0.9"/>
<circle cx="506.17" cy="868.83" r="1.75" fill="#d96a68" stroke="#c43735" stroke-width="0.9"/>
<circle cx="514.63" cy="861.38" r="1.75" fill="#d96a68" stroke="#c43735" stroke-width="0.9"/>
<circle cx="523.09" cy="854.84" r="1.75" fill="#d96a68" stroke="#c43735" stroke-width="0.9"/>
<circle cx="531.55" cy="864.10" r="1.75" fill="#d96a68" stroke="#c43735" stroke-width="0.9"/>
<circle cx="540.01" cy="869.37" r="1.75" fill="#d96a68" stroke="#c43735" stroke-width="0.9"/>
<circle cx="548.47" cy="867.37" r="1.75" fill="#d96a68" stroke="#c43735" stroke-width="0.9"/>
<circle cx="556.93" cy="861.38" r="1.75" fill="#d96a68" stroke="#c43735" stroke-width="0.9"/>
<circle cx="565.39" cy="864.38" r="1.75" fill="#d96a68" stroke="#c43735" stroke-width="0.9"/>
<circle cx="573.85" cy="873.09" r="1.75" fill="#d96a68" stroke="#c43735" stroke-width="0.9"/>
<circle cx="582.31" cy="877.81" r="1.75" fill="#d96a68" stroke="#c43735" stroke-width="0.9"/>
<circle cx="590.77" cy="878.63" r="1.75" fill="#d96a68" stroke="#c43735" stroke-width="0.9"/>
<text x="173.25" y="917.2" text-anchor="middle" font-size="10.9" fill="#000">ALL</text>
<rect x="56.04" y="1047.17" width="3.00" height="8.93" fill="#000"/>
<rect x="64.53" y="1043.14" width="3.00" height="12.96" fill="#000"/>
<rect x="73.03" y="1043.65" width="3.00" height="12.45" fill="#000"/>
<rect x="81.52" y="1037.48" width="3.00" height="18.62" fill="#000"/>
<rect x="90.00" y="1033.46" width="3.00" height="22.64" fill="#000"/>
<rect x="98.50" y="1036.22" width="3.00" height="19.88" fill="#000"/>
<rect x="106.98" y="1030.19" width="3.00" height="25.91" fill="#000"/>
<rect x="115.47" y="1011.57" width="3.00" height="44.53" fill="#000"/>
<rect x="123.97" y="1004.40" width="3.00" height="51.70" fill="#000"/>
<rect x="132.45" y="994.96" width="3.00" height="61.14" fill="#000"/>
<rect x="140.94" y="984.52" width="3.00" height="71.58" fill="#000"/>
<rect x="149.44" y="975.84" width="3.00" height="80.26" fill="#000"/>
<rect x="157.93" y="969.55" width="3.00" height="86.55" fill="#000"/>
<rect x="166.42" y="955.96" width="3.00" height="100.14" fill="#000"/>
<rect x="174.91" y="946.02" width="3.00" height="110.07" fill="#000"/>
<rect x="183.39" y="945.77" width="3.00" height="110.33" fill="#000"/>
<rect x="191.88" y="955.96" width="3.00" height="100.14" fill="#000"/>
<rect x="200.38" y="964.14" width="3.00" height="91.96" fill="#000"/>
<rect x="208.87" y="978.73" width="3.00" height="77.37" fill="#000"/>
<rect x="217.36" y="1003.89" width="3.00" height="52.21" fill="#000"/>
<rect x="225.85" y="1023.52" width="3.00" height="32.58" fill="#000"/>
<rect x="234.33" y="1035.47" width="3.00" height="20.63" fill="#000"/>
<rect x="242.82" y="1043.14" width="3.00" height="12.96" fill="#000"/>
<rect x="251.31" y="1046.66" width="3.00" height="9.43" fill="#000"/>
<rect x="259.81" y="1050.82" width="3.00" height="5.28" fill="#000"/>
<rect x="268.30" y="1052.33" width="3.00" height="3.77" fill="#000"/>
<rect x="276.79" y="1054.84" width="3.00" height="1.26" fill="#000"/>
<rect x="285.27" y="1055.47" width="3.00" height="0.63" fill="#000"/>
<path d="M53.3 930.3V1056.1" fill="none" stroke="#333" stroke-width="1.1"/>
<path d="M50.9 1056.1H308" fill="none" stroke="#000" stroke-width="1"/>
<path d="M50.9 1056.10H53.3" stroke="#111" stroke-width="0.9"/>
<text transform="translate(47.10,1059.00) scale(0.88,1)" text-anchor="end" font-size="8.2" fill="#000" stroke="#000" stroke-width="0.12">0</text>
<path d="M50.9 1043.52H53.3" stroke="#111" stroke-width="0.9"/>
<text transform="translate(47.10,1046.42) scale(0.88,1)" text-anchor="end" font-size="8.2" fill="#000" stroke="#000" stroke-width="0.12">0.01</text>
<path d="M50.9 1030.94H53.3" stroke="#111" stroke-width="0.9"/>
<text transform="translate(47.10,1033.84) scale(0.88,1)" text-anchor="end" font-size="8.2" fill="#000" stroke="#000" stroke-width="0.12">0.02</text>
<path d="M50.9 1018.36H53.3" stroke="#111" stroke-width="0.9"/>
<text transform="translate(47.10,1021.26) scale(0.88,1)" text-anchor="end" font-size="8.2" fill="#000" stroke="#000" stroke-width="0.12">0.03</text>
<path d="M50.9 1005.78H53.3" stroke="#111" stroke-width="0.9"/>
<text transform="translate(47.10,1008.68) scale(0.88,1)" text-anchor="end" font-size="8.2" fill="#000" stroke="#000" stroke-width="0.12">0.04</text>
<path d="M50.9 993.20H53.3" stroke="#111" stroke-width="0.9"/>
<text transform="translate(47.10,996.10) scale(0.88,1)" text-anchor="end" font-size="8.2" fill="#000" stroke="#000" stroke-width="0.12">0.05</text>
<path d="M50.9 980.62H53.3" stroke="#111" stroke-width="0.9"/>
<text transform="translate(47.10,983.52) scale(0.88,1)" text-anchor="end" font-size="8.2" fill="#000" stroke="#000" stroke-width="0.12">0.06</text>
<path d="M50.9 968.04H53.3" stroke="#111" stroke-width="0.9"/>
<text transform="translate(47.10,970.94) scale(0.88,1)" text-anchor="end" font-size="8.2" fill="#000" stroke="#000" stroke-width="0.12">0.07</text>
<path d="M50.9 955.46H53.3" stroke="#111" stroke-width="0.9"/>
<text transform="translate(47.10,958.36) scale(0.88,1)" text-anchor="end" font-size="8.2" fill="#000" stroke="#000" stroke-width="0.12">0.08</text>
<path d="M50.9 942.88H53.3" stroke="#111" stroke-width="0.9"/>
<text transform="translate(47.10,945.78) scale(0.88,1)" text-anchor="end" font-size="8.2" fill="#000" stroke="#000" stroke-width="0.12">0.09</text>
<path d="M50.9 930.30H53.3" stroke="#111" stroke-width="0.9"/>
<text transform="translate(47.10,933.20) scale(0.88,1)" text-anchor="end" font-size="8.2" fill="#000" stroke="#000" stroke-width="0.12">0.10</text>
<path d="M53.30 1056.1v2.3" stroke="#111" stroke-width="0.9"/>
<path d="M57.54 1056.1v2.3" stroke="#111" stroke-width="0.9"/>
<path d="M61.79 1056.1v2.3" stroke="#111" stroke-width="0.9"/>
<path d="M66.03 1056.1v2.3" stroke="#111" stroke-width="0.9"/>
<path d="M70.28 1056.1v2.3" stroke="#111" stroke-width="0.9"/>
<path d="M74.53 1056.1v2.3" stroke="#111" stroke-width="0.9"/>
<path d="M78.77 1056.1v2.3" stroke="#111" stroke-width="0.9"/>
<path d="M83.02 1056.1v2.3" stroke="#111" stroke-width="0.9"/>
<path d="M87.26 1056.1v2.3" stroke="#111" stroke-width="0.9"/>
<path d="M91.50 1056.1v2.3" stroke="#111" stroke-width="0.9"/>
<path d="M95.75 1056.1v2.3" stroke="#111" stroke-width="0.9"/>
<path d="M100.00 1056.1v2.3" stroke="#111" stroke-width="0.9"/>
<path d="M104.24 1056.1v2.3" stroke="#111" stroke-width="0.9"/>
<path d="M108.48 1056.1v2.3" stroke="#111" stroke-width="0.9"/>
<path d="M112.73 1056.1v2.3" stroke="#111" stroke-width="0.9"/>
<path d="M116.97 1056.1v2.3" stroke="#111" stroke-width="0.9"/>
<path d="M121.22 1056.1v2.3" stroke="#111" stroke-width="0.9"/>
<path d="M125.47 1056.1v2.3" stroke="#111" stroke-width="0.9"/>
<path d="M129.71 1056.1v2.3" stroke="#111" stroke-width="0.9"/>
<path d="M133.95 1056.1v2.3" stroke="#111" stroke-width="0.9"/>
<path d="M138.20 1056.1v2.3" stroke="#111" stroke-width="0.9"/>
<path d="M142.44 1056.1v2.3" stroke="#111" stroke-width="0.9"/>
<path d="M146.69 1056.1v2.3" stroke="#111" stroke-width="0.9"/>
<path d="M150.94 1056.1v2.3" stroke="#111" stroke-width="0.9"/>
<path d="M155.18 1056.1v2.3" stroke="#111" stroke-width="0.9"/>
<path d="M159.43 1056.1v2.3" stroke="#111" stroke-width="0.9"/>
<path d="M163.67 1056.1v2.3" stroke="#111" stroke-width="0.9"/>
<path d="M167.92 1056.1v2.3" stroke="#111" stroke-width="0.9"/>
<path d="M172.16 1056.1v2.3" stroke="#111" stroke-width="0.9"/>
<path d="M176.41 1056.1v2.3" stroke="#111" stroke-width="0.9"/>
<path d="M180.65 1056.1v2.3" stroke="#111" stroke-width="0.9"/>
<path d="M184.89 1056.1v2.3" stroke="#111" stroke-width="0.9"/>
<path d="M189.14 1056.1v2.3" stroke="#111" stroke-width="0.9"/>
<path d="M193.38 1056.1v2.3" stroke="#111" stroke-width="0.9"/>
<path d="M197.63 1056.1v2.3" stroke="#111" stroke-width="0.9"/>
<path d="M201.88 1056.1v2.3" stroke="#111" stroke-width="0.9"/>
<path d="M206.12 1056.1v2.3" stroke="#111" stroke-width="0.9"/>
<path d="M210.37 1056.1v2.3" stroke="#111" stroke-width="0.9"/>
<path d="M214.61 1056.1v2.3" stroke="#111" stroke-width="0.9"/>
<path d="M218.86 1056.1v2.3" stroke="#111" stroke-width="0.9"/>
<path d="M223.10 1056.1v2.3" stroke="#111" stroke-width="0.9"/>
<path d="M227.35 1056.1v2.3" stroke="#111" stroke-width="0.9"/>
<path d="M231.59 1056.1v2.3" stroke="#111" stroke-width="0.9"/>
<path d="M235.83 1056.1v2.3" stroke="#111" stroke-width="0.9"/>
<path d="M240.08 1056.1v2.3" stroke="#111" stroke-width="0.9"/>
<path d="M244.32 1056.1v2.3" stroke="#111" stroke-width="0.9"/>
<path d="M248.57 1056.1v2.3" stroke="#111" stroke-width="0.9"/>
<path d="M252.81 1056.1v2.3" stroke="#111" stroke-width="0.9"/>
<path d="M257.06 1056.1v2.3" stroke="#111" stroke-width="0.9"/>
<path d="M261.31 1056.1v2.3" stroke="#111" stroke-width="0.9"/>
<path d="M265.55 1056.1v2.3" stroke="#111" stroke-width="0.9"/>
<path d="M269.80 1056.1v2.3" stroke="#111" stroke-width="0.9"/>
<path d="M274.04 1056.1v2.3" stroke="#111" stroke-width="0.9"/>
<path d="M278.29 1056.1v2.3" stroke="#111" stroke-width="0.9"/>
<path d="M282.53 1056.1v2.3" stroke="#111" stroke-width="0.9"/>
<path d="M286.77 1056.1v2.3" stroke="#111" stroke-width="0.9"/>
<path d="M291.02 1056.1v2.3" stroke="#111" stroke-width="0.9"/>
<path d="M295.26 1056.1v2.3" stroke="#111" stroke-width="0.9"/>
<path d="M299.51 1056.1v2.3" stroke="#111" stroke-width="0.9"/>
<path d="M303.75 1056.1v2.3" stroke="#111" stroke-width="0.9"/>
<path d="M308.00 1056.1v2.3" stroke="#111" stroke-width="0.9"/>
<text transform="translate(57.54,1068.50) scale(0.9,1)" text-anchor="middle" font-size="8.2" fill="#000" stroke="#000" stroke-width="0.18">1</text>
<text transform="translate(66.03,1068.50) scale(0.9,1)" text-anchor="middle" font-size="8.2" fill="#000" stroke="#000" stroke-width="0.18">2</text>
<text transform="translate(74.53,1068.50) scale(0.9,1)" text-anchor="middle" font-size="8.2" fill="#000" stroke="#000" stroke-width="0.18">3</text>
<text transform="translate(83.02,1068.50) scale(0.9,1)" text-anchor="middle" font-size="8.2" fill="#000" stroke="#000" stroke-width="0.18">4</text>
<text transform="translate(91.50,1068.50) scale(0.9,1)" text-anchor="middle" font-size="8.2" fill="#000" stroke="#000" stroke-width="0.18">5</text>
<text transform="translate(100.00,1068.50) scale(0.9,1)" text-anchor="middle" font-size="8.2" fill="#000" stroke="#000" stroke-width="0.18">6</text>
<text transform="translate(108.48,1068.50) scale(0.9,1)" text-anchor="middle" font-size="8.2" fill="#000" stroke="#000" stroke-width="0.18">7</text>
<text transform="translate(116.97,1068.50) scale(0.9,1)" text-anchor="middle" font-size="8.2" fill="#000" stroke="#000" stroke-width="0.18">8</text>
<text transform="translate(125.47,1068.50) scale(0.9,1)" text-anchor="middle" font-size="8.2" fill="#000" stroke="#000" stroke-width="0.18">9</text>
<text transform="translate(133.95,1068.50) scale(0.86,1)" text-anchor="middle" font-size="8.2" fill="#000" stroke="#000" stroke-width="0.18">10</text>
<text transform="translate(142.44,1068.50) scale(0.86,1)" text-anchor="middle" font-size="8.2" fill="#000" stroke="#000" stroke-width="0.18">11</text>
<text transform="translate(150.94,1068.50) scale(0.86,1)" text-anchor="middle" font-size="8.2" fill="#000" stroke="#000" stroke-width="0.18">12</text>
<text transform="translate(159.43,1068.50) scale(0.86,1)" text-anchor="middle" font-size="8.2" fill="#000" stroke="#000" stroke-width="0.18">13</text>
<text transform="translate(167.92,1068.50) scale(0.86,1)" text-anchor="middle" font-size="8.2" fill="#000" stroke="#000" stroke-width="0.18">14</text>
<text transform="translate(176.41,1068.50) scale(0.86,1)" text-anchor="middle" font-size="8.2" fill="#000" stroke="#000" stroke-width="0.18">15</text>
<text transform="translate(184.89,1068.50) scale(0.86,1)" text-anchor="middle" font-size="8.2" fill="#000" stroke="#000" stroke-width="0.18">16</text>
<text transform="translate(193.38,1068.50) scale(0.86,1)" text-anchor="middle" font-size="8.2" fill="#000" stroke="#000" stroke-width="0.18">17</text>
<text transform="translate(201.88,1068.50) scale(0.86,1)" text-anchor="middle" font-size="8.2" fill="#000" stroke="#000" stroke-width="0.18">18</text>
<text transform="translate(210.37,1068.50) scale(0.86,1)" text-anchor="middle" font-size="8.2" fill="#000" stroke="#000" stroke-width="0.18">19</text>
<text transform="translate(218.86,1068.50) scale(0.86,1)" text-anchor="middle" font-size="8.2" fill="#000" stroke="#000" stroke-width="0.18">20</text>
<text transform="translate(227.35,1068.50) scale(0.86,1)" text-anchor="middle" font-size="8.2" fill="#000" stroke="#000" stroke-width="0.18">21</text>
<text transform="translate(235.83,1068.50) scale(0.86,1)" text-anchor="middle" font-size="8.2" fill="#000" stroke="#000" stroke-width="0.18">22</text>
<text transform="translate(244.32,1068.50) scale(0.86,1)" text-anchor="middle" font-size="8.2" fill="#000" stroke="#000" stroke-width="0.18">23</text>
<text transform="translate(252.81,1068.50) scale(0.86,1)" text-anchor="middle" font-size="8.2" fill="#000" stroke="#000" stroke-width="0.18">24</text>
<text transform="translate(261.31,1068.50) scale(0.86,1)" text-anchor="middle" font-size="8.2" fill="#000" stroke="#000" stroke-width="0.18">25</text>
<text transform="translate(269.80,1068.50) scale(0.86,1)" text-anchor="middle" font-size="8.2" fill="#000" stroke="#000" stroke-width="0.18">26</text>
<text transform="translate(278.29,1068.50) scale(0.86,1)" text-anchor="middle" font-size="8.2" fill="#000" stroke="#000" stroke-width="0.18">27</text>
<text transform="translate(286.77,1068.50) scale(0.86,1)" text-anchor="middle" font-size="8.2" fill="#000" stroke="#000" stroke-width="0.18">28</text>
<text transform="translate(295.26,1068.50) scale(0.86,1)" text-anchor="middle" font-size="8.2" fill="#000" stroke="#000" stroke-width="0.18">29</text>
<text transform="translate(303.75,1068.50) scale(0.86,1)" text-anchor="middle" font-size="8.2" fill="#000" stroke="#000" stroke-width="0.18">30</text>
<text transform="translate(16.1,980.2) rotate(-90)" text-anchor="middle" font-size="12.5" fill="#000" stroke="#000" stroke-width="0.06">Frequency</text>
<path d="M57.54 1036.98 L66.03 1037.48 L74.53 1034.46 L83.02 1036.98 L91.50 1036.98 L100.00 1035.72 L108.48 1033.46 L116.97 1029.30 L125.47 1020.00 L133.95 1003.14 L142.44 984.52 L150.94 968.79 L159.43 955.96 L167.92 948.92 L176.41 943.51 L184.89 951.69 L193.38 962.13 L201.88 975.34 L210.37 988.92 L218.86 1006.41 L227.35 1018.11 L235.83 1028.80 L244.32 1037.98 L252.81 1044.15 L261.31 1048.43 L269.80 1051.57 L278.29 1054.59 L286.77 1055.09 L295.26 1055.60 L303.75 1055.85" fill="none" stroke="#c43735" stroke-width="1.85" stroke-linejoin="round"/>
<circle cx="57.54" cy="1036.98" r="1.75" fill="#d96a68" stroke="#c43735" stroke-width="0.9"/>
<circle cx="66.03" cy="1037.48" r="1.75" fill="#d96a68" stroke="#c43735" stroke-width="0.9"/>
<circle cx="74.53" cy="1034.46" r="1.75" fill="#d96a68" stroke="#c43735" stroke-width="0.9"/>
<circle cx="83.02" cy="1036.98" r="1.75" fill="#d96a68" stroke="#c43735" stroke-width="0.9"/>
<circle cx="91.50" cy="1036.98" r="1.75" fill="#d96a68" stroke="#c43735" stroke-width="0.9"/>
<circle cx="100.00" cy="1035.72" r="1.75" fill="#d96a68" stroke="#c43735" stroke-width="0.9"/>
<circle cx="108.48" cy="1033.46" r="1.75" fill="#d96a68" stroke="#c43735" stroke-width="0.9"/>
<circle cx="116.97" cy="1029.30" r="1.75" fill="#d96a68" stroke="#c43735" stroke-width="0.9"/>
<circle cx="125.47" cy="1020.00" r="1.75" fill="#d96a68" stroke="#c43735" stroke-width="0.9"/>
<circle cx="133.95" cy="1003.14" r="1.75" fill="#d96a68" stroke="#c43735" stroke-width="0.9"/>
<circle cx="142.44" cy="984.52" r="1.75" fill="#d96a68" stroke="#c43735" stroke-width="0.9"/>
<circle cx="150.94" cy="968.79" r="1.75" fill="#d96a68" stroke="#c43735" stroke-width="0.9"/>
<circle cx="159.43" cy="955.96" r="1.75" fill="#d96a68" stroke="#c43735" stroke-width="0.9"/>
<circle cx="167.92" cy="948.92" r="1.75" fill="#d96a68" stroke="#c43735" stroke-width="0.9"/>
<circle cx="176.41" cy="943.51" r="1.75" fill="#d96a68" stroke="#c43735" stroke-width="0.9"/>
<circle cx="184.89" cy="951.69" r="1.75" fill="#d96a68" stroke="#c43735" stroke-width="0.9"/>
<circle cx="193.38" cy="962.13" r="1.75" fill="#d96a68" stroke="#c43735" stroke-width="0.9"/>
<circle cx="201.88" cy="975.34" r="1.75" fill="#d96a68" stroke="#c43735" stroke-width="0.9"/>
<circle cx="210.37" cy="988.92" r="1.75" fill="#d96a68" stroke="#c43735" stroke-width="0.9"/>
<circle cx="218.86" cy="1006.41" r="1.75" fill="#d96a68" stroke="#c43735" stroke-width="0.9"/>
<circle cx="227.35" cy="1018.11" r="1.75" fill="#d96a68" stroke="#c43735" stroke-width="0.9"/>
<circle cx="235.83" cy="1028.80" r="1.75" fill="#d96a68" stroke="#c43735" stroke-width="0.9"/>
<circle cx="244.32" cy="1037.98" r="1.75" fill="#d96a68" stroke="#c43735" stroke-width="0.9"/>
<circle cx="252.81" cy="1044.15" r="1.75" fill="#d96a68" stroke="#c43735" stroke-width="0.9"/>
<circle cx="261.31" cy="1048.43" r="1.75" fill="#d96a68" stroke="#c43735" stroke-width="0.9"/>
<circle cx="269.80" cy="1051.57" r="1.75" fill="#d96a68" stroke="#c43735" stroke-width="0.9"/>
<circle cx="278.29" cy="1054.59" r="1.75" fill="#d96a68" stroke="#c43735" stroke-width="0.9"/>
<circle cx="286.77" cy="1055.09" r="1.75" fill="#d96a68" stroke="#c43735" stroke-width="0.9"/>
<circle cx="295.26" cy="1055.60" r="1.75" fill="#d96a68" stroke="#c43735" stroke-width="0.9"/>
<circle cx="303.75" cy="1055.85" r="1.75" fill="#d96a68" stroke="#c43735" stroke-width="0.9"/>
<!-- NB ylabel with white box overlapping QD -->
<rect x="245.1" y="676" width="14.6" height="61.3" fill="#fff"/>
<text transform="translate(254.8,705.8) rotate(-90)" text-anchor="middle" font-size="12.5" fill="#000" stroke="#000" stroke-width="0.06">Frequency</text>
<!-- legend -->
<rect x="346.7" y="933.8" width="15.6" height="3.5" fill="#000"/>
<rect x="364.4" y="937.6" width="0.7" height="0.8" fill="#777"/>
<text x="369.5" y="938.8" font-size="12.2" fill="#000" stroke="#000" stroke-width="0.12">observed</text>
<path d="M346.7 957H363.8" stroke="#c0302e" stroke-width="1.4"/>
<circle cx="355.2" cy="957" r="1.3" fill="#d0504e" stroke="#c0302e" stroke-width="0.7"/>
<text x="369.5" y="959.6" font-size="12.3" fill="#000" stroke="#000" stroke-width="0.12">simulated</text>

</svg>
</body></html>
